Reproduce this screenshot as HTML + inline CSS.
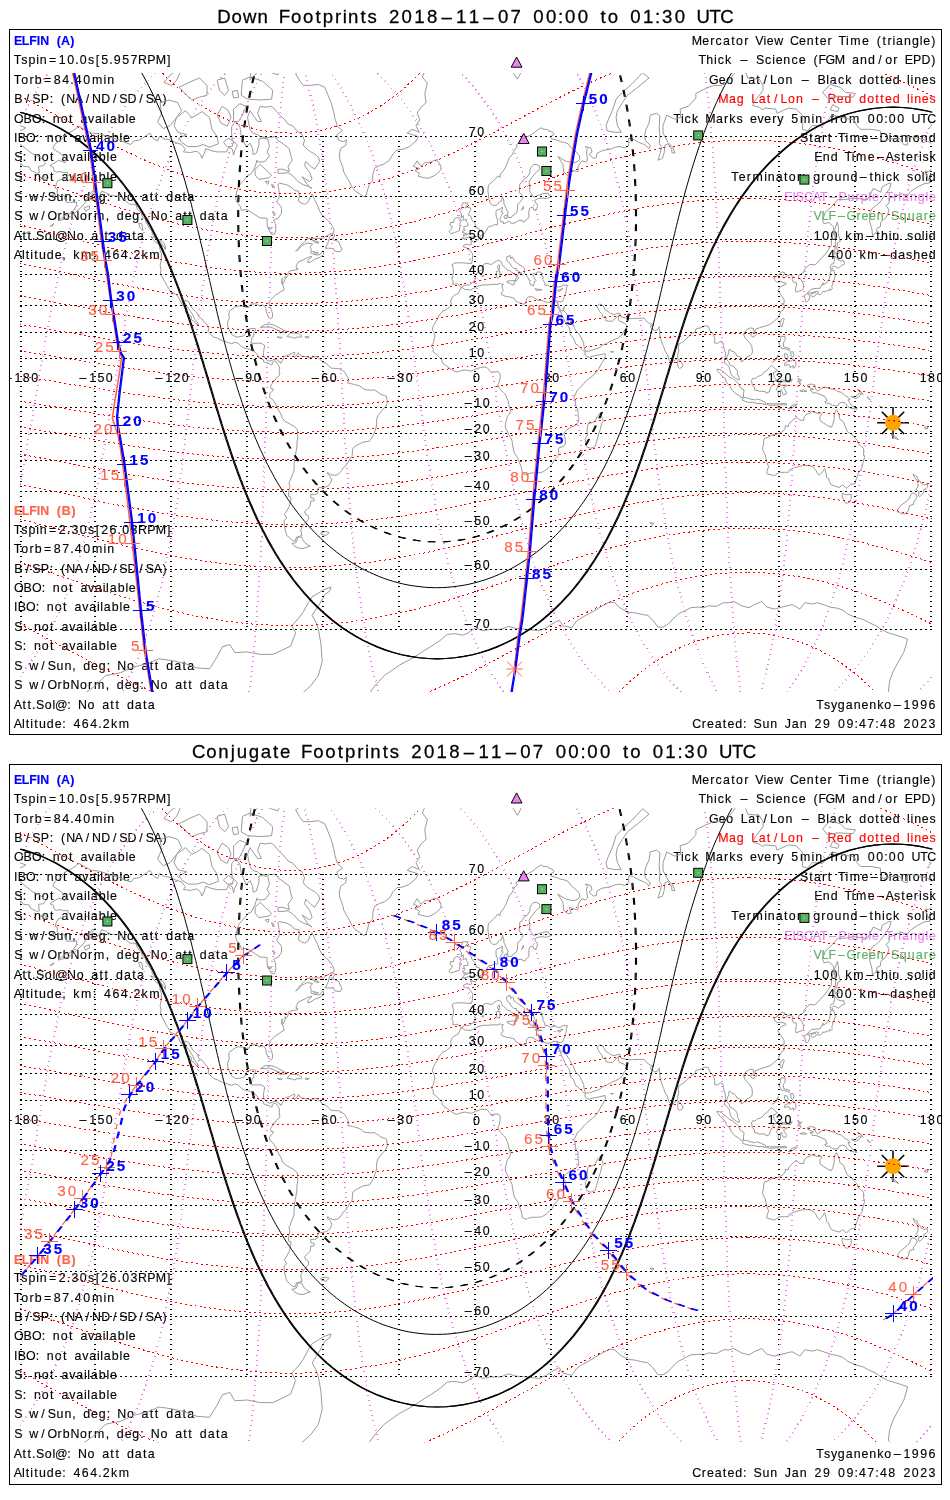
<!DOCTYPE html>
<html><head><meta charset="utf-8"><title>ELFIN Footprints</title>
<style>html,body{margin:0;padding:0;background:#fff}svg{display:block;will-change:transform}text{font-family:"Liberation Sans", sans-serif;text-anchor:middle;white-space:pre;stroke-width:.13px}</style></head>
<body>
<svg width="950" height="1500" viewBox="0 0 950 1500">
<rect width="950" height="1500" fill="#fff"/>
<defs>
<clipPath id="clip1"><rect x="20" y="73.1" width="913" height="619.0"/></clipPath>
<clipPath id="fclip1"><rect x="10" y="29.5" width="931" height="705.0"/></clipPath>
<clipPath id="clip2"><rect x="20" y="808.3" width="913" height="634.0"/></clipPath>
<clipPath id="fclip2"><rect x="10" y="764.5" width="931" height="720.0"/></clipPath>
</defs>
<text x="224.0 236.6 249.6 262.6 273.7 284.5 296.2 308.2 318.0 327.9 338.0 344.7 353.2 363.0 372.2 382.7 394.1 406.7 419.4 432.1 446.7 461.2 473.9 488.5 503.1 515.7 527.1 538.5 551.2 560.7 570.2 582.9 594.3 603.2 613.0 624.1 635.5 648.1 657.7 667.2 679.8 691.2 703.3 715.3 727.0" y="23.0" font-size="18.6" fill="#000" stroke="#000" style="stroke-width:.28px">Down Footprints 2018–11–07 00:00 to 01:30 UTC</text>
<text x="198.8 211.4 223.5 232.7 241.8 253.9 265.9 275.7 285.2 296.0 306.8 318.5 330.5 340.4 350.2 360.3 367.0 375.5 385.3 394.5 405.0 416.4 429.1 441.7 454.4 469.0 483.6 496.2 510.8 525.4 538.0 549.5 560.9 573.5 583.0 592.5 605.2 616.6 625.5 635.3 646.4 657.8 670.5 680.0 689.5 702.1 713.6 725.6 737.6 749.4" y="758.0" font-size="18.6" fill="#000" stroke="#000" style="stroke-width:.28px">Conjugate Footprints 2018–11–07 00:00 to 01:30 UTC</text>
<g id="panel1">
<text x="18.1 25.6 33.0 38.4 44.7 52.6 58.9 65.6 72.3" y="45.2" font-size="12.4" fill="#0000ff" stroke="#0000ff" font-weight="bold">ELFIN (A)</text>
<text x="17.5 24.4 31.9 37.6 43.2 52.6 62.3 70.7 76.9 83.2 91.0 97.5 104.6 110.9 117.2 125.6 133.9 142.5 151.3 160.8 168.7" y="64.0" font-size="12.4" fill="#000" stroke="#000">Tspin=10.0s[5.957RPM]</text>
<text x="17.5 24.8 31.5 38.2 47.6 57.3 65.6 71.9 78.2 86.6 97.1 105.0 110.7" y="83.5" font-size="12.4" fill="#000" stroke="#000">Torb=84.40min</text>
<text x="18.5 27.5 36.3 44.9 51.4 56.8 63.1 70.7 79.0 87.4 96.6 105.7 114.7 123.5 132.0 141.1 149.9 157.8 164.5" y="102.8" font-size="12.4" fill="#000" stroke="#000">B/SP: (NA/ND/SD/SA)</text>
<text x="18.7 27.7 36.7 43.4 48.9 56.2 64.2 70.7 76.5 83.9 91.2 98.5 104.2 107.5 113.2 121.2 126.8 132.3" y="122.7" font-size="12.4" fill="#000" stroke="#000">OBO: not available</text>
<text x="15.8 21.9 30.9 37.6 43.0 50.3 58.3 64.8 70.7 78.0 85.3 92.7 98.3 101.7 107.3 115.3 120.9 126.4" y="141.6" font-size="12.4" fill="#000" stroke="#000">IBO: not available</text>
<text x="18.3 24.6 30.0 37.4 45.3 51.8 57.7 65.0 72.3 79.7 85.3 88.7 94.3 102.3 108.0 113.4" y="161.0" font-size="12.4" fill="#000" stroke="#000">S: not available</text>
<text x="18.3 24.6 30.0 37.4 45.3 51.8 57.7 65.0 72.3 79.7 85.3 88.7 94.3 102.3 108.0 113.4" y="180.7" font-size="12.4" fill="#000" stroke="#000">S: not available</text>
<text x="18.3 25.8 33.8 43.0 51.8 60.0 67.9 74.0 79.5 86.8 94.5 102.3 108.4 113.8 121.8 130.4 137.7 145.0 151.5 156.6 162.4 169.8 177.7 184.2 190.7" y="200.6" font-size="12.4" fill="#000" stroke="#000">S w/Sun, deg: No att data</text>
<text x="18.3 25.8 33.8 43.0 52.2 59.6 66.3 74.9 83.4 90.1 99.2 107.5 113.0 120.3 128.1 135.8 141.9 147.3 155.3 163.9 171.2 178.6 185.1 190.1 195.9 203.3 211.2 217.7 224.2" y="220.4" font-size="12.4" fill="#000" stroke="#000">S w/OrbNorm, deg: No att data</text>
<text x="17.9 24.2 29.2 33.8 40.1 48.2 53.9 61.2 71.5 80.1 87.4 94.8 101.3 106.3 112.1 119.5 127.4 133.9 140.4" y="239.5" font-size="12.4" fill="#000" stroke="#000">Att.Sol@No att data</text>
<text x="17.9 23.3 27.5 31.7 35.9 42.4 50.3 58.1 64.0 69.4 76.3 86.2 94.5 100.0 107.5 115.9 124.3 130.6 136.9 144.6 154.5" y="258.8" font-size="12.4" fill="#000" stroke="#000">Altitude, km: 464.2km</text>
<text x="18.1 25.6 33.0 38.4 44.7 52.6 58.9 66.3 73.6" y="514.8" font-size="12.4" fill="#ff6347" stroke="#ff6347" font-weight="bold">ELFIN (B)</text>
<text x="17.5 24.4 31.9 37.6 43.2 52.6 62.3 68.6 74.9 83.2 91.0 97.5 104.6 113.0 119.3 125.6 133.9 142.5 151.3 160.8 168.7" y="533.6" font-size="12.4" fill="#000" stroke="#000">Tspin=2.30s[26.03RPM]</text>
<text x="17.5 24.8 31.5 38.2 47.6 57.3 65.6 71.9 78.2 86.6 97.1 105.0 110.7" y="552.8" font-size="12.4" fill="#000" stroke="#000">Torb=87.40min</text>
<text x="18.5 27.5 36.3 44.9 51.4 56.8 63.1 70.7 79.0 87.4 96.6 105.7 114.7 123.5 132.0 141.1 149.9 157.8 164.5" y="572.6" font-size="12.4" fill="#000" stroke="#000">B/SP: (NA/ND/SD/SA)</text>
<text x="18.7 27.7 36.7 43.4 48.9 56.2 64.2 70.7 76.5 83.9 91.2 98.5 104.2 107.5 113.2 121.2 126.8 132.3" y="591.7" font-size="12.4" fill="#000" stroke="#000">OBO: not available</text>
<text x="15.8 21.9 30.9 37.6 43.0 50.3 58.3 64.8 70.7 78.0 85.3 92.7 98.3 101.7 107.3 115.3 120.9 126.4" y="611.4" font-size="12.4" fill="#000" stroke="#000">IBO: not available</text>
<text x="18.3 24.6 30.0 37.4 45.3 51.8 57.7 65.0 72.3 79.7 85.3 88.7 94.3 102.3 108.0 113.4" y="630.6" font-size="12.4" fill="#000" stroke="#000">S: not available</text>
<text x="18.3 24.6 30.0 37.4 45.3 51.8 57.7 65.0 72.3 79.7 85.3 88.7 94.3 102.3 108.0 113.4" y="650.2" font-size="12.4" fill="#000" stroke="#000">S: not available</text>
<text x="18.3 25.8 33.8 43.0 51.8 60.0 67.9 74.0 79.5 86.8 94.5 102.3 108.4 113.8 121.8 130.4 137.7 145.0 151.5 156.6 162.4 169.8 177.7 184.2 190.7" y="670.0" font-size="12.4" fill="#000" stroke="#000">S w/Sun, deg: No att data</text>
<text x="18.3 25.8 33.8 43.0 52.2 59.6 66.3 74.9 83.4 90.1 99.2 107.5 113.0 120.3 128.1 135.8 141.9 147.3 155.3 163.9 171.2 178.6 185.1 190.1 195.9 203.3 211.2 217.7 224.2" y="689.4" font-size="12.4" fill="#000" stroke="#000">S w/OrbNorm, deg: No att data</text>
<text x="17.9 24.2 29.2 33.8 40.1 48.2 53.9 61.2 69.0 74.4 82.4 91.0 98.3 105.7 112.1 117.2 123.0 130.4 138.3 144.8 151.3" y="708.7" font-size="12.4" fill="#000" stroke="#000">Att.Sol@: No att data</text>
<text x="17.9 23.3 27.5 31.7 35.9 42.4 50.3 58.1 64.0 69.4 76.9 85.3 93.7 100.0 106.3 114.0 123.9" y="728.2" font-size="12.4" fill="#000" stroke="#000">Altitude: 464.2km</text>
<text x="697.0 705.8 712.2 718.7 726.5 733.0 739.5 746.2 752.3 759.4 764.8 770.3 778.7 786.6 794.4 802.5 810.3 816.8 823.1 829.6 835.6 842.3 847.4 855.3 865.4 872.5 878.8 884.2 889.5 893.9 899.5 907.5 915.5 921.1 926.6 933.3" y="45.2" font-size="12.4" fill="#000" stroke="#000">Mercator View Center Time (triangle)</text>
<text x="702.4 709.7 715.4 720.8 728.2 735.1 743.9 752.7 760.2 768.2 773.6 779.1 786.8 794.6 802.1 809.2 815.5 822.2 830.4 839.8 848.2 855.5 863.5 871.5 880.1 888.6 895.3 901.4 908.8 917.1 925.9 933.3" y="64.0" font-size="12.4" fill="#000" stroke="#000">Thick – Science (FGM and/or EPD)</text>
<text x="713.9 722.1 729.8 737.2 744.1 751.6 758.1 765.2 773.4 781.0 788.9 796.3 805.1 813.9 821.6 827.7 833.3 841.1 848.4 855.3 862.7 870.6 877.1 882.1 888.4 896.2 903.5 908.5 911.9 917.6 925.3 932.6" y="83.5" font-size="12.4" fill="#000" stroke="#000">Geo Lat/Lon – Black dotted lines</text>
<text x="723.3 732.4 740.3 747.7 754.6 762.1 768.6 775.7 783.9 791.4 799.4 806.7 815.5 824.3 832.1 840.2 848.0 855.3 862.7 870.6 877.1 882.1 888.4 896.2 903.5 908.5 911.9 917.6 925.3 932.6" y="102.8" font-size="12.4" fill="#f00" stroke="#f00">Mag Lat/Lon – Red dotted lines</text>
<text x="677.3 682.3 687.7 695.1 702.0 710.4 719.4 726.1 732.4 739.5 746.4 753.5 760.6 767.8 774.3 780.3 787.0 794.6 805.1 813.0 818.7 826.0 831.9 837.1 843.8 854.1 863.7 871.3 879.6 885.9 892.2 900.6 908.1 916.1 924.0 931.8" y="122.7" font-size="12.4" fill="#000" stroke="#000">Tick Marks every 5min from 00:00 UTC</text>
<text x="804.2 810.9 817.4 824.1 829.4 835.2 841.9 847.0 854.9 865.0 874.2 884.0 890.1 895.8 906.0 916.3 924.3 932.2" y="141.6" font-size="12.4" fill="#000" stroke="#000">Start Time–Diamond</text>
<text x="818.3 826.2 834.2 841.5 848.2 853.2 861.2 871.3 880.5 889.7 897.0 903.1 909.4 915.9 920.3 925.5 932.6" y="161.0" font-size="12.4" fill="#000" stroke="#000">End Time–Asterisk</text>
<text x="735.1 742.2 748.7 757.7 765.7 771.3 779.3 785.8 792.3 799.0 803.8 809.2 816.6 823.3 830.0 837.9 845.9 853.9 863.3 871.3 877.7 883.4 888.9 896.2 903.1 910.0 917.6 923.2 926.6 932.2" y="180.7" font-size="12.4" fill="#000" stroke="#000">Terminator: ground–thick solid</text>
<text x="788.5 794.2 800.0 808.6 816.8 823.9 832.7 842.6 850.9 857.6 864.3 870.0 875.4 882.6 889.3 895.3 899.7 905.4 913.4 921.3 927.0 932.4" y="200.6" font-size="12.4" fill="#ee82ee" stroke="#ee82ee">EISCAT–Purple Triangle</text>
<text x="817.6 825.0 832.3 841.5 851.4 858.5 865.0 872.5 880.3 887.6 895.1 903.3 911.3 919.2 925.9 932.4" y="220.4" font-size="12.4" fill="#57b260" stroke="#57b260">VLF–Green Square</text>
<text x="817.2 825.6 834.0 841.5 848.4 858.3 870.0 878.0 884.5 890.1 895.8 903.1 910.0 917.6 923.2 926.6 932.2" y="239.5" font-size="12.4" fill="#000" stroke="#000">100 km–thin solid</text>
<text x="831.5 839.8 848.2 855.8 862.7 872.5 884.2 893.7 901.6 909.2 916.7 924.5 932.2" y="258.8" font-size="12.4" fill="#000" stroke="#000">400 km–dashed</text>
<text x="820.1 827.1 834.0 841.3 849.3 857.2 865.0 872.7 880.3 887.8 897.2 906.9 915.3 923.6 932.0" y="708.7" font-size="12.4" fill="#000" stroke="#000">Tsyganenko–1996</text>
<text x="696.7 703.9 710.4 718.1 724.6 730.9 738.6 744.7 750.2 757.7 765.9 773.8 781.2 787.9 795.2 803.2 810.5 818.0 826.4 834.0 841.5 849.9 856.2 862.5 870.8 877.1 883.4 891.8 899.3 906.9 915.3 923.6 932.0" y="728.2" font-size="12.4" fill="#000" stroke="#000">Created: Sun Jan 29 09:47:48 2023</text>
<path d="M899.0,422.8L908.8,422.8 M897.2,427.1L904.2,434.0 M893.0,428.8L893.0,438.6 M888.7,427.1L881.8,434.0 M887.0,422.8L877.2,422.8 M888.7,418.6L881.8,411.7 M893.0,416.8L893.0,407.0 M897.2,418.6L904.2,411.7" stroke="#000" stroke-width="1.5" fill="none"/>
<circle cx="893.0" cy="422.8" r="8" fill="#ffa500"/>
<g clip-path="url(#clip1)" fill="none">
<path d="M49.9,165.7 58.8,160.2 65.1,162.7 65.6,157.7 60.0,153.2 52.9,148.6 54.5,144.5 61.3,139.6 65.4,134.6 72.7,130.8 79.0,126.2 85.4,130.1 91.7,133.1 99.3,133.8 108.2,136.7 118.3,139.6 124.6,142.4 131.0,144.5 133.5,141.0 138.6,140.3 143.6,137.5 150.0,133.1 151.2,135.3 153.8,138.9 157.6,141.0 159.6,136.0 163.9,138.9 169.0,139.6 175.3,142.4 181.6,144.5 185.4,149.2 183.4,151.9 190.5,152.5 196.8,151.2 200.6,154.5 201.9,158.3 204.4,153.2 205.7,148.6 210.8,150.6 217.1,151.9 222.2,151.9 226.5,151.9 228.5,147.2 232.3,149.2 233.6,155.1 234.8,150.6 237.4,145.2 232.3,140.3 231.5,131.6 231.8,126.2 235.8,121.5 239.9,127.0 241.2,135.3 243.2,140.3 246.2,147.2 250.0,143.1 252.6,148.6 253.1,154.5 256.4,153.2 258.9,145.2 258.9,138.9 262.7,138.2 267.8,138.9 269.5,146.6 267.0,151.9 269.5,155.8 265.2,161.4 261.4,162.0 257.6,162.0 256.9,160.2 255.1,166.9 251.3,173.9 247.5,175.6 245.7,178.3 241.7,182.7 238.6,186.4 236.6,192.1 235.6,198.6 236.9,202.0 240.4,206.7 241.4,210.4 246.2,209.4 251.3,212.2 255.1,214.8 260.2,217.9 267.0,218.3 267.3,226.8 269.5,230.9 271.6,234.5 274.6,234.1 275.9,229.7 275.4,223.5 273.6,220.1 278.4,217.9 281.4,213.5 281.7,208.1 279.2,204.3 276.6,202.0 279.2,197.1 279.2,192.1 277.9,184.3 279.7,183.2 286.8,184.8 291.8,187.5 294.4,190.6 298.7,191.1 299.4,196.1 298.2,201.0 302.0,203.4 304.5,204.3 308.3,202.0 310.1,197.1 312.1,194.1 314.6,199.6 317.7,205.7 319.7,211.3 322.7,215.7 327.3,220.1 330.3,222.6 332.4,226.4 334.1,229.7 333.6,232.5 331.1,234.1 326.8,235.7 323.5,238.4 318.4,238.4 313.4,238.4 307.0,238.8 304.5,241.9 300.7,245.3 297.7,249.0 295.6,251.2 298.2,249.7 302.0,245.6 307.0,243.0 312.6,243.8 310.1,247.1 311.3,249.7 310.8,253.0 313.9,254.4 318.4,255.1 321.0,253.7 323.0,250.8 323.8,254.4 320.2,257.2 314.6,259.3 310.8,262.1 307.8,262.8 308.3,259.7 312.1,256.5 308.3,257.2 305.8,258.6 302.0,260.4 298.2,262.1 296.4,265.5 296.1,268.2 298.2,268.8 296.9,269.8 294.4,270.2 290.6,270.8 288.0,272.5 288.0,275.4 286.0,278.0 285.0,276.4 285.0,279.5 283.5,283.3 282.2,284.2 282.0,278.6 281.7,283.6 283.0,284.9 283.7,287.9 284.2,289.8 281.2,291.3 278.4,293.4 275.4,295.2 272.8,297.8 270.3,300.1 269.3,303.6 269.8,306.5 271.3,309.6 272.6,313.8 272.3,317.7 270.6,318.7 268.3,316.6 266.2,312.1 266.0,308.5 263.7,305.3 261.9,305.1 259.2,305.9 256.4,303.9 252.6,303.9 250.0,304.5 249.0,307.3 246.2,307.3 242.9,306.2 238.6,305.9 235.3,306.8 232.3,309.0 229.3,311.3 228.8,314.9 229.3,317.7 227.7,321.7 227.7,325.8 229.0,329.3 231.0,333.2 232.3,335.1 234.3,336.1 236.1,337.1 239.9,336.6 242.9,336.1 245.0,334.5 246.2,331.1 246.7,329.5 251.3,328.5 255.1,328.5 255.6,330.3 253.8,333.0 253.6,336.4 252.1,337.1 251.6,340.3 250.8,343.1 253.8,343.4 257.6,343.1 261.4,343.4 264.7,345.4 264.0,349.3 263.5,352.3 263.5,355.6 265.2,358.1 267.3,360.4 269.8,361.1 272.8,360.1 274.1,359.1 276.6,359.6 279.2,361.4 279.7,361.9 280.9,363.1 279.4,361.9 M278.4,365.1 277.1,363.1 275.4,360.9 273.6,361.4 272.1,362.6 272.3,364.6 270.6,364.9 269.0,363.6 265.7,362.6 263.7,361.9 263.5,359.9 260.2,358.1 258.1,357.4 258.1,355.6 255.9,353.1 253.8,350.8 253.6,349.8 251.3,350.0 247.5,348.7 244.2,348.2 241.7,346.7 237.9,343.1 235.3,342.3 231.5,343.6 227.2,342.3 222.4,340.8 217.6,338.2 213.3,336.9 210.8,334.5 208.2,331.4 208.7,328.5 207.0,325.0 204.7,322.3 201.9,319.0 198.4,316.8 197.9,314.1 195.3,311.3 193.0,309.3 190.5,305.6 188.7,301.6 184.9,300.1 184.7,302.8 185.9,305.1 188.5,308.5 190.5,311.3 193.0,315.4 194.8,319.3 196.8,321.7 198.1,323.9 196.8,324.7 194.3,321.7 191.3,319.6 191.3,316.3 187.2,313.8 185.4,311.6 186.2,309.3 183.7,306.5 181.6,303.3 179.6,299.9 178.6,297.2 175.6,294.0 173.5,292.8 170.2,291.9 169.5,289.5 166.7,285.5 165.2,282.4 163.9,280.2 161.9,276.4 160.4,273.4 161.1,269.8 160.1,265.5 161.4,259.7 161.4,253.7 159.9,249.0 159.6,245.6 163.9,246.4 165.4,249.7 165.4,246.0 163.9,243.4 162.6,241.5 159.3,239.6 155.0,237.3 152.5,234.9 151.7,230.9 149.2,227.6 146.2,222.6 145.4,219.2 142.4,217.0 141.1,212.6 137.3,209.0 136.0,204.8 132.7,204.3 129.7,204.3 125.9,201.0 121.9,197.1 117.0,196.1 110.7,195.6 105.6,192.6 101.8,191.1 99.3,196.1 95.5,198.6 90.9,200.0 92.2,193.6 95.5,190.1 91.7,191.6 89.2,195.1 86.6,199.1 84.6,203.4 80.3,208.1 75.7,212.2 72.7,215.7 68.9,217.5 65.1,219.2 61.3,220.1 58.0,220.9 61.8,217.9 65.1,215.3 68.9,214.4 73.5,210.4 76.0,206.7 77.0,202.4 74.0,202.0 70.2,202.4 66.4,202.4 65.1,199.6 64.3,195.6 60.0,196.1 57.0,192.6 57.5,189.0 55.0,188.0 56.7,183.2 58.3,180.5 61.3,179.4 66.4,177.8 68.1,175.6 67.6,172.1 63.8,172.7 60.0,171.6 56.2,172.1 53.7,170.4 53.7,167.5 49.9,165.7 M364.0,197.1 360.2,194.1 355.2,191.1 351.9,187.0 349.3,181.6 346.3,176.7 343.8,172.1 342.5,166.3 340.0,160.2 339.2,155.1 340.7,148.6 345.8,145.2 346.3,139.6 343.8,141.7 338.7,140.3 336.9,134.6 342.5,130.8 337.4,126.2 334.9,118.3 333.6,111.6 331.1,102.7 328.1,95.3 324.8,87.4 318.4,84.4 310.8,85.4 303.2,85.4 299.4,80.2 295.6,73.7 303.2,69.2 293.1,60.9 290.6,57.2 303.2,44.3 310.8,30.0 323.5,5.5 361.5,-9.5 399.5,-24.0 419.8,-3.7 432.4,14.1 445.1,22.3 429.9,37.3 431.2,50.9 426.1,68.0 422.3,77.0 427.4,83.3 424.8,93.4 426.1,102.7 421.0,107.2 417.2,113.3 419.8,119.9 416.0,125.5 419.3,132.3 412.2,129.3 407.1,133.1 412.2,134.6 418.5,136.7 416.0,141.0 409.6,146.6 403.3,149.2 397.0,149.9 393.2,153.8 389.4,160.2 384.3,163.9 379.2,165.7 374.7,168.1 372.9,173.9 372.6,180.5 369.1,184.8 367.6,190.1 366.1,195.1 364.0,197.1 M279.4,361.9 280.9,363.1 282.5,360.6 284.0,357.4 285.8,355.6 289.3,354.8 292.6,353.1 294.4,352.0 294.9,353.6 293.6,355.6 294.4,357.6 295.6,356.1 298.2,354.3 298.2,352.6 299.4,354.3 302.0,356.3 305.8,356.6 309.6,357.6 313.4,357.1 317.2,356.3 318.4,358.1 321.0,360.1 322.2,361.9 326.0,363.1 328.6,365.9 331.1,368.1 334.9,368.4 338.7,368.6 342.5,370.6 345.0,372.3 346.3,375.1 348.3,378.5 348.8,381.0 347.6,383.0 350.1,383.5 352.6,384.0 354.4,384.5 359.0,385.7 362.0,387.5 364.0,389.4 367.8,389.9 371.6,390.2 374.2,389.9 378.0,392.2 381.0,394.4 384.3,395.4 386.3,396.1 387.1,400.4 387.1,403.4 385.6,406.6 383.0,409.4 380.5,412.4 378.0,415.5 376.7,419.3 376.7,423.2 376.2,427.3 374.9,430.9 373.7,434.4 371.6,438.1 369.4,441.3 366.1,441.6 362.3,442.4 360.2,443.7 357.7,444.8 354.2,447.0 352.6,449.2 352.4,452.5 352.1,456.1 349.8,459.0 348.1,462.4 345.8,465.9 343.3,467.6 341.7,470.5 340.0,472.6 337.4,474.7 334.9,475.3 332.4,475.0 329.6,473.8 327.6,472.3 327.3,473.8 329.8,475.6 330.6,477.5 331.9,479.9 330.3,483.6 327.8,486.1 323.5,487.7 318.9,487.7 317.7,489.6 317.9,493.2 314.6,494.8 310.8,494.2 310.8,497.8 314.1,498.5 314.1,500.8 310.8,501.2 310.1,506.3 307.5,508.8 304.5,511.6 305.8,514.5 308.8,516.3 308.3,519.6 304.5,523.7 302.0,527.2 300.7,530.3 302.0,535.5 299.4,536.3 296.1,537.5 295.6,541.3 292.3,540.4 289.3,537.5 286.8,535.5 285.5,531.1 284.5,526.4 284.0,520.7 286.8,518.1 284.2,514.5 286.8,510.9 289.3,506.3 290.6,501.2 291.1,497.2 288.5,496.2 288.8,491.3 289.8,486.5 289.0,482.4 290.1,480.8 291.3,477.2 293.4,472.6 294.1,469.7 294.1,463.8 294.6,459.0 295.4,455.3 296.1,451.1 296.9,447.0 296.9,442.9 297.7,437.5 297.7,433.0 297.2,429.4 294.6,426.8 291.1,424.7 287.5,422.6 284.7,421.1 282.2,417.8 280.9,414.2 278.9,410.9 277.4,407.9 276.1,404.9 274.1,401.6 272.8,399.6 270.0,397.9 269.5,394.7 270.8,392.4 272.8,390.9 273.3,388.9 271.1,388.9 270.6,386.0 272.1,383.7 272.8,381.3 275.4,380.0 276.1,378.0 278.4,376.6 279.9,373.8 279.2,370.6 279.4,366.9 278.4,365.1 M301.7,537.1 302.7,539.6 304.5,542.5 308.8,545.5 310.3,545.9 307.0,547.2 303.2,548.5 298.2,548.1 294.4,545.9 291.8,543.4 295.6,542.9 297.4,540.4 296.9,537.9 299.4,537.1 301.7,537.1 M321.0,532.3 326.0,531.5 329.1,532.7 326.0,535.5 321.0,534.3 321.0,532.3 M460.6,287.9 462.1,287.6 465.4,289.8 467.9,289.5 470.4,290.1 474.0,288.2 478.0,286.1 483.1,284.9 488.2,284.9 493.2,284.2 497.0,284.5 500.3,283.3 501.6,284.5 503.4,283.9 502.1,286.1 502.4,288.2 503.4,290.4 501.3,292.8 501.3,294.3 503.9,295.7 507.2,296.9 508.9,296.6 512.2,297.8 514.0,298.1 515.5,300.7 518.6,302.5 522.4,303.9 524.9,303.9 526.4,302.2 526.2,299.0 528.7,296.9 531.2,296.6 533.8,297.5 536.3,299.3 538.8,300.4 542.6,300.7 546.4,302.2 549.0,302.5 551.5,301.6 554.0,300.4 556.6,301.0 557.3,301.3 557.8,305.1 558.1,306.5 559.6,309.9 561.1,313.0 562.4,316.3 564.2,319.8 565.4,322.3 566.7,325.0 569.0,327.1 569.7,329.8 570.0,333.5 571.3,336.1 573.3,337.7 574.8,341.6 575.8,344.1 578.1,345.4 580.6,348.0 583.2,350.5 585.2,351.8 584.9,354.1 587.0,356.8 589.5,357.1 593.3,356.1 597.1,355.3 600.9,354.6 605.2,353.6 605.2,357.1 604.2,359.4 602.2,362.6 600.1,366.1 598.4,369.6 595.8,372.6 592.5,376.1 589.5,378.3 586.5,380.8 583.7,383.5 581.4,386.2 579.4,388.4 577.3,389.9 576.1,392.9 574.8,395.4 573.8,397.9 575.3,400.1 575.3,402.9 576.1,406.6 577.8,409.2 578.1,412.4 578.1,415.5 578.9,419.3 578.4,421.9 576.3,424.4 573.0,426.3 569.2,428.1 566.2,430.7 563.9,433.0 564.7,436.2 565.4,439.7 565.4,444.3 563.4,446.4 559.1,447.8 558.3,449.7 558.8,452.5 557.8,456.7 555.3,459.0 554.0,460.7 552.0,464.4 549.0,467.3 546.2,469.7 542.6,472.0 540.4,472.6 536.3,472.9 531.7,472.9 527.4,474.1 526.2,475.0 523.6,473.8 522.1,473.2 521.9,469.7 521.1,466.7 519.3,462.4 518.1,458.7 517.0,456.7 515.0,453.9 513.8,451.4 513.0,447.0 512.2,442.9 512.2,441.0 510.5,437.5 508.9,434.9 507.2,430.9 505.4,427.8 505.4,423.7 506.4,420.6 507.2,416.7 509.4,414.2 510.5,410.4 509.7,407.4 508.9,404.9 507.9,400.4 506.7,397.9 505.9,395.4 505.4,394.7 503.4,392.4 500.8,389.9 499.1,387.5 497.8,384.7 499.3,382.3 499.8,379.3 500.3,376.8 500.1,374.8 499.8,373.1 498.0,371.6 496.3,371.8 493.2,372.1 490.7,372.3 489.2,370.1 486.9,367.4 484.1,367.1 480.6,367.4 478.0,368.4 475.5,369.1 473.0,370.4 470.4,371.1 467.9,370.4 465.4,369.9 461.6,370.4 459.0,371.3 456.5,372.1 454.0,371.1 451.4,369.4 448.1,367.4 446.4,365.9 443.8,364.4 442.1,361.9 441.8,359.4 440.0,358.1 438.0,356.1 437.2,355.1 435.5,353.6 433.2,352.0 433.2,349.5 432.9,348.0 431.2,346.2 432.4,344.1 433.7,342.3 434.2,339.0 435.0,336.4 434.2,333.7 433.7,331.6 432.4,330.1 432.7,327.7 434.2,324.4 435.5,322.0 437.5,319.0 438.8,315.7 441.3,312.7 442.8,311.0 445.1,310.4 447.6,308.5 450.2,306.5 451.2,303.9 450.7,301.0 451.9,297.8 454.0,295.5 456.2,294.6 458.3,293.4 459.8,290.4 460.6,287.9 M461.3,287.3 459.5,285.8 457.8,283.6 455.2,284.2 452.7,284.2 453.2,281.1 451.7,278.9 452.7,276.4 453.2,274.1 453.5,270.8 453.0,267.5 451.9,264.8 454.5,263.1 457.8,262.8 461.6,262.8 465.9,263.1 470.9,263.5 471.7,263.1 472.5,259.0 472.7,255.5 472.5,253.7 470.4,250.8 469.2,249.0 466.6,247.9 463.6,247.1 463.3,245.6 466.6,244.2 470.4,244.9 471.4,244.5 470.9,240.7 472.2,240.7 472.7,241.9 475.5,242.3 475.8,241.5 478.0,239.6 479.6,238.4 480.1,236.1 481.8,235.3 483.6,234.1 484.4,233.7 485.6,231.7 486.9,229.7 487.7,227.6 489.4,226.4 492.7,226.0 493.7,224.7 495.8,224.7 497.0,225.2 497.8,223.5 497.3,221.8 497.5,219.2 496.3,217.0 496.0,214.8 496.0,211.3 497.0,209.9 499.6,209.4 502.4,207.1 502.1,210.4 501.3,212.2 503.1,213.1 501.3,215.7 500.3,217.5 499.8,219.2 500.3,220.1 500.8,221.8 503.4,221.8 503.1,223.5 505.9,223.1 507.2,221.8 509.7,221.4 511.5,223.9 516.0,222.2 518.6,220.5 522.1,220.1 522.9,221.8 524.9,221.8 526.2,219.6 528.7,217.9 529.0,216.2 528.7,211.3 530.0,208.1 532.8,207.1 534.3,210.4 536.3,210.4 537.3,206.7 537.3,204.3 535.0,202.0 535.0,200.0 538.1,198.6 541.4,198.1 546.4,198.6 552.0,196.6 549.0,195.1 548.2,193.1 543.9,193.6 538.8,195.1 533.8,197.1 531.7,194.1 529.5,191.1 530.0,185.9 529.0,182.2 530.0,180.0 532.5,176.7 536.3,172.1 539.8,169.2 539.6,166.3 536.8,164.5 533.8,164.5 531.7,166.3 530.0,169.2 530.0,172.7 527.4,176.7 523.6,179.4 522.4,182.2 519.8,183.8 519.6,187.5 519.1,192.6 521.6,194.6 523.1,197.1 521.9,199.6 519.8,202.4 517.8,203.9 517.6,208.1 517.0,212.2 515.0,214.0 511.7,216.6 511.5,217.5 508.4,217.5 508.2,216.6 507.4,214.0 508.2,212.2 505.9,208.5 505.6,207.1 503.9,203.9 503.9,201.0 502.4,196.6 501.6,201.0 499.6,201.5 497.0,204.8 495.8,205.3 493.2,205.7 489.9,202.9 489.7,201.0 488.7,198.6 488.4,194.1 487.9,191.1 488.2,187.0 488.7,184.8 490.7,183.2 493.2,181.1 495.8,178.3 497.5,176.1 500.3,177.2 500.1,175.0 502.1,172.1 504.1,169.8 505.9,166.3 507.2,163.3 508.4,160.2 509.7,157.0 512.0,155.1 513.5,151.9 514.8,149.2 517.3,147.2 516.0,145.2 519.8,142.4 521.1,140.3 523.6,138.9 527.4,136.7 530.0,135.3 533.8,133.1 536.3,130.8 540.9,127.8 543.9,129.3 546.9,129.3 549.0,130.8 552.8,132.3 554.0,134.6 550.2,136.7 551.5,138.9 555.3,139.6 559.1,141.0 560.4,141.7 564.2,142.4 568.0,143.8 571.8,148.6 576.8,152.5 579.4,155.8 579.9,159.6 576.8,162.0 573.0,162.7 566.7,161.4 562.9,159.6 557.8,156.4 560.4,160.2 562.9,164.5 563.7,172.1 568.0,175.6 571.3,175.0 569.2,169.2 573.0,170.4 576.8,171.6 578.1,171.6 578.1,166.3 581.9,160.8 585.7,162.0 587.5,160.2 587.0,155.8 586.5,151.9 587.5,148.6 585.2,146.6 590.8,147.9 592.0,151.9 589.0,154.5 593.3,158.3 596.3,157.7 597.1,153.2 602.2,150.6 609.8,149.2 612.3,148.6 614.8,147.2 619.9,146.6 625.0,147.9 628.8,145.2 628.8,138.2 632.6,138.9 638.9,142.4 642.7,143.8 645.7,145.2 649.0,148.6 650.3,145.2 645.2,140.3 644.7,134.6 646.0,129.3 649.0,123.1 650.3,115.0 656.6,113.3 659.9,115.8 659.2,127.0 659.9,136.7 659.2,143.8 661.7,147.2 660.4,152.5 657.9,160.2 662.5,158.3 664.2,152.5 665.0,145.2 668.0,143.8 671.8,149.2 671.8,152.5 675.1,153.2 672.6,147.2 668.0,142.4 663.0,133.1 663.0,125.5 666.8,115.0 674.4,119.1 680.7,117.5 680.2,109.0 688.3,106.3 695.9,98.1 695.9,93.4 706.0,88.4 713.6,85.4 721.2,85.4 727.6,82.3 731.4,77.0 739.7,66.9 745.3,71.4 747.8,78.0 759.2,79.1 763.0,85.4 763.0,90.4 754.2,101.8 752.9,105.5 759.2,107.2 763.0,109.9 764.3,108.1 775.7,109.0 777.0,113.3 788.4,108.1 796.0,109.0 802.3,115.0 802.8,123.1 802.3,129.3 807.4,130.8 812.4,125.5 822.6,126.2 828.9,119.1 832.2,115.0 845.4,118.3 854.2,119.9 856.8,125.5 860.6,129.3 870.7,129.3 880.3,130.8 880.8,138.9 883.4,141.0 891.0,138.9 899.8,138.9 903.6,144.5 907.4,145.2 907.4,136.7 913.8,137.5 921.4,138.9 927.7,141.0 931.5,143.8 M19.5,143.8 25.8,148.6 32.2,153.8 39.8,157.0 45.6,162.7 43.6,165.7 38.5,166.3 39.3,172.7 36.7,173.3 30.9,170.4 29.1,166.9 23.3,166.3 20.8,163.3 19.5,169.2 M931.5,169.2 928.5,171.6 925.2,171.0 925.2,173.3 927.7,177.8 930.2,182.7 923.9,183.8 917.6,187.0 911.2,191.1 906.9,196.1 901.9,193.6 896.0,196.1 893.0,197.1 889.2,198.1 889.2,202.9 885.9,205.7 887.2,206.7 888.9,210.4 887.9,214.0 885.4,218.3 880.8,222.2 880.3,226.8 877.0,228.1 876.5,231.7 872.5,235.7 872.0,229.7 869.7,221.4 869.7,212.6 872.5,208.1 875.8,205.7 880.1,202.0 885.4,194.6 889.7,188.5 891.0,183.2 888.9,183.2 882.1,187.0 880.8,192.1 873.2,188.5 868.2,198.6 866.9,199.6 858.0,198.6 853.0,198.1 845.4,199.6 837.8,199.6 831.4,206.7 825.1,212.6 822.6,220.1 823.8,223.5 828.9,222.6 833.7,226.8 833.7,232.5 831.4,239.6 831.4,245.3 827.6,250.8 825.1,254.4 820.0,259.7 815.0,264.8 809.9,264.5 806.9,266.8 804.1,270.2 804.1,272.1 798.7,275.4 798.2,277.3 800.8,279.2 803.3,284.2 803.6,288.2 802.3,290.1 798.5,291.3 796.0,292.2 795.5,288.8 796.5,285.2 796.2,282.7 793.4,282.1 792.2,279.5 792.9,276.4 790.6,274.7 787.9,275.4 783.5,278.3 782.5,276.4 785.1,273.1 782.0,271.8 778.2,275.4 773.9,278.0 775.2,280.5 777.0,282.4 780.8,281.7 785.8,283.0 786.1,284.2 782.0,285.8 780.3,287.3 777.7,290.4 779.0,291.9 780.8,294.9 784.1,299.3 784.1,302.2 784.3,303.0 781.5,303.9 784.6,305.3 783.8,309.3 781.3,311.3 779.0,315.4 778.5,317.7 774.9,320.4 771.9,323.1 769.4,324.7 764.8,326.3 763.0,326.6 759.2,327.9 755.4,329.3 754.7,331.6 753.7,331.1 753.4,328.5 750.4,327.9 747.8,329.0 745.8,330.6 743.5,333.7 744.8,337.7 747.3,340.5 749.9,342.8 751.9,346.7 752.4,351.0 752.1,353.6 749.1,356.1 746.6,357.1 745.3,359.1 742.3,361.4 741.0,361.6 741.5,358.1 739.5,356.8 736.9,356.1 735.9,353.6 733.9,351.8 731.4,351.3 730.1,349.3 728.8,349.8 728.8,353.1 727.1,356.1 726.8,359.9 728.8,361.9 730.1,365.1 732.6,366.1 735.2,368.1 737.4,371.1 737.4,374.3 739.0,377.3 739.5,379.5 737.7,379.8 735.2,377.8 732.4,376.1 730.6,373.1 729.6,369.4 729.3,366.9 727.8,365.6 725.5,363.1 724.5,363.1 724.5,360.6 725.3,356.8 725.5,353.1 724.3,349.3 723.3,345.4 722.8,342.1 720.7,341.3 717.4,343.4 714.4,342.8 714.9,339.0 713.6,335.1 712.4,332.4 710.6,331.9 708.1,326.3 704.8,325.8 701.0,327.7 698.9,328.2 695.9,329.0 695.4,331.1 694.6,332.4 692.9,333.0 690.8,334.3 688.3,336.9 686.5,338.4 684.0,341.3 681.2,342.8 678.9,344.1 678.2,348.0 678.9,350.3 677.7,354.3 677.7,357.4 675.6,359.9 673.6,360.9 671.8,362.9 669.3,360.6 668.5,358.1 667.3,354.3 665.0,350.8 663.7,346.7 662.5,344.1 661.2,340.3 659.9,335.1 659.7,331.1 659.2,328.5 659.4,326.6 657.9,329.3 654.9,330.6 650.8,327.7 650.3,326.1 653.6,324.4 650.3,323.9 648.3,322.6 646.2,320.9 645.2,319.6 644.2,318.2 638.9,318.2 632.6,318.5 631.3,318.7 625.0,317.9 620.7,316.8 619.9,313.5 618.1,313.2 614.3,314.6 610.5,313.5 608.5,311.8 605.5,310.2 604.2,307.9 602.7,305.1 599.6,303.9 598.4,305.1 597.1,306.5 598.4,309.3 599.6,311.6 602.2,314.3 602.7,316.8 604.2,317.7 605.2,316.0 606.2,318.5 605.5,320.4 608.5,321.2 612.3,321.2 615.6,318.2 617.6,316.0 618.4,315.4 618.4,319.0 619.4,321.2 624.0,322.8 627.0,325.8 626.2,328.5 623.7,331.4 621.9,335.1 618.6,337.7 615.6,339.0 612.3,340.3 607.7,342.8 602.2,345.4 598.9,348.0 593.8,349.5 589.5,351.0 585.7,351.3 584.9,349.8 583.9,345.9 583.7,342.8 581.9,339.0 579.9,335.1 576.1,331.1 574.6,328.5 573.0,324.4 570.5,320.9 569.7,318.5 568.0,316.3 565.4,312.1 563.7,310.7 564.2,306.5 562.9,310.2 562.4,311.3 560.6,310.2 558.3,305.6 557.3,301.3 561.1,301.9 562.4,301.3 563.7,298.7 564.2,296.9 565.4,293.7 566.4,290.4 566.2,288.8 567.0,286.7 567.2,284.9 565.4,285.5 563.2,284.9 560.9,286.7 557.8,287.0 553.3,284.5 552.8,286.4 550.2,286.7 547.7,285.2 544.9,285.2 544.7,282.7 542.6,279.5 543.4,277.0 541.9,276.4 541.9,274.7 542.9,273.1 541.9,274.1 541.4,272.5 538.8,271.8 536.3,272.5 536.8,274.1 535.0,274.1 533.5,273.1 532.8,274.7 534.3,277.3 533.8,278.3 536.3,280.5 535.5,281.4 534.3,281.4 534.3,283.3 533.3,284.9 533.8,285.8 532.5,285.8 531.7,284.5 530.5,284.9 529.5,282.1 530.5,280.5 528.7,279.9 528.2,278.0 526.7,275.7 524.6,273.4 524.6,270.5 524.6,268.5 522.4,266.5 521.1,265.8 517.0,263.1 514.0,260.7 513.2,257.9 512.0,256.9 510.7,258.6 510.0,256.2 510.2,255.5 506.7,256.9 506.7,259.7 507.4,261.4 509.7,262.8 511.0,265.8 513.5,268.2 516.5,268.5 516.0,270.2 518.6,271.2 521.1,272.8 522.4,274.4 521.9,275.4 520.8,273.8 519.1,273.1 517.6,274.7 517.3,276.0 518.8,278.0 517.3,279.5 516.3,281.1 515.3,281.1 515.8,278.9 516.3,276.4 515.3,274.7 513.5,274.1 513.0,272.8 511.5,272.1 510.2,270.8 507.4,270.2 506.4,268.8 504.9,267.2 503.4,266.5 502.1,264.8 501.6,263.1 500.8,261.4 500.3,261.1 498.0,260.0 496.3,261.4 494.5,262.1 494.0,262.4 492.0,264.1 490.7,264.5 488.9,263.8 486.9,263.5 484.4,263.8 483.1,265.2 483.6,267.2 483.1,268.8 481.1,270.2 478.0,271.5 477.5,272.5 476.0,274.1 474.7,276.4 476.0,278.6 474.2,280.2 473.7,282.4 473.0,282.4 470.9,283.6 469.4,284.9 466.6,285.2 464.4,285.2 462.1,286.7 461.3,287.3 M461.1,239.2 464.1,238.4 466.6,237.6 470.4,237.3 473.0,236.9 476.3,236.5 479.0,235.3 479.0,234.1 477.3,233.7 478.5,232.5 479.8,229.7 478.8,228.1 476.3,228.1 476.0,225.6 475.5,225.2 475.0,223.5 472.5,220.9 471.7,219.2 470.4,215.7 467.9,214.8 468.9,213.5 470.4,210.4 470.9,208.1 466.6,207.1 464.9,208.1 467.4,204.3 467.9,202.9 462.8,202.9 461.6,206.7 460.8,210.4 459.8,211.7 461.6,214.0 461.1,217.9 463.3,215.7 463.3,219.2 462.6,220.1 466.6,219.6 466.4,221.4 467.9,223.5 467.9,226.0 464.6,226.4 463.8,226.4 464.1,228.5 465.1,229.7 463.6,231.7 462.1,232.1 464.9,233.3 467.4,234.1 468.7,233.7 466.6,234.9 464.6,234.9 463.8,236.5 462.6,238.4 461.1,239.2 M459.3,230.9 460.0,226.4 459.8,223.5 461.3,220.9 459.8,218.3 456.8,217.5 454.5,218.8 453.7,220.9 454.0,222.2 450.2,222.6 450.4,225.6 452.7,226.8 451.4,228.5 450.7,229.7 449.2,231.3 449.9,232.9 450.7,233.7 454.5,232.5 457.8,231.3 459.3,230.9 M418.0,176.1 419.8,173.3 414.7,170.4 419.8,168.6 413.4,166.3 417.2,160.8 421.0,166.3 424.8,162.7 429.9,162.7 434.5,160.2 438.3,161.4 441.0,166.3 440.8,169.8 437.5,173.3 433.7,176.1 428.1,178.3 424.1,177.8 418.0,176.1 M503.4,44.3 509.7,63.3 511.0,69.2 517.3,79.1 519.8,74.8 522.4,69.2 528.7,60.9 523.6,50.9 521.1,40.1 511.0,40.1 503.4,44.3 M606.0,125.5 607.2,130.8 614.8,132.3 621.2,132.3 617.4,125.5 616.1,117.5 617.4,110.7 622.4,102.7 627.5,95.3 637.6,87.4 649.0,78.0 642.7,72.6 632.6,83.3 622.4,92.4 616.1,99.1 612.3,110.7 608.5,119.1 606.0,125.5 M822.6,92.4 830.2,84.4 840.3,87.4 845.4,92.4 855.5,93.4 853.0,97.2 837.8,96.2 827.6,98.1 822.6,92.4 M830.2,109.9 837.8,111.6 839.0,108.1 832.7,104.6 830.2,109.9 M928.2,129.3 931.5,125.5 M19.5,125.5 25.8,127.8 22.0,130.1 19.5,130.1 M807.1,293.4 811.2,289.2 815.0,288.5 820.0,288.2 822.1,284.5 823.3,282.7 822.6,284.9 826.4,283.0 827.6,281.1 829.7,278.0 830.2,274.7 830.2,272.5 830.9,270.8 833.7,270.2 834.7,274.1 835.2,276.4 834.0,280.2 832.7,281.1 832.7,284.2 831.7,286.4 832.4,288.2 830.9,290.1 829.7,290.4 829.7,288.8 829.1,289.8 827.6,291.3 826.4,290.4 825.6,291.6 822.6,291.6 822.3,292.5 820.0,294.9 818.0,294.0 818.3,291.6 816.2,291.3 813.7,292.2 810.7,292.8 807.4,293.7 807.1,293.4 M807.1,293.7 809.1,294.6 809.9,296.9 808.4,300.7 806.6,301.9 805.3,301.3 805.3,298.4 804.3,297.2 804.1,295.5 805.8,294.6 807.1,293.7 M811.2,294.0 815.0,292.5 816.7,294.0 815.5,295.5 812.4,296.9 810.9,295.5 811.2,294.0 M830.9,269.8 830.2,266.5 831.4,264.1 833.5,263.8 834.5,259.7 835.0,256.2 837.8,259.7 841.1,261.1 843.6,260.4 844.1,263.1 844.9,263.8 841.6,265.2 838.5,268.2 834.7,266.2 832.7,266.5 831.9,267.5 832.9,268.8 830.9,269.8 M835.2,254.4 834.7,250.8 835.2,247.1 835.7,241.5 834.7,235.7 834.7,229.7 836.5,224.3 837.3,222.2 838.5,227.6 838.3,233.7 840.3,241.5 837.8,242.6 836.7,247.1 837.3,250.1 839.0,251.5 839.0,253.7 837.0,252.2 835.2,254.4 M783.3,318.2 784.3,319.0 783.3,321.7 781.8,327.1 780.0,324.7 780.0,322.3 782.0,319.0 783.3,318.2 M755.4,332.4 756.7,333.5 755.2,335.8 752.9,337.1 750.9,335.6 750.9,333.7 752.9,332.4 755.4,332.4 M781.0,336.4 785.1,336.4 785.1,340.3 783.3,342.8 783.5,346.7 785.8,347.5 789.6,348.5 789.1,350.8 787.1,349.3 784.1,348.7 781.3,348.5 781.0,346.7 779.5,345.4 779.0,342.1 780.5,341.3 780.5,339.0 781.0,336.4 M793.4,358.6 795.7,361.9 796.0,365.6 794.7,367.4 793.2,368.1 793.4,365.6 790.1,367.6 789.6,365.1 788.1,364.4 784.8,365.6 784.6,363.1 787.9,361.6 790.4,361.6 791.7,360.6 793.4,358.6 M790.4,351.8 792.9,351.8 793.9,355.1 792.2,357.6 790.9,356.1 791.1,354.3 790.4,351.8 M784.6,353.6 787.3,354.3 788.1,356.8 787.1,360.1 785.8,358.6 784.6,356.8 784.6,353.6 M772.4,362.1 775.7,359.9 778.2,354.8 777.5,357.6 774.4,360.9 772.4,362.1 M753.1,378.0 754.9,378.8 757.5,376.6 761.8,375.1 764.3,371.8 766.8,370.6 769.4,367.4 771.4,365.6 773.7,367.1 775.7,369.4 777.5,370.4 774.9,372.1 773.4,372.6 773.9,375.6 774.4,377.6 777.0,380.5 774.2,381.0 773.2,383.0 773.2,385.0 770.9,386.7 770.1,389.2 769.4,391.9 766.1,393.2 765.6,391.7 763.0,391.2 759.2,391.4 758.0,390.4 754.7,390.2 754.2,386.7 752.1,385.0 751.9,382.3 751.4,380.5 753.1,378.0 M716.9,369.1 721.2,370.1 723.8,372.3 726.3,374.3 729.8,377.3 732.6,378.5 736.4,381.5 738.5,383.5 740.2,387.5 744.0,389.9 744.0,391.2 743.5,393.7 743.5,397.4 740.5,397.4 739.7,395.9 734.7,392.9 731.4,389.4 729.6,385.5 726.3,382.3 725.5,378.8 723.0,377.1 720.0,373.8 717.2,370.6 716.9,369.1 M742.0,399.9 744.0,397.6 746.6,397.6 750.4,399.1 755.4,399.9 756.7,398.9 760.7,400.1 765.3,402.4 765.6,404.6 761.8,403.6 758.0,403.6 752.9,402.4 749.1,402.4 745.3,401.4 742.0,399.9 M766.8,403.4 769.4,403.6 771.9,403.9 777.0,403.9 779.5,403.6 786.6,403.6 786.6,404.9 779.5,404.9 777.0,404.9 771.9,405.4 769.4,405.1 766.8,404.6 766.8,403.4 M777.0,406.6 781.5,407.9 779.5,408.6 777.0,406.6 M788.4,408.6 792.2,405.4 797.2,403.9 796.0,405.4 790.9,408.4 788.4,408.6 M778.2,396.6 778.2,391.7 776.5,389.9 777.7,386.0 779.0,383.0 779.5,381.0 781.5,379.8 785.8,380.5 789.6,380.8 792.2,379.0 790.9,382.0 787.1,381.8 782.0,381.8 780.0,383.0 780.0,385.2 783.3,385.2 787.6,385.2 785.1,387.0 783.3,387.7 785.3,390.4 786.6,392.9 785.8,394.4 783.3,394.4 782.0,391.7 781.8,389.7 780.3,390.4 780.5,394.2 780.5,396.6 778.2,396.6 M798.5,378.0 799.8,380.5 801.5,379.3 799.8,382.0 800.8,385.0 799.0,383.0 798.5,378.0 M799.8,390.9 803.6,389.9 806.9,391.2 803.6,391.7 799.8,390.9 M807.4,385.0 811.2,384.0 815.0,385.0 815.5,388.9 817.5,391.2 821.3,388.4 825.1,387.0 830.2,388.7 834.0,389.4 837.8,391.4 841.6,392.4 844.9,395.4 848.4,397.6 849.9,399.6 847.9,399.9 849.2,402.1 851.7,405.4 855.5,408.1 857.3,409.2 854.2,408.9 850.4,408.1 847.9,406.6 845.4,403.1 842.3,402.1 839.0,403.4 837.8,405.9 835.2,405.9 832.7,405.6 828.9,403.1 826.4,403.6 824.6,401.6 827.1,400.9 826.4,399.1 825.1,396.6 820.0,394.4 816.2,392.9 812.4,392.9 811.9,391.2 809.9,390.2 813.7,389.2 811.2,388.4 807.4,386.5 807.4,385.0 M851.2,396.6 855.5,396.6 859.3,393.4 861.3,393.7 859.3,396.6 855.5,398.6 851.2,396.6 M857.5,389.4 861.8,392.4 863.1,394.7 860.6,391.7 857.5,389.4 M867.4,396.6 870.2,399.9 868.2,398.6 867.4,396.6 M879.6,406.1 882.9,407.4 880.8,407.4 879.6,406.1 M836.5,409.7 839.0,414.2 839.8,419.3 843.6,421.9 844.9,425.7 847.4,431.7 851.7,434.1 853.5,436.7 857.3,440.2 857.5,442.9 861.8,447.0 863.6,448.3 863.6,453.9 864.6,457.3 863.1,462.4 861.8,468.2 858.8,472.3 857.3,476.2 855.5,481.1 855.5,483.3 850.4,484.6 846.4,488.4 842.8,484.9 841.6,485.8 839.0,487.4 834.0,485.8 831.4,484.9 829.4,481.8 828.9,478.7 826.4,477.2 826.4,475.0 825.1,469.7 824.6,468.5 822.6,471.7 820.0,474.7 819.5,475.3 818.0,474.1 815.5,469.7 813.7,467.3 808.6,465.3 802.3,465.6 794.7,467.6 789.6,469.7 788.4,472.3 784.6,472.3 779.5,472.3 774.4,475.6 767.1,473.8 766.8,471.4 768.6,466.7 766.8,462.4 765.8,457.5 764.8,453.9 762.3,449.7 763.3,445.6 763.8,440.2 764.3,438.3 767.1,437.8 771.4,435.2 775.9,434.4 779.5,433.3 783.3,430.9 785.1,428.3 785.3,425.7 788.4,426.5 788.6,424.4 790.9,421.9 793.4,419.3 796.7,417.5 799.8,420.1 803.6,420.3 804.3,416.7 806.9,414.0 809.9,413.4 811.4,411.4 817.5,413.4 821.3,412.9 822.1,413.7 819.8,416.7 820.0,420.6 823.8,423.2 827.6,425.7 831.4,427.3 832.7,424.4 834.2,419.3 834.2,415.0 835.2,411.7 836.5,409.7 M842.1,493.5 846.6,494.8 851.2,494.2 851.2,498.5 849.9,501.9 847.4,503.2 845.4,502.9 843.3,499.5 842.1,496.2 842.1,493.5 M913.0,473.8 915.0,475.6 917.1,476.5 918.3,480.2 920.1,481.1 921.1,483.3 923.9,484.9 927.2,483.9 927.7,486.5 926.2,488.7 923.9,489.6 923.6,492.9 920.1,496.5 918.1,495.5 919.3,491.9 916.3,489.6 915.8,489.0 917.8,487.4 918.1,483.3 916.8,480.2 913.8,476.2 913.0,473.8 M913.0,492.9 915.8,494.2 917.1,496.8 915.5,499.5 913.3,502.9 913.8,504.3 909.5,505.6 908.2,511.2 904.9,513.8 901.9,513.8 897.3,511.6 898.1,508.8 901.1,505.3 904.9,502.5 909.2,498.8 911.2,493.9 913.0,492.9 M891.0,433.8 894.8,436.2 898.6,439.7 896.0,438.9 892.2,436.2 891.0,433.8 M924.7,426.8 927.9,427.3 927.4,428.9 924.7,428.6 924.7,426.8 M600.4,412.9 603.4,421.4 601.7,423.2 600.6,428.3 598.4,434.9 596.6,441.6 595.1,446.7 590.8,448.3 587.0,447.0 585.7,442.9 585.2,438.9 587.7,434.9 587.0,430.9 587.7,425.7 588.2,423.7 592.8,422.4 595.8,420.1 597.1,416.7 599.1,414.2 600.4,412.9 M678.2,358.6 681.2,361.9 683.0,364.9 682.0,367.4 679.4,368.4 677.9,366.9 677.7,363.1 678.2,358.6 M260.4,327.4 265.2,324.4 270.3,324.2 274.1,325.2 279.2,327.7 283.7,330.1 287.5,331.9 285.5,332.7 278.7,332.7 279.9,330.8 276.6,329.8 272.8,327.9 268.3,326.6 265.2,327.1 260.4,327.4 M287.0,336.6 290.6,332.7 293.9,333.0 298.2,333.2 302.0,336.1 301.5,337.1 296.9,337.1 294.4,338.4 291.1,337.1 287.0,336.6 M277.1,336.9 282.2,337.4 280.4,338.2 277.1,336.9 M305.3,336.6 309.1,336.9 308.3,337.9 305.3,337.7 305.3,336.6 M325.3,248.2 327.8,243.4 329.8,236.9 333.6,233.7 334.9,234.9 332.4,239.6 334.9,240.4 338.7,241.5 340.0,245.3 342.0,249.0 340.0,251.9 334.9,251.2 333.6,248.6 328.6,248.2 325.3,248.2 M312.1,240.0 318.4,241.9 318.9,243.0 314.6,242.3 312.1,240.0 M312.6,251.5 318.4,253.0 316.4,254.4 312.6,251.5 M150.5,236.5 157.6,238.8 162.6,245.3 159.3,244.9 155.0,241.5 150.5,236.5 M138.6,223.1 141.6,223.5 143.1,230.9 139.8,227.6 138.6,223.1 M84.1,208.1 89.2,205.7 89.7,209.0 85.4,211.3 84.1,208.1 M40.5,177.8 44.8,177.2 47.9,179.4 43.6,180.0 40.5,177.8 M51.9,195.1 55.7,194.6 55.0,197.1 51.9,195.1 M49.9,226.4 53.7,223.5 52.9,225.6 49.9,226.4 M25.8,232.9 29.1,231.7 28.4,232.9 25.8,232.9 M80.3,331.9 82.8,333.5 81.1,335.3 80.3,333.5 80.3,331.9 M507.2,281.1 514.8,280.5 513.8,285.2 507.2,282.4 507.2,281.1 M496.3,271.5 499.6,270.8 500.1,276.4 498.3,278.0 496.8,277.3 496.3,271.5 M497.3,266.5 499.3,264.8 499.6,268.2 498.8,270.2 497.3,266.5 M535.0,288.8 542.1,289.8 536.3,290.4 535.0,288.8 M557.3,290.4 562.9,288.5 561.4,290.4 559.1,291.6 557.3,290.4 M481.6,276.0 483.6,275.1 483.6,276.7 481.6,276.0 M503.9,216.2 507.2,214.8 506.9,218.3 504.6,218.3 503.9,216.2 M521.6,210.4 523.6,206.2 523.1,209.0 521.6,210.4 M649.8,522.6 654.1,523.4 652.3,524.9 649.8,522.6 M610.5,351.5 613.6,351.8 611.0,352.3 610.5,351.5 M312.1,188.5 308.3,185.9 302.0,176.7 309.6,181.6 312.1,178.9 309.6,172.1 304.5,165.7 305.8,161.4 310.8,166.3 314.6,169.2 319.7,161.4 318.4,157.0 314.6,153.8 310.8,151.9 307.0,149.2 303.2,145.2 304.5,140.3 302.0,134.6 296.9,130.8 293.1,126.2 288.0,123.9 284.2,119.1 280.4,115.8 276.6,111.6 272.8,107.2 270.3,106.3 265.2,107.2 260.2,106.3 257.6,113.3 261.4,121.5 257.6,121.5 250.0,110.7 247.5,117.5 250.0,129.3 252.6,133.1 257.6,134.6 260.2,136.7 267.8,137.5 275.4,136.7 277.9,140.3 283.0,143.8 289.3,148.6 290.6,155.1 292.3,160.2 288.0,166.3 289.3,171.6 283.0,169.2 277.9,169.2 277.9,173.3 283.0,173.3 288.0,172.7 293.1,176.1 298.2,181.6 303.2,184.8 308.3,186.4 312.1,188.5 M209.5,147.2 218.4,143.8 217.1,136.7 212.0,129.3 209.5,117.5 201.9,111.6 196.8,115.0 191.8,117.5 185.4,110.7 176.6,117.5 174.0,125.5 177.8,132.3 186.7,134.6 179.1,138.2 181.6,142.4 188.0,146.6 196.8,146.6 203.2,144.5 209.5,147.2 M157.6,122.3 163.4,128.6 170.2,125.5 176.6,117.5 181.6,110.7 177.8,102.7 169.0,100.0 160.1,102.7 161.4,113.3 157.6,122.3 M255.1,169.2 260.2,164.5 265.2,169.2 271.6,175.0 269.0,177.8 258.9,179.4 255.1,175.0 255.1,169.2 M223.4,142.4 228.5,138.2 233.6,141.7 232.3,146.6 227.2,146.6 223.4,142.4 M217.1,115.0 222.2,106.3 228.5,110.7 231.0,117.5 227.2,126.2 220.9,123.1 217.1,115.0 M233.6,121.5 233.6,109.0 239.9,103.7 246.2,106.3 242.4,115.0 238.6,121.5 233.6,121.5 M242.4,80.2 250.0,77.0 262.7,81.2 272.8,90.4 271.6,99.1 260.2,100.0 247.5,99.1 241.2,95.3 242.4,80.2 M217.1,80.2 224.7,78.0 228.5,90.4 224.7,95.3 219.6,90.4 217.1,80.2 M232.3,91.4 237.4,90.4 238.6,97.2 233.6,98.1 232.3,91.4 M179.1,87.4 189.2,82.3 199.4,78.0 207.0,85.4 207.0,95.3 199.4,97.2 191.8,100.0 186.7,95.3 179.1,87.4 M163.9,82.3 171.5,73.7 181.6,69.2 176.6,80.2 171.5,85.4 163.9,82.3 M250.0,80.2 260.2,69.2 277.9,74.8 283.0,63.3 285.5,44.3 298.2,30.0 318.4,-3.7 285.5,-13.5 247.5,14.1 242.4,37.3 252.6,57.2 250.0,80.2 M267.8,227.2 271.6,228.5 269.0,229.3 267.8,227.2 M271.6,184.3 274.1,185.9 272.8,188.0 271.6,184.3 M265.2,181.6 269.0,181.1 267.8,184.3 265.2,181.6 M272.8,211.3 275.4,214.0 274.1,215.7 272.8,211.3 M19.5,702.7 44.8,708.8 70.2,702.7 82.8,694.6 95.5,685.8 105.6,675.6 120.8,672.6 133.5,666.9 146.2,664.2 158.8,658.8 171.5,660.5 184.2,663.3 196.8,667.9 209.5,668.8 217.1,657.0 222.2,646.9 229.8,644.5 234.8,652.7 247.5,651.9 260.2,654.4 272.8,654.4 280.4,651.0 290.6,646.1 295.6,632.9 291.8,625.7 298.2,618.8 303.2,612.2 308.3,602.7 312.1,596.8 317.2,593.9 323.5,589.9 331.1,587.1 329.8,591.0 324.8,594.4 322.2,599.7 318.4,605.8 312.1,615.4 315.9,622.2 318.4,629.3 321.0,644.5 322.2,661.4 318.4,675.6 310.8,685.8 298.2,696.8 323.5,708.8 361.5,705.1 369.1,693.4 376.7,683.7 384.3,675.6 399.5,665.1 409.6,659.7 415.7,656.1 424.8,650.2 431.7,646.1 440.0,640.5 447.4,634.4 455.2,633.7 462.8,635.2 467.9,632.9 475.5,627.8 483.1,630.7 490.7,629.3 500.8,629.3 508.4,626.4 516.0,628.5 526.2,629.3 538.8,630.7 546.4,627.8 551.5,624.3 559.1,620.1 562.9,625.7 571.8,627.8 576.8,620.8 583.2,616.8 589.5,613.5 597.1,609.0 602.2,605.8 609.8,602.1 614.8,602.7 619.9,607.7 627.5,612.2 635.1,612.8 640.2,614.1 647.8,615.4 652.8,620.1 657.9,627.1 663.0,627.1 668.0,624.3 673.1,618.8 678.2,614.1 685.8,610.2 690.8,607.7 698.4,607.1 703.5,607.7 708.6,605.8 716.2,606.4 723.8,602.7 728.8,602.7 733.9,601.5 741.5,605.8 749.1,607.7 754.2,604.6 761.8,601.5 766.8,607.1 774.4,609.0 779.5,607.7 787.1,605.8 792.2,604.6 799.8,609.0 804.8,602.7 812.4,604.0 817.5,602.7 825.1,605.2 830.2,607.1 837.8,608.3 842.8,610.2 847.9,614.1 855.5,617.4 863.1,619.4 868.2,622.2 875.8,625.7 880.8,629.3 888.4,632.9 893.5,634.4 901.1,636.7 907.4,639.0 906.2,644.5 903.6,652.7 898.6,661.4 893.5,670.7 889.7,680.6 888.4,691.2 893.5,698.0 898.6,700.3 906.2,699.1 918.8,702.7 931.5,702.7" stroke="#9a9a9a" stroke-width="1" fill="none" stroke-linejoin="round"/>
<path d="M20,629.5H932 M20,569.5H932 M20,526.5H932 M20,491.5H932 M20,460.5H932 M20,433.5H932 M20,407.5H932 M20,358.5H932 M20,332.5H932 M20,305.5H932 M20,274.5H932 M20,239.5H932 M20,196.5H932 M20,136.5H932" stroke="#000" stroke-width="1" stroke-dasharray="2 3" shape-rendering="crispEdges"/>
<path d="M21,136V630 M95,136V630 M171,136V630 M247,136V630 M323,136V630 M399,136V630 M475,136V630 M551,136V630 M627,136V630 M703,136V630 M779,136V630 M855,136V630 M931,136V630" stroke="#000" stroke-width="2" stroke-dasharray="1 4" shape-rendering="crispEdges"/>
<path d="M747.7,632.9 L751.7,633.0 L755.6,633.2 L759.6,633.4 L763.5,633.8 L767.5,634.3 L771.4,634.8 L775.4,635.5 L779.4,636.3 L783.3,637.2 L787.3,638.1 L791.2,639.2 L795.2,640.4 L799.1,641.8 L803.1,643.2 L807.0,644.7 L811.0,646.4 L814.9,648.1 L818.9,650.0 L822.8,652.1 L826.8,654.2 L830.8,656.5 L834.7,658.9 L838.7,661.4 L842.7,664.1 L846.6,667.0 L850.6,670.0 L854.6,673.2 L858.5,676.5 L862.5,680.0 L866.5,683.7 L870.5,687.6 L874.5,691.7 L878.6,696.0 L882.6,700.6 L886.6,705.4 L890.7,710.5 L894.8,715.8 L898.9,721.5 L903.0,727.4 L907.1,733.8 L911.3,740.5 L915.6,747.7 L919.8,755.3 L924.2,763.5 L928.6,772.2 L931.5,778.3 M19.5,778.3 L21.1,781.6 L25.7,791.8 L30.4,802.9 L35.3,815.0 L40.4,828.3 L45.8,843.1 L51.6,859.6 L58.0,878.5 L65.3,900.2 L74.0,925.8 L85.1,956.9 L100.9,996.2 L127.7,998.3 L186.0,998.3 L316.0,998.3 L421.8,998.3 L465.4,998.3 L487.3,982.0 L501.1,945.8 L511.3,916.8 L519.4,892.6 L526.3,871.9 L532.5,853.9 L538.2,838.0 L543.5,823.7 L548.5,810.8 L553.4,799.1 L558.0,788.3 L562.6,778.4 L567.0,769.2 L571.4,760.7 L575.7,752.7 L580.0,745.2 L584.2,738.2 L588.4,731.6 L592.5,725.4 L596.6,719.5 L600.7,714.0 L604.8,708.7 L608.9,703.8 L612.9,699.0 L616.9,694.6 L620.9,690.3 L624.9,686.3 L628.9,682.5 L632.9,678.8 L636.9,675.4 L640.9,672.1 L644.9,669.0 L648.8,666.0 L652.8,663.2 L656.8,660.6 L660.7,658.1 L664.7,655.7 L668.7,653.5 L672.6,651.4 L676.6,649.4 L680.5,647.5 L684.5,645.8 L688.4,644.2 L692.4,642.7 L696.3,641.3 L700.3,640.0 L704.2,638.9 L708.2,637.8 L712.1,636.9 L716.1,636.0 L720.1,635.3 L724.0,634.6 L728.0,634.1 L731.9,633.7 L735.9,633.3 L739.8,633.1 L743.8,633.0 L747.7,632.9 M747.9,572.4 L753.2,572.4 L758.5,572.6 L763.8,572.8 L769.1,573.2 L774.4,573.6 L779.7,574.1 L785.0,574.7 L790.3,575.4 L795.6,576.2 L801.0,577.1 L806.3,578.1 L811.7,579.1 L817.1,580.3 L822.5,581.6 L827.9,582.9 L833.4,584.4 L838.9,585.9 L844.4,587.6 L850.0,589.3 L855.6,591.2 L861.2,593.1 L866.9,595.2 L872.6,597.3 L878.3,599.6 L884.2,602.0 L890.0,604.5 L896.0,607.1 L902.0,609.8 L908.1,612.6 L914.3,615.5 L920.6,618.6 L927.0,621.8 L931.5,624.0 M19.5,624.0 L21.5,625.0 L28.1,628.4 L34.8,632.0 L41.7,635.6 L48.8,639.4 L56.0,643.2 L63.4,647.2 L71.0,651.3 L78.8,655.5 L86.9,659.8 L95.3,664.2 L103.9,668.7 L112.8,673.2 L122.1,677.7 L131.7,682.3 L141.7,686.8 L152.1,691.3 L163.0,695.8 L174.3,700.0 L186.0,704.1 L198.2,707.9 L210.8,711.4 L223.9,714.4 L237.3,717.1 L251.0,719.1 L265.0,720.6 L279.2,721.5 L293.5,721.7 L307.7,721.3 L321.8,720.2 L335.7,718.5 L349.4,716.2 L362.7,713.5 L375.6,710.2 L388.1,706.7 L400.1,702.8 L411.7,698.6 L422.8,694.3 L433.5,689.9 L443.8,685.3 L453.7,680.8 L463.2,676.2 L472.4,671.7 L481.2,667.2 L489.7,662.7 L498.0,658.4 L505.9,654.1 L513.7,649.9 L521.2,645.9 L528.6,641.9 L535.7,638.1 L542.7,634.4 L549.6,630.8 L556.3,627.3 L562.9,623.9 L569.3,620.7 L575.7,617.6 L581.9,614.5 L588.1,611.7 L594.1,608.9 L600.1,606.2 L606.1,603.6 L611.9,601.2 L617.7,598.8 L623.5,596.6 L629.2,594.5 L634.8,592.5 L640.5,590.5 L646.0,588.7 L651.6,587.0 L657.1,585.4 L662.6,583.9 L668.0,582.4 L673.4,581.1 L678.8,579.9 L684.2,578.8 L689.6,577.7 L694.9,576.8 L700.3,575.9 L705.6,575.2 L710.9,574.5 L716.2,573.9 L721.5,573.4 L726.8,573.0 L732.1,572.7 L737.4,572.5 L742.7,572.4 L747.9,572.4 M748.1,528.4 L754.0,528.4 L760.0,528.5 L766.0,528.8 L772.0,529.0 L778.0,529.4 L784.0,529.9 L790.0,530.4 L796.0,531.0 L802.0,531.7 L808.1,532.4 L814.1,533.3 L820.2,534.2 L826.3,535.2 L832.4,536.3 L838.6,537.4 L844.8,538.7 L851.0,540.0 L857.2,541.4 L863.5,542.8 L869.8,544.4 L876.1,546.0 L882.5,547.7 L889.0,549.5 L895.5,551.3 L902.0,553.2 L908.7,555.2 L915.3,557.2 L922.1,559.3 L928.9,561.5 L931.5,562.4 M19.5,562.4 L23.8,563.8 L30.8,566.1 L37.9,568.4 L45.1,570.9 L52.3,573.3 L59.7,575.9 L67.2,578.4 L74.8,581.0 L82.6,583.7 L90.5,586.3 L98.5,589.0 L106.7,591.7 L115.1,594.4 L123.6,597.0 L132.2,599.7 L141.1,602.3 L150.1,604.8 L159.3,607.3 L168.7,609.7 L178.2,612.0 L188.0,614.2 L197.9,616.3 L208.0,618.1 L218.2,619.9 L228.6,621.4 L239.1,622.7 L249.7,623.8 L260.4,624.6 L271.2,625.2 L282.0,625.6 L292.9,625.7 L303.7,625.5 L314.5,625.1 L325.3,624.4 L336.0,623.4 L346.6,622.3 L357.0,620.9 L367.4,619.3 L377.6,617.5 L387.6,615.6 L397.4,613.5 L407.1,611.3 L416.6,608.9 L425.9,606.5 L435.1,604.0 L444.0,601.4 L452.8,598.8 L461.5,596.1 L469.9,593.5 L478.2,590.8 L486.3,588.1 L494.3,585.4 L502.1,582.8 L509.9,580.2 L517.4,577.6 L524.9,575.0 L532.3,572.5 L539.5,570.1 L546.6,567.7 L553.7,565.3 L560.6,563.0 L567.5,560.8 L574.3,558.6 L581.0,556.5 L587.7,554.5 L594.3,552.6 L600.8,550.7 L607.3,548.9 L613.7,547.1 L620.1,545.5 L626.5,543.9 L632.8,542.3 L639.0,540.9 L645.2,539.5 L651.4,538.3 L657.6,537.1 L663.7,535.9 L669.9,534.9 L676.0,533.9 L682.0,533.0 L688.1,532.2 L694.1,531.4 L700.2,530.8 L706.2,530.2 L712.2,529.7 L718.2,529.3 L724.2,528.9 L730.1,528.7 L736.1,528.5 L742.1,528.4 L748.1,528.4 M748.1,492.9 L754.6,492.9 L761.0,493.0 L767.4,493.2 L773.9,493.5 L780.3,493.8 L786.7,494.2 L793.2,494.7 L799.7,495.2 L806.1,495.9 L812.6,496.5 L819.1,497.3 L825.6,498.1 L832.2,499.0 L838.7,499.9 L845.3,501.0 L851.9,502.0 L858.5,503.2 L865.2,504.4 L871.8,505.7 L878.6,507.0 L885.3,508.4 L892.1,509.8 L898.9,511.3 L905.8,512.9 L912.7,514.5 L919.7,516.1 L926.7,517.8 L931.5,519.0 M19.5,519.0 L21.8,519.6 L28.9,521.4 L36.1,523.2 L43.4,525.0 L50.7,526.9 L58.1,528.9 L65.6,530.8 L73.1,532.8 L80.8,534.7 L88.5,536.7 L96.3,538.7 L104.3,540.7 L112.3,542.7 L120.4,544.6 L128.6,546.6 L137.0,548.5 L145.4,550.3 L153.9,552.1 L162.6,553.9 L171.3,555.6 L180.2,557.2 L189.2,558.7 L198.2,560.2 L207.4,561.5 L216.6,562.7 L225.9,563.8 L235.3,564.8 L244.8,565.6 L254.3,566.3 L263.9,566.8 L273.4,567.1 L283.1,567.4 L292.7,567.4 L302.3,567.3 L311.9,567.0 L321.5,566.6 L331.0,566.0 L340.5,565.3 L350.0,564.5 L359.3,563.4 L368.6,562.3 L377.8,561.1 L387.0,559.7 L396.0,558.2 L404.9,556.7 L413.7,555.0 L422.5,553.3 L431.1,551.6 L439.6,549.7 L448.0,547.8 L456.3,545.9 L464.5,544.0 L472.5,542.0 L480.5,540.0 L488.4,538.0 L496.2,536.1 L503.9,534.1 L511.5,532.1 L519.1,530.1 L526.5,528.2 L533.9,526.3 L541.2,524.4 L548.5,522.6 L555.6,520.8 L562.8,519.0 L569.8,517.3 L576.8,515.6 L583.8,513.9 L590.6,512.3 L597.5,510.8 L604.3,509.3 L611.1,507.9 L617.8,506.5 L624.5,505.2 L631.2,504.0 L637.8,502.8 L644.5,501.7 L651.0,500.6 L657.6,499.6 L664.2,498.7 L670.7,497.8 L677.2,497.0 L683.7,496.3 L690.2,495.6 L696.6,495.1 L703.1,494.5 L709.6,494.1 L716.0,493.7 L722.4,493.4 L728.9,493.2 L735.3,493.0 L741.7,492.9 L748.1,492.9 M748.2,462.4 L755.0,462.4 L761.7,462.5 L768.5,462.7 L775.2,463.0 L782.0,463.3 L788.8,463.6 L795.6,464.1 L802.3,464.6 L809.1,465.1 L815.9,465.8 L822.7,466.5 L829.6,467.2 L836.4,468.0 L843.3,468.9 L850.1,469.8 L857.0,470.8 L863.9,471.8 L870.8,472.9 L877.8,474.1 L884.8,475.2 L891.8,476.5 L898.8,477.8 L905.9,479.1 L912.9,480.5 L920.1,481.9 L927.2,483.3 L931.5,484.2 M19.5,484.2 L22.5,484.8 L29.7,486.3 L37.0,487.8 L44.3,489.4 L51.7,491.0 L59.2,492.6 L66.7,494.2 L74.2,495.8 L81.8,497.5 L89.5,499.1 L97.2,500.7 L105.0,502.4 L112.9,504.0 L120.8,505.6 L128.8,507.1 L136.9,508.7 L145.0,510.2 L153.3,511.6 L161.6,513.0 L169.9,514.4 L178.3,515.7 L186.8,516.9 L195.4,518.1 L204.0,519.1 L212.7,520.1 L221.4,521.0 L230.2,521.8 L239.0,522.6 L247.9,523.2 L256.8,523.6 L265.7,524.0 L274.6,524.3 L283.6,524.5 L292.6,524.5 L301.5,524.4 L310.5,524.2 L319.4,523.9 L328.3,523.5 L337.2,523.0 L346.1,522.3 L354.9,521.6 L363.7,520.7 L372.4,519.8 L381.0,518.8 L389.6,517.7 L398.2,516.5 L406.6,515.3 L415.0,513.9 L423.4,512.6 L431.6,511.1 L439.8,509.7 L447.9,508.1 L456.0,506.6 L464.0,505.0 L471.9,503.4 L479.7,501.8 L487.5,500.2 L495.2,498.6 L502.9,496.9 L510.5,495.3 L518.0,493.7 L525.5,492.1 L532.9,490.5 L540.3,488.9 L547.6,487.3 L554.9,485.8 L562.1,484.3 L569.3,482.8 L576.4,481.4 L583.6,480.0 L590.6,478.6 L597.7,477.3 L604.7,476.1 L611.7,474.8 L618.7,473.7 L625.6,472.5 L632.5,471.5 L639.4,470.5 L646.3,469.5 L653.2,468.6 L660.0,467.7 L666.8,466.9 L673.7,466.2 L680.5,465.5 L687.3,464.9 L694.1,464.4 L700.8,463.9 L707.6,463.5 L714.4,463.2 L721.2,462.9 L727.9,462.6 L734.7,462.5 L741.4,462.4 L748.2,462.4 M748.2,434.9 L755.3,434.9 L762.3,435.0 L769.3,435.2 L776.4,435.4 L783.4,435.7 L790.4,436.1 L797.5,436.5 L804.5,437.0 L811.5,437.5 L818.6,438.1 L825.7,438.8 L832.7,439.5 L839.8,440.2 L846.9,441.1 L854.0,441.9 L861.1,442.9 L868.2,443.8 L875.3,444.8 L882.5,445.9 L889.6,447.0 L896.8,448.1 L904.0,449.3 L911.2,450.6 L918.5,451.8 L925.7,453.1 L931.5,454.1 M19.5,454.1 L21.1,454.4 L28.4,455.7 L35.7,457.1 L43.1,458.5 L50.5,459.9 L58.0,461.3 L65.5,462.7 L73.0,464.1 L80.6,465.6 L88.2,467.0 L95.8,468.4 L103.5,469.8 L111.3,471.2 L119.1,472.6 L126.9,474.0 L134.8,475.3 L142.7,476.6 L150.7,477.9 L158.7,479.1 L166.8,480.3 L174.9,481.4 L183.1,482.5 L191.3,483.5 L199.6,484.4 L207.9,485.3 L216.2,486.1 L224.6,486.9 L233.0,487.5 L241.5,488.1 L249.9,488.6 L258.4,489.0 L266.9,489.3 L275.4,489.5 L284.0,489.6 L292.5,489.6 L301.0,489.6 L309.5,489.4 L318.1,489.2 L326.6,488.8 L335.0,488.4 L343.5,487.9 L351.9,487.3 L360.3,486.6 L368.7,485.9 L377.0,485.0 L385.3,484.1 L393.6,483.2 L401.8,482.1 L409.9,481.0 L418.0,479.9 L426.1,478.7 L434.1,477.5 L442.1,476.2 L450.0,474.9 L457.9,473.5 L465.7,472.2 L473.5,470.8 L481.2,469.4 L488.9,468.0 L496.5,466.5 L504.1,465.1 L511.7,463.7 L519.2,462.2 L526.7,460.8 L534.1,459.4 L541.5,458.0 L548.9,456.7 L556.2,455.3 L563.5,454.0 L570.8,452.7 L578.1,451.4 L585.3,450.1 L592.5,448.9 L599.7,447.8 L606.9,446.6 L614.0,445.5 L621.2,444.5 L628.3,443.5 L635.4,442.5 L642.5,441.6 L649.6,440.8 L656.7,440.0 L663.8,439.2 L670.8,438.5 L677.9,437.9 L684.9,437.3 L692.0,436.8 L699.0,436.4 L706.1,436.0 L713.1,435.6 L720.1,435.4 L727.2,435.1 L734.2,435.0 L741.2,434.9 L748.2,434.9 M748.3,409.2 L755.5,409.2 L762.8,409.3 L770.1,409.5 L777.3,409.7 L784.6,410.0 L791.9,410.3 L799.1,410.7 L806.4,411.2 L813.7,411.7 L820.9,412.3 L828.2,413.0 L835.5,413.6 L842.7,414.4 L850.0,415.2 L857.3,416.0 L864.6,416.9 L871.9,417.9 L879.2,418.8 L886.5,419.8 L893.8,420.9 L901.1,422.0 L908.4,423.1 L915.8,424.3 L923.1,425.5 L930.5,426.7 L931.5,426.9 M19.5,426.9 L25.9,427.9 L33.3,429.2 L40.7,430.5 L48.2,431.7 L55.6,433.0 L63.1,434.3 L70.6,435.6 L78.1,437.0 L85.7,438.3 L93.3,439.6 L100.9,440.9 L108.5,442.1 L116.2,443.4 L123.9,444.6 L131.7,445.8 L139.4,447.0 L147.3,448.2 L155.1,449.3 L163.0,450.4 L170.9,451.4 L178.8,452.4 L186.8,453.3 L194.8,454.2 L202.8,455.0 L210.9,455.8 L218.9,456.5 L227.0,457.1 L235.2,457.7 L243.3,458.2 L251.5,458.6 L259.7,458.9 L267.8,459.2 L276.0,459.4 L284.2,459.5 L292.4,459.5 L300.6,459.5 L308.8,459.3 L317.0,459.1 L325.2,458.8 L333.4,458.5 L341.6,458.0 L349.7,457.5 L357.8,456.9 L365.9,456.3 L374.0,455.6 L382.0,454.8 L390.0,453.9 L398.0,453.0 L406.0,452.1 L413.9,451.1 L421.8,450.0 L429.7,448.9 L437.5,447.8 L445.3,446.6 L453.1,445.4 L460.8,444.2 L468.5,443.0 L476.2,441.7 L483.8,440.4 L491.4,439.1 L499.0,437.8 L506.5,436.5 L514.1,435.2 L521.5,433.9 L529.0,432.6 L536.5,431.3 L543.9,430.0 L551.3,428.8 L558.7,427.5 L566.1,426.3 L573.5,425.1 L580.8,423.9 L588.2,422.7 L595.5,421.6 L602.8,420.5 L610.1,419.5 L617.4,418.5 L624.7,417.5 L632.0,416.6 L639.3,415.7 L646.6,414.9 L653.8,414.1 L661.1,413.4 L668.4,412.7 L675.6,412.1 L682.9,411.6 L690.2,411.0 L697.4,410.6 L704.7,410.2 L712.0,409.9 L719.2,409.6 L726.5,409.4 L733.8,409.3 L741.0,409.2 L748.3,409.2 M748.3,384.2 L755.8,384.3 L763.3,384.4 L770.8,384.6 L778.2,384.8 L785.7,385.1 L793.2,385.4 L800.7,385.8 L808.1,386.3 L815.6,386.8 L823.1,387.4 L830.5,388.1 L838.0,388.8 L845.4,389.5 L852.9,390.3 L860.3,391.1 L867.8,392.0 L875.2,393.0 L882.7,393.9 L890.1,394.9 L897.5,396.0 L905.0,397.1 L912.4,398.2 L919.9,399.3 L927.3,400.5 L931.5,401.1 M19.5,401.1 L22.8,401.6 L30.2,402.8 L37.7,404.0 L45.1,405.3 L52.6,406.5 L60.1,407.8 L67.6,409.0 L75.1,410.2 L82.6,411.5 L90.2,412.7 L97.7,413.9 L105.3,415.2 L112.9,416.4 L120.5,417.5 L128.1,418.7 L135.8,419.8 L143.4,420.9 L151.1,422.0 L158.8,423.0 L166.5,424.0 L174.3,424.9 L182.0,425.8 L189.8,426.7 L197.6,427.5 L205.5,428.2 L213.3,428.9 L221.2,429.5 L229.0,430.1 L236.9,430.6 L244.8,431.1 L252.7,431.4 L260.7,431.7 L268.6,432.0 L276.5,432.1 L284.5,432.2 L292.4,432.3 L300.3,432.2 L308.3,432.1 L316.2,431.9 L324.1,431.6 L332.1,431.3 L340.0,430.9 L347.9,430.5 L355.7,429.9 L363.6,429.3 L371.5,428.7 L379.3,428.0 L387.1,427.2 L394.9,426.4 L402.7,425.5 L410.5,424.6 L418.2,423.7 L425.9,422.7 L433.6,421.6 L441.3,420.5 L448.9,419.4 L456.6,418.3 L464.2,417.1 L471.8,416.0 L479.4,414.8 L486.9,413.5 L494.5,412.3 L502.0,411.1 L509.5,409.8 L517.1,408.6 L524.5,407.3 L532.0,406.1 L539.5,404.9 L547.0,403.6 L554.4,402.4 L561.9,401.2 L569.3,400.1 L576.8,398.9 L584.2,397.8 L591.6,396.7 L599.1,395.6 L606.5,394.6 L614.0,393.6 L621.4,392.6 L628.8,391.7 L636.3,390.9 L643.7,390.0 L651.2,389.3 L658.6,388.5 L666.1,387.9 L673.5,387.2 L681.0,386.7 L688.5,386.2 L696.0,385.7 L703.4,385.3 L710.9,385.0 L718.4,384.7 L725.9,384.5 L733.3,384.3 L740.8,384.3 L748.3,384.2 M748.4,359.4 L756.1,359.4 L763.8,359.5 L771.5,359.7 L779.2,359.9 L786.9,360.2 L794.5,360.6 L802.2,361.0 L809.9,361.5 L817.6,362.1 L825.2,362.7 L832.9,363.3 L840.5,364.1 L848.1,364.8 L855.7,365.6 L863.3,366.5 L870.9,367.4 L878.5,368.4 L886.1,369.4 L893.6,370.4 L901.2,371.4 L908.7,372.5 L916.3,373.6 L923.8,374.8 L931.3,376.0 L931.5,376.0 M19.5,376.0 L26.8,377.1 L34.3,378.3 L41.8,379.5 L49.3,380.8 L56.8,382.0 L64.3,383.2 L71.8,384.4 L79.3,385.7 L86.8,386.9 L94.3,388.1 L101.8,389.3 L109.3,390.4 L116.9,391.6 L124.4,392.7 L131.9,393.8 L139.5,394.9 L147.0,396.0 L154.6,397.0 L162.2,398.0 L169.7,398.9 L177.3,399.8 L184.9,400.6 L192.6,401.4 L200.2,402.2 L207.8,402.9 L215.5,403.5 L223.1,404.1 L230.8,404.6 L238.5,405.1 L246.2,405.5 L253.9,405.9 L261.5,406.2 L269.2,406.4 L277.0,406.5 L284.7,406.6 L292.4,406.6 L300.1,406.6 L307.8,406.5 L315.5,406.3 L323.2,406.1 L330.9,405.8 L338.5,405.4 L346.2,405.0 L353.9,404.5 L361.6,403.9 L369.2,403.3 L376.9,402.7 L384.5,401.9 L392.1,401.2 L399.7,400.4 L407.3,399.5 L414.9,398.6 L422.5,397.6 L430.1,396.6 L437.6,395.6 L445.2,394.6 L452.7,393.5 L460.3,392.4 L467.8,391.2 L475.3,390.0 L482.8,388.9 L490.3,387.7 L497.8,386.5 L505.3,385.2 L512.8,384.0 L520.3,382.8 L527.8,381.6 L535.3,380.3 L542.8,379.1 L550.3,377.9 L557.8,376.7 L565.3,375.6 L572.9,374.4 L580.4,373.3 L587.9,372.2 L595.5,371.1 L603.0,370.0 L610.6,369.0 L618.2,368.0 L625.7,367.1 L633.3,366.2 L640.9,365.4 L648.6,364.6 L656.2,363.8 L663.8,363.1 L671.5,362.5 L679.1,361.9 L686.8,361.4 L694.5,360.9 L702.2,360.5 L709.8,360.1 L717.5,359.8 L725.2,359.6 L732.9,359.5 L740.6,359.4 L748.4,359.4 M748.4,333.7 L756.3,333.8 L764.3,333.9 L772.2,334.1 L780.1,334.4 L788.0,334.7 L796.0,335.1 L803.9,335.5 L811.7,336.1 L819.6,336.7 L827.5,337.3 L835.3,338.0 L843.1,338.8 L850.9,339.6 L858.7,340.5 L866.5,341.4 L874.2,342.3 L881.9,343.3 L889.6,344.4 L897.3,345.5 L904.9,346.6 L912.6,347.7 L920.2,348.9 L927.8,350.0 L931.5,350.6 M19.5,350.6 L23.4,351.2 L31.0,352.5 L38.5,353.7 L46.0,354.9 L53.6,356.2 L61.1,357.4 L68.5,358.7 L76.0,359.9 L83.5,361.1 L91.0,362.4 L98.4,363.6 L105.9,364.8 L113.3,365.9 L120.8,367.1 L128.2,368.2 L135.6,369.3 L143.1,370.4 L150.5,371.4 L158.0,372.4 L165.4,373.4 L172.8,374.3 L180.3,375.1 L187.7,376.0 L195.2,376.7 L202.6,377.5 L210.1,378.1 L217.6,378.8 L225.0,379.3 L232.5,379.8 L240.0,380.3 L247.4,380.7 L254.9,381.0 L262.4,381.3 L269.9,381.5 L277.4,381.7 L284.8,381.7 L292.3,381.8 L299.8,381.7 L307.3,381.6 L314.8,381.4 L322.3,381.2 L329.7,380.9 L337.2,380.6 L344.7,380.2 L352.2,379.7 L359.6,379.2 L367.1,378.6 L374.5,377.9 L382.0,377.2 L389.5,376.5 L396.9,375.7 L404.4,374.9 L411.8,374.0 L419.2,373.0 L426.7,372.1 L434.1,371.1 L441.5,370.0 L449.0,368.9 L456.4,367.8 L463.9,366.7 L471.3,365.5 L478.8,364.4 L486.2,363.2 L493.7,362.0 L501.1,360.7 L508.6,359.5 L516.1,358.2 L523.6,357.0 L531.1,355.8 L538.6,354.5 L546.2,353.3 L553.7,352.1 L561.3,350.8 L568.9,349.6 L576.5,348.5 L584.1,347.3 L591.7,346.2 L599.4,345.1 L607.1,344.0 L614.8,343.0 L622.5,342.0 L630.3,341.1 L638.0,340.2 L645.8,339.3 L653.6,338.5 L661.5,337.8 L669.3,337.1 L677.2,336.5 L685.0,335.9 L692.9,335.4 L700.8,334.9 L708.7,334.6 L716.7,334.3 L724.6,334.0 L732.5,333.9 L740.5,333.8 L748.4,333.7 M748.4,306.5 L756.6,306.5 L764.8,306.7 L773.0,306.9 L781.2,307.2 L789.4,307.5 L797.6,308.0 L805.7,308.5 L813.8,309.1 L821.9,309.7 L830.0,310.4 L838.0,311.2 L846.0,312.1 L854.0,313.0 L862.0,313.9 L869.9,314.9 L877.8,316.0 L885.7,317.1 L893.5,318.2 L901.3,319.4 L909.1,320.6 L916.8,321.8 L924.5,323.0 L931.5,324.2 M19.5,324.2 L20.2,324.3 L27.8,325.6 L35.4,326.9 L43.0,328.2 L50.5,329.5 L58.1,330.8 L65.6,332.1 L73.0,333.4 L80.5,334.7 L87.9,336.0 L95.3,337.2 L102.7,338.5 L110.1,339.7 L117.5,340.9 L124.8,342.1 L132.2,343.3 L139.5,344.4 L146.8,345.5 L154.1,346.5 L161.4,347.5 L168.7,348.5 L176.0,349.4 L183.3,350.3 L190.6,351.1 L197.8,351.9 L205.1,352.6 L212.4,353.3 L219.6,353.9 L226.9,354.4 L234.2,355.0 L241.4,355.4 L248.7,355.8 L256.0,356.1 L263.2,356.4 L270.5,356.6 L277.8,356.7 L285.0,356.8 L292.3,356.8 L299.5,356.8 L306.8,356.7 L314.1,356.5 L321.3,356.3 L328.6,356.0 L335.9,355.7 L343.1,355.3 L350.4,354.8 L357.7,354.3 L364.9,353.7 L372.2,353.0 L379.5,352.4 L386.7,351.6 L394.0,350.8 L401.3,350.0 L408.6,349.1 L415.9,348.1 L423.2,347.2 L430.5,346.2 L437.8,345.1 L445.1,344.0 L452.4,342.9 L459.8,341.7 L467.1,340.5 L474.5,339.3 L481.9,338.1 L489.3,336.8 L496.7,335.5 L504.1,334.3 L511.6,333.0 L519.1,331.7 L526.6,330.4 L534.1,329.0 L541.7,327.7 L549.3,326.4 L556.9,325.1 L564.5,323.9 L572.2,322.6 L579.9,321.4 L587.7,320.2 L595.4,319.0 L603.2,317.8 L611.1,316.7 L619.0,315.6 L626.9,314.6 L634.8,313.6 L642.8,312.7 L650.8,311.8 L658.8,311.0 L666.8,310.2 L674.9,309.5 L683.0,308.9 L691.2,308.3 L699.3,307.8 L707.5,307.4 L715.6,307.1 L723.8,306.8 L732.0,306.6 L740.2,306.5 L748.4,306.5 M748.5,276.4 L757.0,276.4 L765.5,276.6 L774.1,276.8 L782.6,277.2 L791.0,277.6 L799.5,278.1 L807.9,278.7 L816.3,279.4 L824.7,280.1 L833.0,281.0 L841.3,281.9 L849.6,282.8 L857.8,283.9 L865.9,285.0 L874.0,286.1 L882.1,287.3 L890.1,288.5 L898.1,289.8 L906.0,291.1 L913.9,292.5 L921.7,293.8 L929.5,295.2 L931.5,295.6 M19.5,295.6 L25.2,296.6 L32.9,298.0 L40.5,299.5 L48.1,300.9 L55.7,302.3 L63.2,303.8 L70.7,305.2 L78.1,306.6 L85.5,308.0 L92.9,309.3 L100.2,310.7 L107.5,312.0 L114.8,313.3 L122.1,314.6 L129.3,315.9 L136.5,317.1 L143.7,318.2 L150.9,319.4 L158.1,320.5 L165.2,321.5 L172.3,322.5 L179.4,323.5 L186.5,324.4 L193.6,325.2 L200.7,326.0 L207.8,326.8 L214.8,327.5 L221.9,328.1 L228.9,328.7 L236.0,329.2 L243.0,329.6 L250.1,330.0 L257.1,330.4 L264.1,330.6 L271.2,330.9 L278.2,331.0 L285.2,331.1 L292.2,331.1 L299.3,331.1 L306.3,331.0 L313.3,330.8 L320.4,330.6 L327.4,330.3 L334.4,329.9 L341.5,329.5 L348.5,329.0 L355.6,328.5 L362.6,327.9 L369.7,327.2 L376.7,326.5 L383.8,325.8 L390.9,324.9 L398.0,324.1 L405.1,323.1 L412.2,322.2 L419.3,321.2 L426.5,320.1 L433.6,319.0 L440.8,317.9 L448.0,316.7 L455.2,315.4 L462.5,314.2 L469.8,312.9 L477.0,311.6 L484.4,310.3 L491.7,308.9 L499.1,307.5 L506.5,306.1 L514.0,304.7 L521.5,303.3 L529.0,301.9 L536.6,300.4 L544.2,299.0 L551.8,297.6 L559.5,296.2 L567.3,294.8 L575.1,293.4 L582.9,292.0 L590.8,290.7 L598.7,289.4 L606.7,288.1 L614.7,286.9 L622.8,285.7 L630.9,284.6 L639.1,283.5 L647.3,282.5 L655.6,281.6 L663.9,280.7 L672.2,279.9 L680.6,279.1 L689.0,278.5 L697.5,277.9 L705.9,277.4 L714.4,277.0 L722.9,276.7 L731.4,276.5 L740.0,276.4 L748.5,276.4 M748.6,241.5 L757.5,241.6 L766.5,241.8 L775.4,242.1 L784.3,242.5 L793.2,243.0 L802.1,243.7 L810.9,244.4 L819.7,245.3 L828.4,246.2 L837.0,247.2 L845.6,248.3 L854.2,249.5 L862.6,250.7 L871.0,252.1 L879.4,253.4 L887.6,254.9 L895.8,256.3 L903.9,257.9 L912.0,259.4 L920.0,261.0 L927.9,262.6 L931.5,263.3 M19.5,263.3 L23.7,264.2 L31.5,265.8 L39.2,267.4 L46.9,269.1 L54.5,270.7 L62.0,272.3 L69.5,273.9 L76.9,275.5 L84.3,277.1 L91.6,278.7 L98.9,280.2 L106.1,281.7 L113.3,283.2 L120.5,284.6 L127.6,286.0 L134.6,287.4 L141.7,288.7 L148.7,289.9 L155.7,291.2 L162.7,292.3 L169.6,293.5 L176.5,294.5 L183.4,295.5 L190.3,296.5 L197.2,297.4 L204.0,298.3 L210.9,299.1 L217.7,299.8 L224.5,300.5 L231.3,301.1 L238.1,301.6 L244.9,302.1 L251.6,302.5 L258.4,302.8 L265.2,303.1 L271.9,303.4 L278.7,303.5 L285.4,303.6 L292.2,303.6 L299.0,303.6 L305.7,303.5 L312.5,303.3 L319.2,303.0 L326.0,302.7 L332.8,302.4 L339.6,301.9 L346.3,301.4 L353.1,300.9 L359.9,300.2 L366.8,299.5 L373.6,298.8 L380.4,298.0 L387.3,297.1 L394.1,296.2 L401.0,295.2 L407.9,294.2 L414.8,293.1 L421.8,291.9 L428.8,290.8 L435.8,289.5 L442.8,288.2 L449.9,286.9 L457.0,285.5 L464.1,284.1 L471.2,282.7 L478.4,281.2 L485.7,279.7 L493.0,278.2 L500.3,276.6 L507.7,275.0 L515.2,273.4 L522.6,271.8 L530.2,270.2 L537.8,268.5 L545.5,266.9 L553.2,265.3 L561.0,263.6 L568.9,262.0 L576.8,260.4 L584.8,258.9 L592.9,257.3 L601.0,255.8 L609.3,254.4 L617.5,253.0 L625.9,251.6 L634.3,250.3 L642.8,249.1 L651.4,247.9 L660.0,246.9 L668.7,245.9 L677.4,245.0 L686.2,244.2 L695.0,243.4 L703.9,242.8 L712.8,242.4 L721.7,242.0 L730.6,241.7 L739.6,241.5 L748.6,241.5 M748.7,198.6 L758.3,198.7 L767.9,199.0 L777.5,199.4 L787.0,200.0 L796.5,200.7 L806.0,201.5 L815.3,202.6 L824.6,203.7 L833.8,204.9 L843.0,206.3 L852.0,207.8 L860.9,209.3 L869.7,211.0 L878.4,212.7 L887.1,214.4 L895.6,216.3 L904.0,218.2 L912.3,220.1 L920.4,222.0 L928.5,224.0 L931.5,224.7 M19.5,224.7 L24.5,226.0 L32.4,228.0 L40.2,229.9 L47.9,231.9 L55.6,233.9 L63.1,235.9 L70.5,237.8 L77.9,239.7 L85.2,241.6 L92.5,243.4 L99.6,245.2 L106.8,247.0 L113.8,248.7 L120.8,250.4 L127.8,252.1 L134.7,253.7 L141.5,255.2 L148.3,256.7 L155.1,258.1 L161.8,259.5 L168.5,260.8 L175.2,262.0 L181.8,263.2 L188.5,264.3 L195.0,265.4 L201.6,266.4 L208.2,267.3 L214.7,268.2 L221.2,269.0 L227.7,269.7 L234.2,270.4 L240.6,270.9 L247.1,271.5 L253.6,271.9 L260.0,272.3 L266.4,272.6 L272.9,272.8 L279.3,273.0 L285.7,273.1 L292.1,273.1 L298.6,273.1 L305.0,273.0 L311.4,272.8 L317.9,272.5 L324.3,272.2 L330.7,271.8 L337.2,271.3 L343.7,270.8 L350.1,270.1 L356.6,269.5 L363.1,268.7 L369.6,267.9 L376.2,267.0 L382.7,266.1 L389.3,265.0 L395.9,264.0 L402.5,262.8 L409.2,261.6 L415.8,260.3 L422.6,259.0 L429.3,257.6 L436.1,256.2 L442.9,254.7 L449.8,253.1 L456.7,251.5 L463.7,249.9 L470.7,248.2 L477.8,246.4 L484.9,244.6 L492.1,242.8 L499.3,241.0 L506.7,239.1 L514.1,237.1 L521.6,235.2 L529.1,233.2 L536.8,231.3 L544.5,229.3 L552.3,227.3 L560.3,225.3 L568.3,223.3 L576.4,221.4 L584.6,219.4 L593.0,217.5 L601.4,215.7 L609.9,213.9 L618.6,212.1 L627.3,210.4 L636.2,208.8 L645.2,207.3 L654.2,205.8 L663.4,204.5 L672.6,203.3 L681.9,202.2 L691.3,201.2 L700.8,200.4 L710.3,199.7 L719.8,199.2 L729.4,198.9 L739.0,198.6 L748.7,198.6 M748.9,140.3 L759.7,140.5 L770.5,140.9 L781.3,141.6 L792.0,142.6 L802.6,143.7 L813.0,145.1 L823.4,146.7 L833.6,148.5 L843.6,150.4 L853.4,152.5 L863.1,154.7 L872.6,157.1 L881.9,159.5 L891.1,162.0 L900.0,164.6 L908.8,167.2 L917.4,169.9 L925.9,172.5 L931.5,174.3 M19.5,174.3 L22.2,175.2 L30.3,177.9 L38.3,180.6 L46.2,183.2 L53.9,185.8 L61.4,188.4 L68.9,191.0 L76.3,193.5 L83.5,195.9 L90.6,198.3 L97.7,200.7 L104.6,203.0 L111.5,205.2 L118.3,207.4 L125.0,209.5 L131.7,211.5 L138.3,213.4 L144.8,215.3 L151.3,217.1 L157.7,218.9 L164.1,220.5 L170.5,222.1 L176.8,223.7 L183.0,225.1 L189.2,226.5 L195.4,227.7 L201.6,228.9 L207.7,230.1 L213.9,231.1 L220.0,232.1 L226.0,233.0 L232.1,233.8 L238.1,234.6 L244.2,235.2 L250.2,235.8 L256.2,236.3 L262.2,236.7 L268.2,237.1 L274.1,237.3 L280.1,237.5 L286.1,237.6 L292.1,237.6 L298.0,237.6 L304.0,237.5 L310.0,237.2 L316.0,237.0 L322.0,236.6 L328.0,236.1 L334.0,235.6 L340.0,235.0 L346.0,234.3 L352.1,233.6 L358.1,232.7 L364.2,231.8 L370.3,230.8 L376.4,229.7 L382.6,228.6 L388.8,227.3 L395.0,226.0 L401.2,224.6 L407.5,223.2 L413.8,221.6 L420.2,220.0 L426.5,218.3 L433.0,216.5 L439.5,214.7 L446.0,212.8 L452.7,210.8 L459.3,208.8 L466.1,206.7 L472.9,204.5 L479.8,202.2 L486.8,199.9 L493.9,197.6 L501.1,195.1 L508.3,192.7 L515.7,190.1 L523.2,187.6 L530.8,185.0 L538.6,182.3 L546.5,179.7 L554.5,177.0 L562.7,174.3 L571.0,171.6 L579.5,169.0 L588.2,166.3 L597.1,163.7 L606.1,161.2 L615.3,158.7 L624.7,156.3 L634.2,154.0 L644.0,151.8 L653.9,149.7 L664.0,147.9 L674.2,146.1 L684.6,144.6 L695.1,143.3 L705.7,142.2 L716.4,141.4 L727.2,140.8 L738.0,140.4 L748.9,140.3 M749.4,44.3 L763.7,44.7 L777.8,45.8 L791.7,47.5 L805.4,49.8 L818.7,52.5 L831.6,55.8 L844.1,59.3 L856.1,63.2 L867.7,67.4 L878.8,71.7 L889.5,76.1 L899.8,80.7 L909.7,85.2 L919.2,89.8 L928.4,94.3 L931.5,96.0 M19.5,96.0 L25.2,98.8 L33.7,103.3 L42.0,107.6 L50.0,111.9 L57.7,116.1 L65.2,120.1 L72.6,124.1 L79.8,127.9 L86.7,131.6 L93.6,135.2 L100.3,138.7 L106.9,142.1 L113.3,145.3 L119.7,148.4 L125.9,151.5 L132.1,154.3 L138.1,157.1 L144.1,159.8 L150.1,162.4 L155.9,164.8 L161.7,167.2 L167.5,169.4 L173.2,171.5 L178.8,173.5 L184.5,175.5 L190.0,177.3 L195.6,179.0 L201.1,180.6 L206.6,182.1 L212.0,183.6 L217.4,184.9 L222.8,186.1 L228.2,187.2 L233.6,188.3 L239.0,189.2 L244.3,190.1 L249.6,190.8 L254.9,191.5 L260.2,192.1 L265.5,192.6 L270.8,193.0 L276.1,193.3 L281.4,193.5 L286.7,193.6 L292.0,193.6 L297.2,193.6 L302.5,193.4 L307.8,193.2 L313.1,192.8 L318.4,192.4 L323.7,191.9 L329.0,191.3 L334.3,190.6 L339.6,189.8 L345.0,188.9 L350.3,187.9 L355.7,186.9 L361.1,185.7 L366.5,184.4 L372.0,183.1 L377.4,181.6 L382.9,180.1 L388.4,178.4 L394.0,176.7 L399.6,174.8 L405.2,172.9 L410.9,170.8 L416.6,168.7 L422.3,166.4 L428.2,164.0 L434.1,161.5 L440.0,158.9 L446.0,156.2 L452.1,153.4 L458.3,150.5 L464.6,147.4 L471.0,144.2 L477.5,141.0 L484.1,137.6 L490.8,134.0 L497.7,130.4 L504.8,126.6 L512.0,122.8 L519.4,118.8 L527.0,114.7 L534.8,110.5 L542.9,106.2 L551.2,101.8 L559.9,97.3 L568.8,92.8 L578.1,88.3 L587.7,83.7 L597.7,79.2 L608.1,74.7 L619.0,70.2 L630.3,66.0 L642.0,61.9 L654.2,58.1 L666.8,54.6 L679.8,51.6 L693.3,48.9 L707.0,46.9 L721.0,45.4 L735.2,44.5 L749.4,44.3 M772.0,-232.3 L877.7,-232.3 L921.4,-232.3 L931.5,-232.3 M19.5,-232.3 L31.3,-216.0 L45.1,-179.8 L55.3,-150.8 L63.4,-126.6 L70.3,-105.9 L76.5,-87.9 L82.2,-72.0 L87.5,-57.7 L92.5,-44.8 L97.4,-33.1 L102.0,-22.3 L106.6,-12.4 L111.1,-3.2 L115.4,5.3 L119.7,13.3 L124.0,20.8 L128.2,27.8 L132.4,34.4 L136.5,40.6 L140.6,46.5 L144.7,52.0 L148.8,57.3 L152.9,62.2 L156.9,67.0 L160.9,71.4 L164.9,75.7 L169.0,79.7 L172.9,83.5 L176.9,87.2 L180.9,90.6 L184.9,93.9 L188.9,97.0 L192.8,100.0 L196.8,102.8 L200.8,105.4 L204.7,107.9 L208.7,110.3 L212.7,112.5 L216.6,114.6 L220.6,116.6 L224.5,118.5 L228.5,120.2 L232.4,121.8 L236.4,123.3 L240.3,124.7 L244.3,126.0 L248.2,127.1 L252.2,128.2 L256.2,129.1 L260.1,130.0 L264.1,130.7 L268.0,131.4 L272.0,131.9 L275.9,132.3 L279.9,132.7 L283.8,132.9 L287.8,133.0 L291.7,133.1 L295.7,133.0 L299.6,132.8 L303.6,132.6 L307.5,132.2 L311.5,131.7 L315.5,131.2 L319.4,130.5 L323.4,129.7 L327.3,128.8 L331.3,127.9 L335.2,126.8 L339.2,125.6 L343.1,124.2 L347.1,122.8 L351.0,121.3 L355.0,119.6 L358.9,117.9 L362.9,116.0 L366.9,113.9 L370.8,111.8 L374.8,109.5 L378.7,107.1 L382.7,104.6 L386.7,101.9 L390.6,99.0 L394.6,96.0 L398.6,92.8 L402.6,89.5 L406.5,86.0 L410.5,82.3 L414.5,78.4 L418.5,74.3 L422.6,70.0 L426.6,65.4 L430.6,60.6 L434.7,55.5 L438.8,50.2 L442.9,44.5 L447.0,38.6 L451.2,32.2 L455.3,25.5 L459.6,18.3 L463.8,10.7 L468.2,2.5 L472.6,-6.2 L477.1,-15.6 L481.6,-25.8 L486.4,-36.9 L491.3,-49.0 L496.4,-62.3 L501.8,-77.1 L507.6,-93.6 L514.0,-112.5 L521.3,-134.2 L530.0,-159.8 L541.1,-190.9 L556.9,-230.2 L583.7,-232.3 L642.0,-232.3 L772.0,-232.3" stroke="#f00" stroke-width="1" stroke-dasharray="2 3" shape-rendering="crispEdges"/>
<path d="M750.0,751.6 L758.3,788.7 L773.5,837.7 L808.8,907.0 L918.0,986.0 L931.5,981.0 M19.5,981.0 L154.7,938.7 L206.9,860.2 L226.9,804.9 L237.1,764.2 L243.3,732.1 L247.3,705.8 L250.3,683.5 L252.5,664.1 L254.2,646.9 L255.5,631.5 L256.7,617.5 L257.6,604.7 L258.4,592.8 L259.1,581.8 L259.7,571.5 L260.3,561.8 L260.8,552.6 L261.2,543.9 L261.6,535.7 L262.0,527.7 L262.3,520.1 L262.6,512.8 L262.9,505.8 L263.2,499.0 L263.4,492.4 L263.6,486.0 L263.9,479.8 L264.1,473.7 L264.3,467.8 L264.5,462.0 L264.7,456.3 L264.8,450.7 L265.0,445.2 L265.2,439.8 L265.3,434.5 L265.5,429.3 L265.6,424.1 L265.8,418.9 L265.9,413.9 L266.1,408.8 L266.2,403.8 L266.4,398.8 L266.5,393.8 L266.7,388.9 L266.8,383.9 L266.9,379.0 L267.1,374.0 L267.2,369.0 L267.4,364.0 L267.5,359.0 L267.7,354.0 L267.8,348.9 L268.0,343.8 L268.1,338.6 L268.3,333.4 L268.4,328.1 L268.6,322.8 L268.8,317.3 L268.9,311.8 L269.1,306.1 L269.3,300.4 L269.5,294.5 L269.7,288.5 L269.9,282.3 L270.2,276.0 L270.4,269.5 L270.7,262.7 L271.0,255.8 L271.3,248.6 L271.6,241.1 L271.9,233.3 L272.3,225.1 L272.7,216.6 L273.2,207.6 L273.7,198.1 L274.3,188.0 L275.0,177.3 L275.7,165.8 L276.6,153.3 L277.7,139.8 L279.0,124.9 L280.5,108.5 L282.5,90.0 L285.1,68.8 L288.7,44.1 M741.2,750.7 L724.6,784.3 L696.8,824.2 L646.7,866.2 L566.3,887.1 L487.8,863.1 L440.0,820.8 L413.4,781.4 L397.5,748.3 L387.1,720.4 L379.8,696.7 L374.4,676.1 L370.3,657.9 L367.1,641.6 L364.4,626.8 L362.2,613.4 L360.3,601.0 L358.8,589.5 L357.4,578.8 L356.2,568.7 L355.1,559.2 L354.1,550.2 L353.2,541.6 L352.4,533.5 L351.7,525.7 L351.0,518.2 L350.4,511.0 L349.8,504.0 L349.3,497.3 L348.8,490.7 L348.3,484.4 L347.9,478.2 L347.4,472.2 L347.0,466.3 L346.6,460.6 L346.3,454.9 L345.9,449.4 L345.5,443.9 L345.2,438.6 L344.9,433.3 L344.5,428.0 L344.2,422.9 L343.9,417.8 L343.6,412.7 L343.3,407.6 L343.0,402.6 L342.7,397.7 L342.4,392.7 L342.1,387.7 L341.8,382.8 L341.6,377.9 L341.3,372.9 L341.0,367.9 L340.7,363.0 L340.4,357.9 L340.1,352.9 L339.8,347.8 L339.5,342.7 L339.1,337.5 L338.8,332.3 L338.5,327.0 L338.1,321.6 L337.8,316.2 L337.4,310.6 L337.0,305.0 L336.6,299.2 L336.2,293.3 L335.8,287.3 L335.3,281.1 L334.9,274.7 L334.4,268.2 L333.8,261.4 L333.2,254.5 L332.6,247.2 L331.9,239.7 L331.2,231.9 L330.4,223.7 L329.5,215.1 L328.5,206.1 L327.5,196.5 L326.2,186.4 L324.8,175.6 L323.2,164.1 L321.3,151.6 L319.1,138.0 L316.4,123.2 L313.1,106.8 L308.9,88.4 L303.4,67.5 L295.9,43.5 M734.4,745.4 L704.0,761.9 L667.3,772.0 L627.7,772.6 L590.4,763.2 L559.3,747.2 L535.0,728.3 L516.4,708.9 L502.1,690.2 L491.0,672.8 L482.2,656.6 L475.0,641.6 L469.1,627.7 L464.1,614.9 L459.9,602.9 L456.3,591.7 L453.1,581.2 L450.3,571.2 L447.9,561.8 L445.6,552.9 L443.7,544.4 L441.8,536.3 L440.2,528.5 L438.6,521.0 L437.2,513.8 L435.9,506.8 L434.7,500.1 L433.5,493.5 L432.4,487.2 L431.4,481.0 L430.4,475.0 L429.5,469.1 L428.6,463.3 L427.8,457.7 L426.9,452.1 L426.1,446.7 L425.4,441.3 L424.6,436.0 L423.9,430.8 L423.2,425.6 L422.5,420.5 L421.8,415.5 L421.1,410.4 L420.5,405.4 L419.8,400.5 L419.2,395.5 L418.5,390.6 L417.9,385.7 L417.2,380.8 L416.6,375.9 L415.9,371.0 L415.3,366.0 L414.6,361.1 L414.0,356.1 L413.3,351.1 L412.6,346.0 L411.9,340.9 L411.2,335.7 L410.5,330.5 L409.7,325.2 L409.0,319.9 L408.2,314.4 L407.4,308.9 L406.5,303.3 L405.6,297.5 L404.7,291.6 L403.7,285.6 L402.7,279.5 L401.6,273.1 L400.5,266.6 L399.2,259.9 L397.9,252.9 L396.5,245.8 L395.0,238.3 L393.4,230.5 L391.6,222.4 L389.6,214.0 L387.4,205.1 L385.0,195.7 L382.2,185.9 L379.1,175.4 L375.5,164.3 L371.4,152.4 L366.5,139.6 L360.7,125.9 L353.7,111.0 L345.0,94.9 L334.1,77.6 L320.2,59.0 L302.1,39.7 M731.7,737.8 L700.7,736.6 L671.5,729.4 L645.9,717.9 L624.5,703.8 L607.0,688.7 L592.8,673.6 L581.2,658.9 L571.7,644.9 L563.7,631.6 L557.0,619.1 L551.3,607.3 L546.4,596.2 L542.1,585.7 L538.3,575.8 L535.0,566.4 L532.0,557.4 L529.3,548.8 L526.8,540.7 L524.6,532.8 L522.6,525.2 L520.7,518.0 L518.9,510.9 L517.3,504.1 L515.7,497.5 L514.3,491.1 L512.9,484.9 L511.6,478.8 L510.4,472.9 L509.2,467.1 L508.1,461.4 L507.0,455.8 L506.0,450.4 L505.0,445.0 L504.0,439.7 L503.0,434.4 L502.1,429.3 L501.2,424.2 L500.3,419.1 L499.4,414.1 L498.6,409.1 L497.7,404.1 L496.9,399.2 L496.1,394.3 L495.2,389.4 L494.4,384.5 L493.6,379.6 L492.8,374.7 L491.9,369.8 L491.1,364.9 L490.3,360.0 L489.4,355.0 L488.5,350.0 L487.7,345.0 L486.8,339.9 L485.9,334.8 L484.9,329.6 L484.0,324.3 L483.0,319.0 L482.0,313.5 L480.9,308.0 L479.8,302.4 L478.7,296.7 L477.5,290.8 L476.2,284.8 L474.9,278.7 L473.5,272.4 L472.0,265.9 L470.4,259.3 L468.8,252.4 L467.0,245.3 L465.0,237.9 L462.9,230.2 L460.6,222.2 L458.0,213.9 L455.2,205.2 L452.1,196.0 L448.6,186.4 L444.6,176.3 L440.1,165.6 L434.9,154.2 L428.9,142.2 L421.7,129.4 L413.2,115.8 L402.9,101.5 L390.4,86.6 L375.0,71.4 L356.1,56.6 L333.0,43.3 L305.9,33.2 M733.2,730.3 L709.0,716.3 L689.3,700.7 L673.4,684.7 L660.6,669.2 L650.3,654.3 L641.7,640.3 L634.6,627.1 L628.6,614.7 L623.5,603.1 L619.0,592.1 L615.2,581.8 L611.8,572.0 L608.7,562.7 L606.0,553.8 L603.5,545.4 L601.3,537.3 L599.2,529.6 L597.3,522.1 L595.6,514.9 L594.0,508.0 L592.5,501.3 L591.0,494.7 L589.7,488.4 L588.4,482.2 L587.2,476.2 L586.1,470.3 L585.0,464.6 L583.9,458.9 L582.9,453.4 L581.9,447.9 L581.0,442.6 L580.1,437.3 L579.2,432.1 L578.3,426.9 L577.5,421.8 L576.6,416.8 L575.8,411.8 L575.0,406.8 L574.2,401.8 L573.4,396.9 L572.6,392.0 L571.8,387.1 L571.0,382.2 L570.2,377.3 L569.5,372.4 L568.7,367.5 L567.9,362.6 L567.1,357.6 L566.2,352.6 L565.4,347.6 L564.6,342.5 L563.7,337.4 L562.8,332.3 L561.9,327.0 L561.0,321.7 L560.1,316.3 L559.1,310.9 L558.0,305.3 L557.0,299.6 L555.9,293.8 L554.7,287.9 L553.5,281.8 L552.2,275.6 L550.8,269.2 L549.4,262.6 L547.8,255.8 L546.2,248.8 L544.4,241.5 L542.4,234.0 L540.3,226.1 L538.0,217.9 L535.5,209.3 L532.7,200.4 L529.5,190.9 L525.9,181.0 L521.9,170.4 L517.3,159.3 L511.9,147.4 L505.5,134.8 L498.0,121.3 L488.9,107.0 L477.8,91.9 L464.2,76.1 L447.2,60.2 L426.0,44.9 L400.3,31.9 L370.3,23.2 L337.9,20.9 L306.0,25.4 M738.0,724.6 L723.6,703.1 L712.7,683.5 L704.3,665.7 L697.6,649.4 L692.2,634.6 L687.7,620.9 L683.9,608.3 L680.7,596.6 L677.9,585.6 L675.5,575.3 L673.4,565.6 L671.4,556.4 L669.7,547.6 L668.1,539.3 L666.7,531.3 L665.4,523.7 L664.2,516.3 L663.1,509.3 L662.0,502.4 L661.1,495.8 L660.1,489.3 L659.3,483.1 L658.4,477.0 L657.7,471.0 L656.9,465.2 L656.2,459.5 L655.5,453.9 L654.8,448.4 L654.2,443.0 L653.6,437.6 L652.9,432.4 L652.4,427.2 L651.8,422.1 L651.2,417.0 L650.6,411.9 L650.1,406.9 L649.5,401.9 L649.0,397.0 L648.5,392.0 L647.9,387.1 L647.4,382.2 L646.9,377.2 L646.3,372.3 L645.8,367.4 L645.2,362.4 L644.7,357.4 L644.1,352.4 L643.6,347.3 L643.0,342.2 L642.4,337.1 L641.8,331.9 L641.2,326.6 L640.6,321.2 L639.9,315.8 L639.2,310.3 L638.5,304.6 L637.8,298.9 L637.0,293.0 L636.2,287.0 L635.4,280.9 L634.5,274.5 L633.6,268.0 L632.6,261.3 L631.5,254.4 L630.4,247.2 L629.1,239.8 L627.8,232.0 L626.3,223.9 L624.7,215.5 L622.9,206.6 L620.9,197.2 L618.7,187.3 L616.1,176.8 L613.2,165.6 L609.8,153.5 L605.8,140.6 L601.1,126.6 L595.3,111.3 L588.1,94.5 L578.9,76.1 L567.0,55.8 L551.0,33.7 L529.0,10.4 L498.7,-12.1 L458.5,-29.0 L411.4,-34.0 L365.9,-24.4 L329.0,-4.8 L301.7,18.3 M744.7,721.9 L741.1,697.2 L738.5,676.0 L736.5,657.5 L735.0,641.1 L733.7,626.2 L732.6,612.7 L731.7,600.2 L731.0,588.7 L730.3,578.0 L729.7,567.9 L729.2,558.4 L728.7,549.4 L728.3,540.9 L727.9,532.7 L727.6,524.9 L727.3,517.4 L727.0,510.2 L726.7,503.3 L726.4,496.5 L726.2,490.0 L725.9,483.7 L725.7,477.5 L725.5,471.5 L725.3,465.6 L725.1,459.9 L724.9,454.2 L724.8,448.7 L724.6,443.2 L724.4,437.9 L724.3,432.6 L724.1,427.4 L724.0,422.2 L723.8,417.1 L723.7,412.0 L723.5,407.0 L723.4,402.0 L723.2,397.0 L723.1,392.0 L722.9,387.0 L722.8,382.1 L722.7,377.1 L722.5,372.2 L722.4,367.2 L722.2,362.2 L722.1,357.2 L721.9,352.1 L721.8,347.1 L721.6,341.9 L721.5,336.7 L721.3,331.5 L721.2,326.2 L721.0,320.8 L720.8,315.3 L720.6,309.7 L720.5,304.0 L720.3,298.2 L720.1,292.3 L719.9,286.2 L719.6,280.0 L719.4,273.6 L719.1,267.0 L718.9,260.2 L718.6,253.2 L718.3,245.9 L718.0,238.3 L717.6,230.3 L717.2,222.1 L716.8,213.4 L716.3,204.2 L715.7,194.5 L715.1,184.2 L714.4,173.2 L713.6,161.3 L712.7,148.5 L711.5,134.5 L710.2,119.1 L708.5,101.9 L706.3,82.5 L703.3,60.2 L699.3,33.9 L693.1,1.8 L682.9,-38.9 L662.9,-94.2 L610.7,-172.7 L462.0,-220.0 L352.8,-141.0 L317.5,-71.7 L302.3,-22.7 L294.0,14.4 M751.9,722.5 L759.4,698.5 L764.9,677.6 L769.1,659.2 L772.4,642.8 L775.1,628.0 L777.3,614.4 L779.2,601.9 L780.8,590.4 L782.2,579.6 L783.5,569.5 L784.5,559.9 L785.5,550.9 L786.4,542.3 L787.2,534.1 L787.9,526.3 L788.6,518.8 L789.2,511.5 L789.8,504.6 L790.3,497.8 L790.9,491.3 L791.3,484.9 L791.8,478.7 L792.2,472.7 L792.6,466.8 L793.0,461.0 L793.4,455.4 L793.8,449.8 L794.1,444.4 L794.5,439.0 L794.8,433.7 L795.1,428.5 L795.5,423.3 L795.8,418.2 L796.1,413.1 L796.4,408.1 L796.7,403.0 L797.0,398.1 L797.3,393.1 L797.5,388.1 L797.8,383.2 L798.1,378.3 L798.4,373.3 L798.7,368.3 L799.0,363.4 L799.3,358.4 L799.6,353.3 L799.9,348.2 L800.2,343.1 L800.5,338.0 L800.9,332.7 L801.2,327.4 L801.5,322.1 L801.9,316.6 L802.2,311.1 L802.6,305.4 L803.0,299.7 L803.4,293.8 L803.9,287.8 L804.3,281.6 L804.8,275.3 L805.3,268.7 L805.8,262.0 L806.4,255.0 L807.0,247.8 L807.7,240.3 L808.4,232.5 L809.2,224.4 L810.1,215.8 L811.1,206.8 L812.1,197.3 L813.4,187.2 L814.8,176.5 L816.3,165.0 L818.2,152.6 L820.4,139.2 L823.0,124.4 L826.3,108.1 L830.4,89.9 L835.8,69.3 L843.1,45.6 L853.5,17.7 L869.4,-15.4 L896.0,-54.8 L931.5,-85.0 M19.5,-85.0 L31.8,-97.1 L110.3,-121.1 L190.7,-100.2 L240.8,-58.2 L268.6,-18.3 L285.2,15.3 M758.1,726.3 L776.2,707.0 L790.1,688.4 L801.0,671.1 L809.7,655.0 L816.7,640.1 L822.5,626.4 L827.4,613.6 L831.5,601.7 L835.1,590.6 L838.2,580.1 L841.0,570.3 L843.4,560.9 L845.6,552.0 L847.6,543.6 L849.4,535.5 L851.0,527.7 L852.5,520.2 L853.9,513.1 L855.2,506.1 L856.5,499.4 L857.6,492.9 L858.7,486.5 L859.7,480.4 L860.7,474.4 L861.6,468.5 L862.5,462.7 L863.4,457.1 L864.2,451.6 L865.0,446.1 L865.7,440.8 L866.5,435.5 L867.2,430.3 L867.9,425.1 L868.6,420.0 L869.3,414.9 L870.0,409.9 L870.6,404.9 L871.3,400.0 L871.9,395.0 L872.6,390.1 L873.2,385.2 L873.9,380.3 L874.5,375.4 L875.2,370.5 L875.8,365.5 L876.5,360.6 L877.1,355.6 L877.8,350.5 L878.5,345.5 L879.2,340.4 L879.9,335.2 L880.6,330.0 L881.4,324.7 L882.1,319.3 L882.9,313.9 L883.8,308.3 L884.6,302.7 L885.5,296.9 L886.4,291.0 L887.4,285.0 L888.4,278.8 L889.5,272.5 L890.7,265.9 L891.9,259.2 L893.2,252.2 L894.6,245.0 L896.2,237.5 L897.8,229.7 L899.6,221.6 L901.6,213.1 L903.9,204.2 L906.3,194.8 L909.1,184.8 L912.3,174.3 L915.9,163.1 L920.1,151.1 L925.1,138.3 L931.0,124.4 L931.5,123.4 M19.5,123.4 L26.2,109.4 L35.0,93.2 L46.1,75.8 L60.4,57.1 L79.0,37.7 L103.3,18.8 L134.4,2.8 L171.7,-6.6 L211.3,-6.0 L248.1,4.1 L278.5,20.6 M761.9,732.8 L789.0,722.7 L812.1,709.4 L831.0,694.6 L846.4,679.4 L858.9,664.5 L869.2,650.2 L877.7,636.6 L884.8,623.8 L890.9,611.8 L896.1,600.4 L900.6,589.7 L904.6,579.6 L908.1,570.0 L911.2,560.8 L914.0,552.1 L916.6,543.8 L918.9,535.8 L921.0,528.1 L922.9,520.7 L924.8,513.6 L926.4,506.7 L928.0,500.1 L929.5,493.6 L930.9,487.3 L931.5,484.4 M19.5,484.4 L20.2,481.2 L21.5,475.2 L22.7,469.3 L23.8,463.6 L24.9,458.0 L26.0,452.5 L27.0,447.0 L28.0,441.7 L28.9,436.4 L29.9,431.2 L30.8,426.1 L31.7,421.0 L32.6,416.0 L33.4,411.0 L34.3,406.0 L35.1,401.1 L35.9,396.2 L36.8,391.3 L37.6,386.4 L38.4,381.5 L39.2,376.6 L40.1,371.7 L40.9,366.8 L41.7,361.9 L42.6,356.9 L43.5,351.9 L44.3,346.9 L45.2,341.8 L46.1,336.7 L47.0,331.6 L48.0,326.3 L49.0,321.0 L50.0,315.6 L51.0,310.2 L52.1,304.6 L53.2,298.9 L54.4,293.1 L55.6,287.2 L56.9,281.1 L58.3,274.9 L59.7,268.5 L61.3,261.9 L62.9,255.1 L64.7,248.0 L66.6,240.8 L68.6,233.2 L70.9,225.3 L73.3,217.2 L76.0,208.6 L79.0,199.6 L82.3,190.2 L86.1,180.3 L90.4,169.8 L95.3,158.7 L101.0,146.9 L107.7,134.4 L115.7,121.1 L125.2,107.1 L136.8,92.4 L151.0,77.3 L168.5,62.2 L189.9,48.1 L215.6,36.6 L244.8,29.4 L275.7,28.2 M762.0,740.6 L793.9,745.1 L826.3,742.8 L856.3,734.1 L882.0,721.1 L903.1,705.8 L920.2,689.9 L931.5,676.7 M19.5,676.7 L21.9,674.1 L32.9,659.0 L42.0,644.7 L49.5,631.2 L55.9,618.6 L61.3,606.7 L65.9,595.6 L69.9,585.0 L73.5,575.1 L76.7,565.6 L79.5,556.7 L82.0,548.1 L84.3,539.9 L86.4,532.0 L88.4,524.5 L90.2,517.2 L91.8,510.2 L93.4,503.4 L94.8,496.8 L96.2,490.4 L97.5,484.2 L98.7,478.1 L99.9,472.2 L101.0,466.4 L102.1,460.7 L103.1,455.1 L104.1,449.7 L105.0,444.3 L105.9,439.0 L106.8,433.7 L107.7,428.6 L108.6,423.5 L109.4,418.4 L110.3,413.4 L111.1,408.4 L111.9,403.4 L112.7,398.5 L113.5,393.6 L114.2,388.7 L115.0,383.8 L115.8,378.9 L116.6,374.0 L117.4,369.1 L118.2,364.2 L119.0,359.2 L119.8,354.2 L120.6,349.2 L121.5,344.2 L122.3,339.1 L123.2,333.9 L124.1,328.7 L125.0,323.4 L125.9,318.1 L126.9,312.6 L127.9,307.1 L129.0,301.4 L130.1,295.7 L131.2,289.8 L132.4,283.8 L133.7,277.6 L135.0,271.3 L136.5,264.7 L138.0,258.0 L139.6,251.1 L141.3,243.9 L143.2,236.4 L145.3,228.7 L147.5,220.6 L150.0,212.2 L152.7,203.3 L155.8,194.0 L159.2,184.2 L163.1,173.9 L167.5,162.9 L172.6,151.3 L178.6,138.9 L185.7,125.7 L194.3,111.7 L204.6,96.8 L217.4,81.3 L233.3,65.3 L253.0,49.7 L277.2,35.7 M757.7,747.7 L785.0,770.8 L821.9,790.4 L867.4,800.0 L914.5,795.0 L931.5,787.6 M19.5,787.6 L42.7,778.1 L73.0,755.6 L95.0,732.3 L111.0,710.2 L122.9,689.9 L132.1,671.5 L139.3,654.7 L145.1,639.4 L149.8,625.4 L153.8,612.5 L157.2,600.4 L160.1,589.2 L162.7,578.7 L164.9,568.8 L166.9,559.4 L168.7,550.5 L170.3,542.1 L171.8,534.0 L173.1,526.2 L174.4,518.8 L175.5,511.6 L176.6,504.7 L177.6,498.0 L178.5,491.5 L179.4,485.1 L180.3,479.0 L181.1,473.0 L181.8,467.1 L182.5,461.4 L183.2,455.7 L183.9,450.2 L184.6,444.8 L185.2,439.4 L185.8,434.1 L186.4,428.9 L187.0,423.8 L187.6,418.7 L188.1,413.6 L188.7,408.6 L189.2,403.6 L189.8,398.6 L190.3,393.7 L190.9,388.8 L191.4,383.8 L191.9,378.9 L192.5,374.0 L193.0,369.0 L193.5,364.1 L194.1,359.1 L194.6,354.1 L195.2,349.0 L195.8,343.9 L196.4,338.8 L197.0,333.6 L197.6,328.4 L198.2,323.0 L198.8,317.6 L199.5,312.1 L200.2,306.5 L200.9,300.8 L201.7,295.0 L202.4,289.0 L203.3,282.9 L204.1,276.7 L205.1,270.2 L206.0,263.6 L207.1,256.7 L208.2,249.7 L209.4,242.3 L210.7,234.7 L212.2,226.7 L213.7,218.4 L215.4,209.6 L217.4,200.4 L219.5,190.7 L221.9,180.4 L224.7,169.4 L227.9,157.7 L231.7,145.1 L236.2,131.4 L241.6,116.6 L248.3,100.3 L256.7,82.5 L267.6,62.9 L282.0,41.4" stroke="#ee82ee" stroke-width="2" stroke-dasharray="1 4" shape-rendering="crispEdges"/>
</g>
<g clip-path="url(#fclip1)">
<text x="8.2 17.9 26.2 34.6" y="381.5" font-size="12.4" fill="#000" stroke="#000">–180</text>
<text x="82.9 92.6 101.0 109.3" y="381.5" font-size="12.4" fill="#000" stroke="#000">–150</text>
<text x="158.9 168.6 177.0 185.3" y="381.5" font-size="12.4" fill="#000" stroke="#000">–120</text>
<text x="239.1 248.8 257.1" y="381.5" font-size="12.4" fill="#000" stroke="#000">–90</text>
<text x="315.1 324.8 333.1" y="381.5" font-size="12.4" fill="#000" stroke="#000">–60</text>
<text x="391.1 400.8 409.1" y="381.5" font-size="12.4" fill="#000" stroke="#000">–30</text>
<text x="547.3 555.7" y="381.5" font-size="12.4" fill="#000" stroke="#000">30</text>
<text x="623.3 631.7" y="381.5" font-size="12.4" fill="#000" stroke="#000">60</text>
<text x="699.3 707.7" y="381.5" font-size="12.4" fill="#000" stroke="#000">90</text>
<text x="771.1 779.5 787.9" y="381.5" font-size="12.4" fill="#000" stroke="#000">120</text>
<text x="847.1 855.5 863.9" y="381.5" font-size="12.4" fill="#000" stroke="#000">150</text>
<text x="923.1 931.5 939.9" y="381.5" font-size="12.4" fill="#000" stroke="#000">180</text>
<text x="468.1 477.8 486.1" y="628.3" font-size="12.4" fill="#000" stroke="#000">–70</text>
<text x="468.1 477.8 486.1" y="568.9" font-size="12.4" fill="#000" stroke="#000">–60</text>
<text x="468.1 477.8 486.1" y="525.4" font-size="12.4" fill="#000" stroke="#000">–50</text>
<text x="468.1 477.8 486.1" y="490.3" font-size="12.4" fill="#000" stroke="#000">–40</text>
<text x="468.1 477.8 486.1" y="459.9" font-size="12.4" fill="#000" stroke="#000">–30</text>
<text x="468.1 477.8 486.1" y="432.6" font-size="12.4" fill="#000" stroke="#000">–20</text>
<text x="468.1 477.8 486.1" y="406.9" font-size="12.4" fill="#000" stroke="#000">–10</text>
<text x="476.5" y="382.0" font-size="12.4" fill="#000" stroke="#000">0</text>
<text x="472.3 480.7" y="357.1" font-size="12.4" fill="#000" stroke="#000">10</text>
<text x="472.3 480.7" y="331.4" font-size="12.4" fill="#000" stroke="#000">20</text>
<text x="472.3 480.7" y="304.1" font-size="12.4" fill="#000" stroke="#000">30</text>
<text x="472.3 480.7" y="273.7" font-size="12.4" fill="#000" stroke="#000">40</text>
<text x="472.3 480.7" y="238.6" font-size="12.4" fill="#000" stroke="#000">50</text>
<text x="472.3 480.7" y="195.1" font-size="12.4" fill="#000" stroke="#000">60</text>
<text x="472.3 480.7" y="135.7" font-size="12.4" fill="#000" stroke="#000">70</text>
</g>
<g clip-path="url(#clip1)" fill="none">
<g stroke="#000" stroke-width="1.15"><path d="M664.6,383.0 L663.9,385.4 L663.2,387.8 L662.5,390.1 L661.8,392.5 L661.0,394.9 L660.3,397.3 L659.6,399.7 L658.9,402.1 L658.2,404.5 L657.4,406.9 L656.7,409.3 L656.0,411.7 L655.2,414.1 L654.5,416.6 L653.7,419.0 L653.0,421.5 L652.2,423.9 L651.4,426.4 L650.6,428.9 L649.8,431.4 L649.0,433.9 L648.2,436.4 L647.4,438.9 L646.6,441.5 L645.7,444.1 L644.9,446.7 L644.0,449.3 L643.1,451.9 L642.2,454.5 L641.3,457.2 L640.4,459.9 L639.4,462.6 L638.4,465.3 L637.5,468.1 L636.4,470.9 L635.4,473.7 L634.4,476.5 L633.3,479.4 L632.2,482.3 L631.0,485.2 L629.9,488.1 L628.7,491.1 L627.5,494.1 L626.2,497.2 L624.9,500.3 L623.6,503.4 L622.2,506.6 L620.8,509.8 L619.3,513.1 L617.8,516.4 L616.2,519.7 L614.6,523.1 L612.9,526.6 L611.1,530.1 L609.3,533.6 L607.4,537.2 L605.4,540.9 L603.3,544.6 L601.2,548.3 L598.9,552.2 L596.6,556.0 L594.1,560.0 L591.5,563.9 L588.8,568.0 L586.0,572.1 L583.0,576.2 L579.8,580.5 L576.5,584.7 L573.0,589.0 L569.3,593.4 L565.3,597.7 L561.2,602.1 L556.8,606.5 L552.2,610.9 L547.2,615.3 L542.0,619.7 L536.5,624.0 L530.7,628.2 L524.5,632.3 L518.0,636.3 L511.2,640.1 L504.0,643.6 L496.5,646.9 L488.6,649.9 L480.5,652.5 L472.1,654.7 L463.4,656.4 L454.6,657.7 L445.6,658.5 L436.6,658.8 L427.6,658.5 L418.6,657.7 L409.8,656.4 L401.2,654.7 L392.8,652.5 L384.6,649.9 L376.8,646.9 L369.2,643.6 L362.0,640.1 L355.2,636.3 L348.7,632.3 L342.5,628.2 L336.7,624.0 L331.2,619.7 L326.0,615.3 L321.1,610.9 L316.4,606.5 L312.0,602.1 L307.9,597.7 L304.0,593.4 L300.3,589.0 L296.7,584.7 L293.4,580.5 L290.3,576.2 L287.3,572.1 L284.4,568.0 L281.7,563.9 L279.1,560.0 L276.6,556.0 L274.3,552.2 L272.0,548.3 L269.9,544.6 L267.8,540.9 L265.9,537.2 L264.0,533.6 L262.1,530.1 L260.4,526.6 L258.7,523.1 L257.0,519.7 L255.5,516.4 L253.9,513.1 L252.5,509.8 L251.1,506.6 L249.7,503.4 L248.3,500.3 L247.0,497.2 L245.8,494.1 L244.5,491.1 L243.4,488.1 L242.2,485.2 L241.1,482.3 L239.9,479.4 L238.9,476.5 L237.8,473.7 L236.8,470.9 L235.8,468.1 L234.8,465.3 L233.8,462.6 L232.9,459.9 L231.9,457.2 L231.0,454.5 L230.1,451.9 L229.2,449.3 L228.4,446.7 L227.5,444.1 L226.7,441.5 L225.8,438.9 L225.0,436.4 L224.2,433.9 L223.4,431.4 L222.6,428.9 L221.8,426.4 L221.0,423.9 L220.3,421.5 L219.5,419.0 L218.8,416.6 L218.0,414.1 L217.3,411.7 L216.5,409.3 L215.8,406.9 L215.1,404.5 L214.3,402.1 L213.6,399.7 L212.9,397.3 L212.2,394.9 L211.5,392.5 L210.8,390.1 L210.0,387.8 L209.3,385.4 L208.6,383.0 L207.9,380.6 L207.2,378.2 L206.5,375.9 L205.8,373.5 L205.1,371.1 L204.3,368.7 L203.6,366.3 L202.9,363.9 L202.2,361.5 L201.4,359.1 L200.7,356.7 L200.0,354.3 L199.2,351.9 L198.5,349.4 L197.7,347.0 L197.0,344.5 L196.2,342.1 L195.4,339.6 L194.6,337.1 L193.8,334.6 L193.0,332.1 L192.2,329.6 L191.4,327.1 L190.6,324.5 L189.7,321.9 L188.9,319.3 L188.0,316.7 L187.1,314.1 L186.2,311.5 L185.3,308.8 L184.4,306.1 L183.4,303.4 L182.4,300.7 L181.5,297.9 L180.5,295.1 L179.4,292.3 L178.4,289.5 L177.3,286.6 L176.2,283.7 L175.0,280.8 L173.9,277.9 L172.7,274.9 L171.5,271.9 L170.2,268.8 L168.9,265.7 L167.6,262.6 L166.2,259.4 L164.8,256.2 L163.3,252.9 L161.8,249.6 L160.2,246.3 L158.6,242.9 L156.9,239.4 L155.1,235.9 L153.3,232.4 L151.4,228.8 L149.4,225.1 L147.3,221.4 L145.2,217.7 L142.9,213.8 L140.6,210.0 L138.1,206.0 L135.5,202.1 L132.8,198.0 L130.0,193.9 L127.0,189.8 L123.8,185.5 L120.5,181.3 L117.0,177.0 L113.3,172.6 L109.4,168.3 L105.2,163.9 L100.8,159.5 L96.2,155.1 L91.3,150.7 L86.0,146.3 L80.5,142.0 L74.7,137.8 L68.5,133.7 L62.0,129.7 L55.2,125.9 L48.0,122.4 L40.5,119.1 L32.6,116.1 L24.5,113.5 L19.5,112.2 M931.5,112.2 L928.0,111.3 L919.4,109.6 L910.6,108.3 L901.6,107.5 L892.6,107.2 L883.6,107.5 L874.6,108.3 L865.8,109.6 L857.2,111.3 L848.7,113.5 L840.6,116.1 L832.8,119.1 L825.2,122.4 L818.0,125.9 L811.2,129.7 L804.7,133.7 L798.5,137.8 L792.7,142.0 L787.2,146.3 L782.0,150.7 L777.1,155.1 L772.4,159.5 L768.0,163.9 L763.9,168.3 L760.0,172.6 L756.2,177.0 L752.7,181.3 L749.4,185.5 L746.3,189.8 L743.3,193.9 L740.4,198.0 L737.7,202.1 L735.1,206.0 L732.6,210.0 L730.3,213.8 L728.0,217.7 L725.9,221.4 L723.8,225.1 L721.8,228.8 L719.9,232.4 L718.1,235.9 L716.4,239.4 L714.7,242.9 L713.0,246.3 L711.5,249.6 L709.9,252.9 L708.5,256.2 L707.0,259.4 L705.7,262.6 L704.3,265.7 L703.0,268.8 L701.8,271.9 L700.5,274.9 L699.3,277.9 L698.2,280.8 L697.0,283.7 L695.9,286.6 L694.9,289.5 L693.8,292.3 L692.8,295.1 L691.8,297.9 L690.8,300.7 L689.8,303.4 L688.9,306.1 L687.9,308.8 L687.0,311.5 L686.1,314.1 L685.2,316.7 L684.4,319.3 L683.5,321.9 L682.7,324.5 L681.8,327.1 L681.0,329.6 L680.2,332.1 L679.4,334.6 L678.6,337.1 L677.8,339.6 L677.0,342.1 L676.3,344.5 L675.5,347.0 L674.8,349.4 L674.0,351.9 L673.3,354.3 L672.5,356.7 L671.8,359.1 L671.1,361.5 L670.3,363.9 L669.6,366.3 L668.9,368.7 L668.2,371.1 L667.5,373.5 L666.7,375.9 L666.0,378.2 L665.3,380.6 L664.6,383.0"/><path transform="translate(1,0)" d="M664.6,383.0 L663.9,385.4 L663.2,387.8 L662.5,390.1 L661.8,392.5 L661.0,394.9 L660.3,397.3 L659.6,399.7 L658.9,402.1 L658.2,404.5 L657.4,406.9 L656.7,409.3 L656.0,411.7 L655.2,414.1 L654.5,416.6 L653.7,419.0 L653.0,421.5 L652.2,423.9 L651.4,426.4 L650.6,428.9 L649.8,431.4 L649.0,433.9 L648.2,436.4 L647.4,438.9 L646.6,441.5 L645.7,444.1 L644.9,446.7 L644.0,449.3 L643.1,451.9 L642.2,454.5 L641.3,457.2 L640.4,459.9 L639.4,462.6 L638.4,465.3 L637.5,468.1 L636.4,470.9 L635.4,473.7 L634.4,476.5 L633.3,479.4 L632.2,482.3 L631.0,485.2 L629.9,488.1 L628.7,491.1 L627.5,494.1 L626.2,497.2 L624.9,500.3 L623.6,503.4 L622.2,506.6 L620.8,509.8 L619.3,513.1 L617.8,516.4 L616.2,519.7 L614.6,523.1 L612.9,526.6 L611.1,530.1 L609.3,533.6 L607.4,537.2 L605.4,540.9 L603.3,544.6 L601.2,548.3 L598.9,552.2 L596.6,556.0 L594.1,560.0 L591.5,563.9 L588.8,568.0 L586.0,572.1 L583.0,576.2 L579.8,580.5 L576.5,584.7 L573.0,589.0 L569.3,593.4 L565.3,597.7 L561.2,602.1 L556.8,606.5 L552.2,610.9 L547.2,615.3 L542.0,619.7 L536.5,624.0 L530.7,628.2 L524.5,632.3 L518.0,636.3 L511.2,640.1 L504.0,643.6 L496.5,646.9 L488.6,649.9 L480.5,652.5 L472.1,654.7 L463.4,656.4 L454.6,657.7 L445.6,658.5 L436.6,658.8 L427.6,658.5 L418.6,657.7 L409.8,656.4 L401.2,654.7 L392.8,652.5 L384.6,649.9 L376.8,646.9 L369.2,643.6 L362.0,640.1 L355.2,636.3 L348.7,632.3 L342.5,628.2 L336.7,624.0 L331.2,619.7 L326.0,615.3 L321.1,610.9 L316.4,606.5 L312.0,602.1 L307.9,597.7 L304.0,593.4 L300.3,589.0 L296.7,584.7 L293.4,580.5 L290.3,576.2 L287.3,572.1 L284.4,568.0 L281.7,563.9 L279.1,560.0 L276.6,556.0 L274.3,552.2 L272.0,548.3 L269.9,544.6 L267.8,540.9 L265.9,537.2 L264.0,533.6 L262.1,530.1 L260.4,526.6 L258.7,523.1 L257.0,519.7 L255.5,516.4 L253.9,513.1 L252.5,509.8 L251.1,506.6 L249.7,503.4 L248.3,500.3 L247.0,497.2 L245.8,494.1 L244.5,491.1 L243.4,488.1 L242.2,485.2 L241.1,482.3 L239.9,479.4 L238.9,476.5 L237.8,473.7 L236.8,470.9 L235.8,468.1 L234.8,465.3 L233.8,462.6 L232.9,459.9 L231.9,457.2 L231.0,454.5 L230.1,451.9 L229.2,449.3 L228.4,446.7 L227.5,444.1 L226.7,441.5 L225.8,438.9 L225.0,436.4 L224.2,433.9 L223.4,431.4 L222.6,428.9 L221.8,426.4 L221.0,423.9 L220.3,421.5 L219.5,419.0 L218.8,416.6 L218.0,414.1 L217.3,411.7 L216.5,409.3 L215.8,406.9 L215.1,404.5 L214.3,402.1 L213.6,399.7 L212.9,397.3 L212.2,394.9 L211.5,392.5 L210.8,390.1 L210.0,387.8 L209.3,385.4 L208.6,383.0 L207.9,380.6 L207.2,378.2 L206.5,375.9 L205.8,373.5 L205.1,371.1 L204.3,368.7 L203.6,366.3 L202.9,363.9 L202.2,361.5 L201.4,359.1 L200.7,356.7 L200.0,354.3 L199.2,351.9 L198.5,349.4 L197.7,347.0 L197.0,344.5 L196.2,342.1 L195.4,339.6 L194.6,337.1 L193.8,334.6 L193.0,332.1 L192.2,329.6 L191.4,327.1 L190.6,324.5 L189.7,321.9 L188.9,319.3 L188.0,316.7 L187.1,314.1 L186.2,311.5 L185.3,308.8 L184.4,306.1 L183.4,303.4 L182.4,300.7 L181.5,297.9 L180.5,295.1 L179.4,292.3 L178.4,289.5 L177.3,286.6 L176.2,283.7 L175.0,280.8 L173.9,277.9 L172.7,274.9 L171.5,271.9 L170.2,268.8 L168.9,265.7 L167.6,262.6 L166.2,259.4 L164.8,256.2 L163.3,252.9 L161.8,249.6 L160.2,246.3 L158.6,242.9 L156.9,239.4 L155.1,235.9 L153.3,232.4 L151.4,228.8 L149.4,225.1 L147.3,221.4 L145.2,217.7 L142.9,213.8 L140.6,210.0 L138.1,206.0 L135.5,202.1 L132.8,198.0 L130.0,193.9 L127.0,189.8 L123.8,185.5 L120.5,181.3 L117.0,177.0 L113.3,172.6 L109.4,168.3 L105.2,163.9 L100.8,159.5 L96.2,155.1 L91.3,150.7 L86.0,146.3 L80.5,142.0 L74.7,137.8 L68.5,133.7 L62.0,129.7 L55.2,125.9 L48.0,122.4 L40.5,119.1 L32.6,116.1 L24.5,113.5 L19.5,112.2 M931.5,112.2 L928.0,111.3 L919.4,109.6 L910.6,108.3 L901.6,107.5 L892.6,107.2 L883.6,107.5 L874.6,108.3 L865.8,109.6 L857.2,111.3 L848.7,113.5 L840.6,116.1 L832.8,119.1 L825.2,122.4 L818.0,125.9 L811.2,129.7 L804.7,133.7 L798.5,137.8 L792.7,142.0 L787.2,146.3 L782.0,150.7 L777.1,155.1 L772.4,159.5 L768.0,163.9 L763.9,168.3 L760.0,172.6 L756.2,177.0 L752.7,181.3 L749.4,185.5 L746.3,189.8 L743.3,193.9 L740.4,198.0 L737.7,202.1 L735.1,206.0 L732.6,210.0 L730.3,213.8 L728.0,217.7 L725.9,221.4 L723.8,225.1 L721.8,228.8 L719.9,232.4 L718.1,235.9 L716.4,239.4 L714.7,242.9 L713.0,246.3 L711.5,249.6 L709.9,252.9 L708.5,256.2 L707.0,259.4 L705.7,262.6 L704.3,265.7 L703.0,268.8 L701.8,271.9 L700.5,274.9 L699.3,277.9 L698.2,280.8 L697.0,283.7 L695.9,286.6 L694.9,289.5 L693.8,292.3 L692.8,295.1 L691.8,297.9 L690.8,300.7 L689.8,303.4 L688.9,306.1 L687.9,308.8 L687.0,311.5 L686.1,314.1 L685.2,316.7 L684.4,319.3 L683.5,321.9 L682.7,324.5 L681.8,327.1 L681.0,329.6 L680.2,332.1 L679.4,334.6 L678.6,337.1 L677.8,339.6 L677.0,342.1 L676.3,344.5 L675.5,347.0 L674.8,349.4 L674.0,351.9 L673.3,354.3 L672.5,356.7 L671.8,359.1 L671.1,361.5 L670.3,363.9 L669.6,366.3 L668.9,368.7 L668.2,371.1 L667.5,373.5 L666.7,375.9 L666.0,378.2 L665.3,380.6 L664.6,383.0"/></g>
<path d="M639.5,375.9 L638.9,378.2 L638.2,380.6 L637.4,382.9 L636.7,385.2 L636.0,387.6 L635.3,389.9 L634.5,392.2 L633.8,394.6 L633.0,396.9 L632.3,399.2 L631.5,401.6 L630.7,403.9 L629.9,406.2 L629.1,408.6 L628.3,410.9 L627.4,413.3 L626.6,415.6 L625.7,418.0 L624.8,420.3 L623.9,422.7 L623.0,425.1 L622.1,427.5 L621.2,429.9 L620.2,432.3 L619.2,434.7 L618.2,437.1 L617.2,439.5 L616.2,442.0 L615.1,444.4 L614.0,446.9 L612.9,449.3 L611.8,451.8 L610.6,454.3 L609.4,456.8 L608.2,459.3 L607.0,461.9 L605.7,464.4 L604.4,467.0 L603.0,469.6 L601.6,472.1 L600.2,474.7 L598.8,477.4 L597.3,480.0 L595.8,482.7 L594.2,485.3 L592.5,488.0 L590.9,490.7 L589.2,493.4 L587.4,496.1 L585.5,498.9 L583.7,501.6 L581.7,504.4 L579.7,507.2 L577.6,510.0 L575.5,512.8 L573.3,515.6 L571.0,518.4 L568.6,521.3 L566.2,524.1 L563.6,527.0 L561.0,529.8 L558.3,532.7 L555.5,535.5 L552.6,538.3 L549.6,541.2 L546.4,544.0 L543.2,546.8 L539.9,549.5 L536.4,552.3 L532.8,554.9 L529.1,557.6 L525.3,560.2 L521.3,562.7 L517.2,565.2 L513.0,567.6 L508.7,569.9 L504.2,572.1 L499.6,574.2 L494.8,576.2 L490.0,578.1 L485.0,579.8 L479.9,581.4 L474.8,582.8 L469.5,584.1 L464.1,585.2 L458.7,586.0 L453.2,586.7 L447.7,587.3 L442.2,587.6 L436.6,587.7 L431.0,587.6 L425.5,587.3 L420.0,586.7 L414.5,586.0 L409.1,585.2 L403.7,584.1 L398.5,582.8 L393.3,581.4 L388.2,579.8 L383.2,578.1 L378.4,576.2 L373.7,574.2 L369.1,572.1 L364.6,569.9 L360.2,567.6 L356.0,565.2 L351.9,562.7 L348.0,560.2 L344.1,557.6 L340.4,554.9 L336.8,552.3 L333.4,549.5 L330.0,546.8 L326.8,544.0 L323.7,541.2 L320.7,538.3 L317.7,535.5 L314.9,532.7 L312.2,529.8 L309.6,527.0 L307.1,524.1 L304.6,521.3 L302.2,518.4 L300.0,515.6 L297.7,512.8 L295.6,510.0 L293.5,507.2 L291.5,504.4 L289.6,501.6 L287.7,498.9 L285.8,496.1 L284.1,493.4 L282.4,490.7 L280.7,488.0 L279.1,485.3 L277.5,482.7 L275.9,480.0 L274.4,477.4 L273.0,474.7 L271.6,472.1 L270.2,469.6 L268.9,467.0 L267.5,464.4 L266.3,461.9 L265.0,459.3 L263.8,456.8 L262.6,454.3 L261.5,451.8 L260.3,449.3 L259.2,446.9 L258.1,444.4 L257.1,442.0 L256.0,439.5 L255.0,437.1 L254.0,434.7 L253.0,432.3 L252.1,429.9 L251.1,427.5 L250.2,425.1 L249.3,422.7 L248.4,420.3 L247.5,418.0 L246.7,415.6 L245.8,413.3 L245.0,410.9 L244.1,408.6 L243.3,406.2 L242.5,403.9 L241.7,401.6 L241.0,399.2 L240.2,396.9 L239.4,394.6 L238.7,392.2 L237.9,389.9 L237.2,387.6 L236.5,385.2 L235.8,382.9 L235.1,380.6 L234.4,378.2 L233.7,375.9 L233.0,373.5 L232.3,371.2 L231.6,368.8 L231.0,366.5 L230.3,364.1 L229.6,361.7 L229.0,359.3 L228.3,356.9 L227.7,354.5 L227.0,352.1 L226.4,349.7 L225.8,347.3 L225.1,344.8 L224.5,342.4 L223.9,339.9 L223.2,337.4 L222.6,334.9 L222.0,332.4 L221.3,329.9 L220.7,327.4 L220.1,324.8 L219.4,322.2 L218.8,319.6 L218.2,317.0 L217.5,314.3 L216.9,311.7 L216.3,309.0 L215.6,306.3 L215.0,303.5 L214.3,300.8 L213.7,298.0 L213.0,295.1 L212.3,292.3 L211.7,289.4 L211.0,286.4 L210.3,283.5 L209.6,280.5 L208.9,277.4 L208.2,274.3 L207.5,271.2 L206.7,268.0 L206.0,264.8 L205.2,261.5 L204.5,258.2 L203.7,254.8 L202.9,251.4 L202.1,247.9 L201.2,244.3 L200.4,240.7 L199.5,237.0 L198.6,233.2 L197.6,229.3 L196.7,225.4 L195.7,221.3 L194.6,217.2 L193.5,213.0 L192.4,208.7 L191.3,204.2 L190.1,199.7 L188.8,195.0 L187.5,190.2 L186.1,185.2 L184.7,180.1 L183.1,174.9 L181.5,169.4 L179.7,163.8 L177.9,158.0 L175.9,152.0 L173.8,145.8 L171.5,139.3 L169.1,132.5 L166.4,125.5 L163.5,118.2 L160.3,110.5 L156.7,102.5 L152.8,94.1 L148.4,85.3 L143.5,76.1 L137.9,66.5 L131.5,56.3 L124.2,45.8 L115.8,34.8 L106.0,23.5 L94.5,11.9 L81.1,0.5 L65.4,-10.5 L47.3,-20.3 L26.8,-28.3 L19.5,-30.0 M931.5,-30.0 L916.2,-33.6 L892.6,-35.4 L869.0,-33.6 L846.5,-28.3 L826.0,-20.3 L807.8,-10.5 L792.2,0.5 L778.7,11.9 L767.3,23.5 L757.4,34.8 L749.0,45.8 L741.7,56.3 L735.3,66.5 L729.7,76.1 L724.8,85.3 L720.4,94.1 L716.5,102.5 L713.0,110.5 L709.8,118.2 L706.8,125.5 L704.2,132.5 L701.7,139.3 L699.4,145.8 L697.3,152.0 L695.3,158.0 L693.5,163.8 L691.7,169.4 L690.1,174.9 L688.6,180.1 L687.1,185.2 L685.7,190.2 L684.4,195.0 L683.2,199.7 L681.9,204.2 L680.8,208.7 L679.7,213.0 L678.6,217.2 L677.6,221.3 L676.6,225.4 L675.6,229.3 L674.7,233.2 L673.8,237.0 L672.9,240.7 L672.0,244.3 L671.2,247.9 L670.3,251.4 L669.5,254.8 L668.8,258.2 L668.0,261.5 L667.2,264.8 L666.5,268.0 L665.7,271.2 L665.0,274.3 L664.3,277.4 L663.6,280.5 L662.9,283.5 L662.2,286.4 L661.6,289.4 L660.9,292.3 L660.2,295.1 L659.6,298.0 L658.9,300.8 L658.2,303.5 L657.6,306.3 L657.0,309.0 L656.3,311.7 L655.7,314.3 L655.0,317.0 L654.4,319.6 L653.8,322.2 L653.2,324.8 L652.5,327.4 L651.9,329.9 L651.3,332.4 L650.6,334.9 L650.0,337.4 L649.4,339.9 L648.7,342.4 L648.1,344.8 L647.5,347.3 L646.8,349.7 L646.2,352.1 L645.5,354.5 L644.9,356.9 L644.2,359.3 L643.6,361.7 L642.9,364.1 L642.3,366.5 L641.6,368.8 L640.9,371.2 L640.2,373.5 L639.5,375.9" stroke="#000" stroke-width="1"/>
<g stroke="#000" stroke-width="1.15" stroke-dasharray="7 8"><path d="M616.2,369.4 L615.6,371.7 L614.9,373.9 L614.2,376.2 L613.6,378.4 L612.9,380.6 L612.2,382.9 L611.4,385.1 L610.7,387.3 L610.0,389.5 L609.2,391.7 L608.4,393.9 L607.7,396.1 L606.8,398.4 L606.0,400.6 L605.2,402.8 L604.3,405.0 L603.5,407.2 L602.6,409.4 L601.7,411.6 L600.7,413.8 L599.8,416.0 L598.8,418.2 L597.8,420.4 L596.8,422.6 L595.8,424.8 L594.7,427.0 L593.7,429.2 L592.6,431.4 L591.4,433.6 L590.3,435.8 L589.1,438.1 L587.9,440.3 L586.7,442.5 L585.4,444.7 L584.1,447.0 L582.8,449.2 L581.4,451.4 L580.0,453.7 L578.6,455.9 L577.2,458.1 L575.7,460.4 L574.1,462.6 L572.6,464.9 L571.0,467.1 L569.3,469.3 L567.6,471.6 L565.9,473.8 L564.1,476.1 L562.3,478.3 L560.4,480.5 L558.5,482.8 L556.5,485.0 L554.5,487.2 L552.4,489.4 L550.3,491.6 L548.1,493.8 L545.8,496.0 L543.5,498.1 L541.1,500.3 L538.7,502.4 L536.2,504.5 L533.7,506.6 L531.0,508.6 L528.3,510.7 L525.6,512.7 L522.8,514.6 L519.9,516.5 L516.9,518.4 L513.9,520.3 L510.8,522.1 L507.6,523.8 L504.3,525.5 L501.0,527.1 L497.7,528.7 L494.2,530.2 L490.7,531.6 L487.1,532.9 L483.5,534.2 L479.8,535.4 L476.1,536.5 L472.3,537.5 L468.4,538.4 L464.6,539.2 L460.6,539.9 L456.7,540.5 L452.7,541.0 L448.7,541.4 L444.7,541.7 L440.7,541.8 L436.6,541.9 L432.6,541.8 L428.5,541.7 L424.5,541.4 L420.5,541.0 L416.5,540.5 L412.6,539.9 L408.7,539.2 L404.8,538.4 L400.9,537.5 L397.2,536.5 L393.4,535.4 L389.7,534.2 L386.1,532.9 L382.5,531.6 L379.0,530.2 L375.6,528.7 L372.2,527.1 L368.9,525.5 L365.6,523.8 L362.5,522.1 L359.4,520.3 L356.3,518.4 L353.4,516.5 L350.5,514.6 L347.6,512.7 L344.9,510.7 L342.2,508.6 L339.6,506.6 L337.0,504.5 L334.5,502.4 L332.1,500.3 L329.7,498.1 L327.4,496.0 L325.2,493.8 L323.0,491.6 L320.8,489.4 L318.8,487.2 L316.7,485.0 L314.8,482.8 L312.8,480.5 L311.0,478.3 L309.1,476.1 L307.4,473.8 L305.6,471.6 L303.9,469.3 L302.3,467.1 L300.7,464.9 L299.1,462.6 L297.6,460.4 L296.1,458.1 L294.6,455.9 L293.2,453.7 L291.8,451.4 L290.4,449.2 L289.1,447.0 L287.8,444.7 L286.6,442.5 L285.3,440.3 L284.1,438.1 L282.9,435.8 L281.8,433.6 L280.7,431.4 L279.6,429.2 L278.5,427.0 L277.4,424.8 L276.4,422.6 L275.4,420.4 L274.4,418.2 L273.4,416.0 L272.5,413.8 L271.6,411.6 L270.7,409.4 L269.8,407.2 L268.9,405.0 L268.0,402.8 L267.2,400.6 L266.4,398.4 L265.6,396.1 L264.8,393.9 L264.0,391.7 L263.3,389.5 L262.5,387.3 L261.8,385.1 L261.1,382.9 L260.4,380.6 L259.7,378.4 L259.0,376.2 L258.3,373.9 L257.7,371.7 L257.0,369.4 L256.4,367.2 L255.8,364.9 L255.2,362.6 L254.6,360.4 L254.0,358.1 L253.4,355.8 L252.9,353.4 L252.3,351.1 L251.8,348.8 L251.2,346.4 L250.7,344.1 L250.2,341.7 L249.7,339.3 L249.2,336.9 L248.7,334.5 L248.2,332.1 L247.8,329.6 L247.3,327.2 L246.9,324.7 L246.4,322.2 L246.0,319.7 L245.6,317.1 L245.2,314.6 L244.8,312.0 L244.4,309.4 L244.0,306.7 L243.6,304.1 L243.2,301.4 L242.9,298.7 L242.5,295.9 L242.2,293.1 L241.9,290.3 L241.6,287.5 L241.2,284.6 L240.9,281.7 L240.7,278.7 L240.4,275.7 L240.1,272.7 L239.9,269.6 L239.6,266.5 L239.4,263.3 L239.2,260.1 L238.9,256.8 L238.8,253.5 L238.6,250.1 L238.4,246.6 L238.3,243.1 L238.1,239.5 L238.0,235.9 L237.9,232.1 L237.8,228.3 L237.8,224.4 L237.7,220.4 L237.7,216.4 L237.7,212.2 L237.8,207.9 L237.8,203.5 L237.9,199.0 L238.1,194.3 L238.2,189.6 L238.4,184.6 L238.7,179.6 L239.0,174.3 L239.4,168.9 L239.8,163.3 L240.3,157.5 L240.8,151.5 L241.5,145.2 L242.2,138.6 L243.1,131.8 L244.1,124.7 L245.2,117.2 L246.5,109.3 L248.0,101.0 L249.8,92.3 L251.8,83.0 L254.2,73.2 L257.0,62.6 L260.3,51.4 L264.3,39.3 L269.1,26.3 L275.1,12.3 L282.4,-2.9 L291.7,-19.4 L303.6,-37.0 L319.2,-55.7 L339.5,-74.6 L366.0,-92.1 L399.0,-105.1 L436.6,-110.0 L474.2,-105.1 L507.2,-92.1 L533.7,-74.6 L554.1,-55.7 L569.6,-37.0 L581.5,-19.4 L590.8,-2.9 L598.2,12.3 L604.1,26.3 L608.9,39.3 L612.9,51.4 L616.2,62.6 L619.1,73.2 L621.4,83.0 L623.5,92.3 L625.2,101.0 L626.7,109.3 L628.0,117.2 L629.2,124.7 L630.2,131.8 L631.0,138.6 L631.8,145.2 L632.4,151.5 L633.0,157.5 L633.5,163.3 L633.9,168.9 L634.2,174.3 L634.5,179.6 L634.8,184.6 L635.0,189.6 L635.2,194.3 L635.3,199.0 L635.4,203.5 L635.5,207.9 L635.5,212.2 L635.5,216.4 L635.5,220.4 L635.5,224.4 L635.4,228.3 L635.3,232.1 L635.2,235.9 L635.1,239.5 L635.0,243.1 L634.8,246.6 L634.7,250.1 L634.5,253.5 L634.3,256.8 L634.1,260.1 L633.9,263.3 L633.6,266.5 L633.4,269.6 L633.1,272.7 L632.9,275.7 L632.6,278.7 L632.3,281.7 L632.0,284.6 L631.7,287.5 L631.4,290.3 L631.0,293.1 L630.7,295.9 L630.3,298.7 L630.0,301.4 L629.6,304.1 L629.2,306.7 L628.9,309.4 L628.5,312.0 L628.1,314.6 L627.6,317.1 L627.2,319.7 L626.8,322.2 L626.4,324.7 L625.9,327.2 L625.5,329.6 L625.0,332.1 L624.5,334.5 L624.0,336.9 L623.5,339.3 L623.0,341.7 L622.5,344.1 L622.0,346.4 L621.5,348.8 L620.9,351.1 L620.4,353.4 L619.8,355.8 L619.2,358.1 L618.6,360.4 L618.0,362.6 L617.4,364.9 L616.8,367.2 L616.2,369.4"/><path transform="translate(1,0)" d="M616.2,369.4 L615.6,371.7 L614.9,373.9 L614.2,376.2 L613.6,378.4 L612.9,380.6 L612.2,382.9 L611.4,385.1 L610.7,387.3 L610.0,389.5 L609.2,391.7 L608.4,393.9 L607.7,396.1 L606.8,398.4 L606.0,400.6 L605.2,402.8 L604.3,405.0 L603.5,407.2 L602.6,409.4 L601.7,411.6 L600.7,413.8 L599.8,416.0 L598.8,418.2 L597.8,420.4 L596.8,422.6 L595.8,424.8 L594.7,427.0 L593.7,429.2 L592.6,431.4 L591.4,433.6 L590.3,435.8 L589.1,438.1 L587.9,440.3 L586.7,442.5 L585.4,444.7 L584.1,447.0 L582.8,449.2 L581.4,451.4 L580.0,453.7 L578.6,455.9 L577.2,458.1 L575.7,460.4 L574.1,462.6 L572.6,464.9 L571.0,467.1 L569.3,469.3 L567.6,471.6 L565.9,473.8 L564.1,476.1 L562.3,478.3 L560.4,480.5 L558.5,482.8 L556.5,485.0 L554.5,487.2 L552.4,489.4 L550.3,491.6 L548.1,493.8 L545.8,496.0 L543.5,498.1 L541.1,500.3 L538.7,502.4 L536.2,504.5 L533.7,506.6 L531.0,508.6 L528.3,510.7 L525.6,512.7 L522.8,514.6 L519.9,516.5 L516.9,518.4 L513.9,520.3 L510.8,522.1 L507.6,523.8 L504.3,525.5 L501.0,527.1 L497.7,528.7 L494.2,530.2 L490.7,531.6 L487.1,532.9 L483.5,534.2 L479.8,535.4 L476.1,536.5 L472.3,537.5 L468.4,538.4 L464.6,539.2 L460.6,539.9 L456.7,540.5 L452.7,541.0 L448.7,541.4 L444.7,541.7 L440.7,541.8 L436.6,541.9 L432.6,541.8 L428.5,541.7 L424.5,541.4 L420.5,541.0 L416.5,540.5 L412.6,539.9 L408.7,539.2 L404.8,538.4 L400.9,537.5 L397.2,536.5 L393.4,535.4 L389.7,534.2 L386.1,532.9 L382.5,531.6 L379.0,530.2 L375.6,528.7 L372.2,527.1 L368.9,525.5 L365.6,523.8 L362.5,522.1 L359.4,520.3 L356.3,518.4 L353.4,516.5 L350.5,514.6 L347.6,512.7 L344.9,510.7 L342.2,508.6 L339.6,506.6 L337.0,504.5 L334.5,502.4 L332.1,500.3 L329.7,498.1 L327.4,496.0 L325.2,493.8 L323.0,491.6 L320.8,489.4 L318.8,487.2 L316.7,485.0 L314.8,482.8 L312.8,480.5 L311.0,478.3 L309.1,476.1 L307.4,473.8 L305.6,471.6 L303.9,469.3 L302.3,467.1 L300.7,464.9 L299.1,462.6 L297.6,460.4 L296.1,458.1 L294.6,455.9 L293.2,453.7 L291.8,451.4 L290.4,449.2 L289.1,447.0 L287.8,444.7 L286.6,442.5 L285.3,440.3 L284.1,438.1 L282.9,435.8 L281.8,433.6 L280.7,431.4 L279.6,429.2 L278.5,427.0 L277.4,424.8 L276.4,422.6 L275.4,420.4 L274.4,418.2 L273.4,416.0 L272.5,413.8 L271.6,411.6 L270.7,409.4 L269.8,407.2 L268.9,405.0 L268.0,402.8 L267.2,400.6 L266.4,398.4 L265.6,396.1 L264.8,393.9 L264.0,391.7 L263.3,389.5 L262.5,387.3 L261.8,385.1 L261.1,382.9 L260.4,380.6 L259.7,378.4 L259.0,376.2 L258.3,373.9 L257.7,371.7 L257.0,369.4 L256.4,367.2 L255.8,364.9 L255.2,362.6 L254.6,360.4 L254.0,358.1 L253.4,355.8 L252.9,353.4 L252.3,351.1 L251.8,348.8 L251.2,346.4 L250.7,344.1 L250.2,341.7 L249.7,339.3 L249.2,336.9 L248.7,334.5 L248.2,332.1 L247.8,329.6 L247.3,327.2 L246.9,324.7 L246.4,322.2 L246.0,319.7 L245.6,317.1 L245.2,314.6 L244.8,312.0 L244.4,309.4 L244.0,306.7 L243.6,304.1 L243.2,301.4 L242.9,298.7 L242.5,295.9 L242.2,293.1 L241.9,290.3 L241.6,287.5 L241.2,284.6 L240.9,281.7 L240.7,278.7 L240.4,275.7 L240.1,272.7 L239.9,269.6 L239.6,266.5 L239.4,263.3 L239.2,260.1 L238.9,256.8 L238.8,253.5 L238.6,250.1 L238.4,246.6 L238.3,243.1 L238.1,239.5 L238.0,235.9 L237.9,232.1 L237.8,228.3 L237.8,224.4 L237.7,220.4 L237.7,216.4 L237.7,212.2 L237.8,207.9 L237.8,203.5 L237.9,199.0 L238.1,194.3 L238.2,189.6 L238.4,184.6 L238.7,179.6 L239.0,174.3 L239.4,168.9 L239.8,163.3 L240.3,157.5 L240.8,151.5 L241.5,145.2 L242.2,138.6 L243.1,131.8 L244.1,124.7 L245.2,117.2 L246.5,109.3 L248.0,101.0 L249.8,92.3 L251.8,83.0 L254.2,73.2 L257.0,62.6 L260.3,51.4 L264.3,39.3 L269.1,26.3 L275.1,12.3 L282.4,-2.9 L291.7,-19.4 L303.6,-37.0 L319.2,-55.7 L339.5,-74.6 L366.0,-92.1 L399.0,-105.1 L436.6,-110.0 L474.2,-105.1 L507.2,-92.1 L533.7,-74.6 L554.1,-55.7 L569.6,-37.0 L581.5,-19.4 L590.8,-2.9 L598.2,12.3 L604.1,26.3 L608.9,39.3 L612.9,51.4 L616.2,62.6 L619.1,73.2 L621.4,83.0 L623.5,92.3 L625.2,101.0 L626.7,109.3 L628.0,117.2 L629.2,124.7 L630.2,131.8 L631.0,138.6 L631.8,145.2 L632.4,151.5 L633.0,157.5 L633.5,163.3 L633.9,168.9 L634.2,174.3 L634.5,179.6 L634.8,184.6 L635.0,189.6 L635.2,194.3 L635.3,199.0 L635.4,203.5 L635.5,207.9 L635.5,212.2 L635.5,216.4 L635.5,220.4 L635.5,224.4 L635.4,228.3 L635.3,232.1 L635.2,235.9 L635.1,239.5 L635.0,243.1 L634.8,246.6 L634.7,250.1 L634.5,253.5 L634.3,256.8 L634.1,260.1 L633.9,263.3 L633.6,266.5 L633.4,269.6 L633.1,272.7 L632.9,275.7 L632.6,278.7 L632.3,281.7 L632.0,284.6 L631.7,287.5 L631.4,290.3 L631.0,293.1 L630.7,295.9 L630.3,298.7 L630.0,301.4 L629.6,304.1 L629.2,306.7 L628.9,309.4 L628.5,312.0 L628.1,314.6 L627.6,317.1 L627.2,319.7 L626.8,322.2 L626.4,324.7 L625.9,327.2 L625.5,329.6 L625.0,332.1 L624.5,334.5 L624.0,336.9 L623.5,339.3 L623.0,341.7 L622.5,344.1 L622.0,346.4 L621.5,348.8 L620.9,351.1 L620.4,353.4 L619.8,355.8 L619.2,358.1 L618.6,360.4 L618.0,362.6 L617.4,364.9 L616.8,367.2 L616.2,369.4"/></g>
<path d="M151.2,692.0 L144.3,650.4 L139.7,610.2 L132.4,543.3 L124.8,479.3 L119.2,440.0 L117.5,433.7 L113.8,422.7 L112.4,418.5 L115.0,400.0 L119.2,374.7 L121.7,357.0 L119.2,351.2 L116.6,341.0 L112.8,314.1 L109.0,290.5 L104.5,260.2 L102.3,248.0 L93.9,182.0 L89.5,150.1 L72.7,73.1 L72.4,71.0 M590.2,71.0 L582.3,103.2 L575.6,133.7 L569.7,168.3 L566.5,190.4 L563.5,215.0 L560.6,240.0 L557.6,264.3 L554.6,281.3 L551.2,314.3 L549.0,324.3 L546.0,362.6 L543.7,392.1 L542.7,401.4 L539.7,429.5 L538.0,443.2 L534.5,481.0 L532.7,499.2 L528.4,551.0 L525.5,578.3 L520.9,619.0 L518.0,636.6 L514.5,669.0" stroke="#ff6347" stroke-width="1.6"/>
<g stroke="#0000ff" stroke-width="1.35"><path d="M151.9,692.0 L151.7,691.0 L145.0,650.4 L140.4,610.2 L136.6,571.6 L131.6,522.4 L124.0,464.1 L120.0,440.0 L117.2,425.2 L116.6,416.8 L119.2,391.6 L122.2,368.0 L123.4,357.9 L120.5,353.2 L117.5,342.7 L114.1,320.8 L110.7,300.3 L107.4,273.7 L104.8,260.0 L102.3,241.0 L90.5,150.1 L73.7,73.1 L73.4,71.0 M591.2,71.0 L590.6,73.6 L583.3,103.2 L576.6,133.7 L570.7,168.3 L567.5,190.4 L564.5,215.0 L561.6,240.0 L558.6,264.3 L555.6,281.3 L552.2,314.3 L550.0,324.3 L547.0,362.6 L544.7,392.1 L543.7,401.4 L540.7,429.5 L539.0,443.2 L535.5,481.0 L533.7,499.2 L529.4,551.0 L526.5,578.3 L521.9,619.0 L519.0,636.6 L514.8,669.0 L511.3,690.9 L511.1,692.5"/><path transform="translate(1,0)" d="M151.9,692.0 L151.7,691.0 L145.0,650.4 L140.4,610.2 L136.6,571.6 L131.6,522.4 L124.0,464.1 L120.0,440.0 L117.2,425.2 L116.6,416.8 L119.2,391.6 L122.2,368.0 L123.4,357.9 L120.5,353.2 L117.5,342.7 L114.1,320.8 L110.7,300.3 L107.4,273.7 L104.8,260.0 L102.3,241.0 L90.5,150.1 L73.7,73.1 L73.4,71.0 M591.2,71.0 L590.6,73.6 L583.3,103.2 L576.6,133.7 L570.7,168.3 L567.5,190.4 L564.5,215.0 L561.6,240.0 L558.6,264.3 L555.6,281.3 L552.2,314.3 L550.0,324.3 L547.0,362.6 L544.7,392.1 L543.7,401.4 L540.7,429.5 L539.0,443.2 L535.5,481.0 L533.7,499.2 L529.4,551.0 L526.5,578.3 L521.9,619.0 L519.0,636.6 L514.8,669.0 L511.3,690.9 L511.1,692.5"/></g>
<path d="M133.0,610.5h15M140.5,603.0v15 M124.0,522.5h15M131.5,515.0v15 M117.0,464.5h15M124.5,457.0v15 M110.0,425.5h15M117.5,418.0v15 M110.0,342.5h15M117.5,335.0v15 M103.0,300.5h15M110.5,293.0v15 M95.0,241.5h15M102.5,234.0v15 M83.0,150.5h15M90.5,143.0v15 M576.0,103.5h15M583.5,96.0v15 M557.0,215.5h15M564.5,208.0v15 M548.0,281.5h15M555.5,274.0v15 M543.0,324.5h15M550.5,317.0v15 M536.0,401.5h15M543.5,394.0v15 M532.0,443.5h15M539.5,436.0v15 M526.0,499.5h15M533.5,492.0v15 M519.0,578.5h15M526.5,571.0v15" stroke="#0000ff" stroke-width="1"/>
<path d="M138.0,650.5h15M145.5,643.0v15 M125.0,543.5h15M132.5,536.0v15 M117.0,479.5h15M124.5,472.0v15 M111.0,433.5h15M118.5,426.0v15 M112.0,351.5h15M119.5,344.0v15 M105.0,314.5h15M112.5,307.0v15 M97.0,260.5h15M104.5,253.0v15 M86.0,182.5h15M93.5,175.0v15 M560.0,190.5h15M567.5,183.0v15 M551.0,264.5h15M558.5,257.0v15 M544.0,314.5h15M551.5,307.0v15 M537.0,392.5h15M544.5,385.0v15 M533.0,429.5h15M540.5,422.0v15 M527.0,481.5h15M534.5,474.0v15 M521.0,551.5h15M528.5,544.0v15 M506.5,669h16M514.5,661v16M507.0,661.5l15,15M507.0,676.5l15,-15" stroke="#ff6347" stroke-width="1"/>
</g>
<rect x="102.9" y="178.7" width="9" height="9" fill="#57b260" stroke="#000" stroke-width="1"/><rect x="106.9" y="182.7" width="1" height="1" fill="#dfd"/>
<rect x="182.9" y="215.5" width="9" height="9" fill="#57b260" stroke="#000" stroke-width="1"/><rect x="186.9" y="219.5" width="1" height="1" fill="#dfd"/>
<rect x="262.5" y="236.5" width="9" height="9" fill="#57b260" stroke="#000" stroke-width="1"/><rect x="266.5" y="240.5" width="1" height="1" fill="#dfd"/>
<rect x="537.5" y="147.0" width="9" height="9" fill="#57b260" stroke="#000" stroke-width="1"/><rect x="541.5" y="151.0" width="1" height="1" fill="#dfd"/>
<rect x="541.9" y="166.5" width="9" height="9" fill="#57b260" stroke="#000" stroke-width="1"/><rect x="545.9" y="170.5" width="1" height="1" fill="#dfd"/>
<rect x="693.7" y="130.9" width="9" height="9" fill="#57b260" stroke="#000" stroke-width="1"/><rect x="697.7" y="134.9" width="1" height="1" fill="#dfd"/>
<rect x="799.9" y="175.1" width="9" height="9" fill="#57b260" stroke="#000" stroke-width="1"/><rect x="803.9" y="179.1" width="1" height="1" fill="#dfd"/>
<path d="M516.6,57.1L522.0,67.2H511.2Z" fill="#ee82ee" stroke="#000" stroke-width="1"/>
<path d="M523.7,133.4L529.1,143.5H518.3Z" fill="#ee82ee" stroke="#000" stroke-width="1"/>
<g clip-path="url(#clip1)">
<text x="135.2" y="650.9" font-size="15.2" fill="#ff6347" stroke="#ff6347">5</text>
<text x="112.1 122.6" y="543.8" font-size="15.2" fill="#ff6347" stroke="#ff6347">10</text>
<text x="104.5 115.0" y="479.8" font-size="15.2" fill="#ff6347" stroke="#ff6347">15</text>
<text x="97.8 108.3" y="434.0" font-size="15.2" fill="#ff6347" stroke="#ff6347">20</text>
<text x="98.9 109.4" y="351.7" font-size="15.2" fill="#ff6347" stroke="#ff6347">25</text>
<text x="92.5 103.0" y="314.6" font-size="15.2" fill="#ff6347" stroke="#ff6347">30</text>
<text x="84.2 94.7" y="260.7" font-size="15.2" fill="#ff6347" stroke="#ff6347">35</text>
<text x="73.6 84.1" y="182.5" font-size="15.2" fill="#ff6347" stroke="#ff6347">40</text>
<text x="547.2 557.7" y="190.9" font-size="15.2" fill="#ff6347" stroke="#ff6347">55</text>
<text x="537.8 548.3" y="264.8" font-size="15.2" fill="#ff6347" stroke="#ff6347">60</text>
<text x="531.2 541.7" y="314.8" font-size="15.2" fill="#ff6347" stroke="#ff6347">65</text>
<text x="524.2 534.7" y="392.6" font-size="15.2" fill="#ff6347" stroke="#ff6347">70</text>
<text x="519.7 530.2" y="430.0" font-size="15.2" fill="#ff6347" stroke="#ff6347">75</text>
<text x="514.5 525.0" y="481.5" font-size="15.2" fill="#ff6347" stroke="#ff6347">80</text>
<text x="508.6 519.1" y="551.5" font-size="15.2" fill="#ff6347" stroke="#ff6347">85</text>
<text x="150.2" y="610.7" font-size="15.2" fill="#0000ff" stroke="#0000ff" font-weight="bold">5</text>
<text x="141.4 151.9" y="522.9" font-size="15.2" fill="#0000ff" stroke="#0000ff" font-weight="bold">10</text>
<text x="133.8 144.3" y="464.6" font-size="15.2" fill="#0000ff" stroke="#0000ff" font-weight="bold">15</text>
<text x="127.0 137.5" y="425.7" font-size="15.2" fill="#0000ff" stroke="#0000ff" font-weight="bold">20</text>
<text x="127.3 137.8" y="343.2" font-size="15.2" fill="#0000ff" stroke="#0000ff" font-weight="bold">25</text>
<text x="120.5 131.0" y="300.8" font-size="15.2" fill="#0000ff" stroke="#0000ff" font-weight="bold">30</text>
<text x="112.1 122.6" y="241.5" font-size="15.2" fill="#0000ff" stroke="#0000ff" font-weight="bold">35</text>
<text x="100.3 110.8" y="150.6" font-size="15.2" fill="#0000ff" stroke="#0000ff" font-weight="bold">40</text>
<text x="593.1 603.6" y="103.7" font-size="15.2" fill="#0000ff" stroke="#0000ff" font-weight="bold">50</text>
<text x="574.3 584.8" y="215.5" font-size="15.2" fill="#0000ff" stroke="#0000ff" font-weight="bold">55</text>
<text x="565.4 575.9" y="281.8" font-size="15.2" fill="#0000ff" stroke="#0000ff" font-weight="bold">60</text>
<text x="559.8 570.3" y="324.8" font-size="15.2" fill="#0000ff" stroke="#0000ff" font-weight="bold">65</text>
<text x="553.5 564.0" y="401.9" font-size="15.2" fill="#0000ff" stroke="#0000ff" font-weight="bold">70</text>
<text x="548.8 559.3" y="443.7" font-size="15.2" fill="#0000ff" stroke="#0000ff" font-weight="bold">75</text>
<text x="543.5 554.0" y="499.7" font-size="15.2" fill="#0000ff" stroke="#0000ff" font-weight="bold">80</text>
<text x="536.3 546.8" y="578.8" font-size="15.2" fill="#0000ff" stroke="#0000ff" font-weight="bold">85</text>
</g>
<rect x="9.5" y="29.5" width="932" height="705.0" fill="none" stroke="#000" stroke-width="1"/>
</g>
<g id="panel2">
<text x="18.1 25.6 33.0 38.4 44.7 52.6 58.9 65.6 72.3" y="784.2" font-size="12.4" fill="#0000ff" stroke="#0000ff" font-weight="bold">ELFIN (A)</text>
<text x="17.5 24.4 31.9 37.6 43.2 52.6 62.3 70.7 76.9 83.2 91.0 97.5 104.6 110.9 117.2 125.6 133.9 142.5 151.3 160.8 168.7" y="802.7" font-size="12.4" fill="#000" stroke="#000">Tspin=10.0s[5.957RPM]</text>
<text x="17.5 24.8 31.5 38.2 47.6 57.3 65.6 71.9 78.2 86.6 97.1 105.0 110.7" y="822.5" font-size="12.4" fill="#000" stroke="#000">Torb=84.40min</text>
<text x="18.5 27.5 36.3 44.9 51.4 56.8 63.1 70.7 79.0 87.4 96.6 105.7 114.7 123.5 132.0 141.1 149.9 157.8 164.5" y="841.8" font-size="12.4" fill="#000" stroke="#000">B/SP: (NA/ND/SD/SA)</text>
<text x="18.7 27.7 36.7 43.4 48.9 56.2 64.2 70.7 76.5 83.9 91.2 98.5 104.2 107.5 113.2 121.2 126.8 132.3" y="861.4" font-size="12.4" fill="#000" stroke="#000">OBO: not available</text>
<text x="15.8 21.9 30.9 37.6 43.0 50.3 58.3 64.8 70.7 78.0 85.3 92.7 98.3 101.7 107.3 115.3 120.9 126.4" y="880.6" font-size="12.4" fill="#000" stroke="#000">IBO: not available</text>
<text x="18.3 24.6 30.0 37.4 45.3 51.8 57.7 65.0 72.3 79.7 85.3 88.7 94.3 102.3 108.0 113.4" y="900.2" font-size="12.4" fill="#000" stroke="#000">S: not available</text>
<text x="18.3 24.6 30.0 37.4 45.3 51.8 57.7 65.0 72.3 79.7 85.3 88.7 94.3 102.3 108.0 113.4" y="919.8" font-size="12.4" fill="#000" stroke="#000">S: not available</text>
<text x="18.3 25.8 33.8 43.0 51.8 60.0 67.9 74.0 79.5 86.8 94.5 102.3 108.4 113.8 121.8 130.4 137.7 145.0 151.5 156.6 162.4 169.8 177.7 184.2 190.7" y="939.6" font-size="12.4" fill="#000" stroke="#000">S w/Sun, deg: No att data</text>
<text x="18.3 25.8 33.8 43.0 52.2 59.6 66.3 74.9 83.4 90.1 99.2 107.5 113.0 120.3 128.1 135.8 141.9 147.3 155.3 163.9 171.2 178.6 185.1 190.1 195.9 203.3 211.2 217.7 224.2" y="958.7" font-size="12.4" fill="#000" stroke="#000">S w/OrbNorm, deg: No att data</text>
<text x="17.9 24.2 29.2 33.8 40.1 48.2 53.9 61.2 71.5 80.1 87.4 94.8 101.3 106.3 112.1 119.5 127.4 133.9 140.4" y="978.5" font-size="12.4" fill="#000" stroke="#000">Att.Sol@No att data</text>
<text x="17.9 23.3 27.5 31.7 35.9 42.4 50.3 58.1 64.0 69.4 76.3 86.2 94.5 100.0 107.5 115.9 124.3 130.6 136.9 144.6 154.5" y="997.8" font-size="12.4" fill="#000" stroke="#000">Altitude, km: 464.2km</text>
<text x="18.1 25.6 33.0 38.4 44.7 52.6 58.9 66.3 73.6" y="1263.6" font-size="12.4" fill="#ff6347" stroke="#ff6347" font-weight="bold">ELFIN (B)</text>
<text x="17.5 24.4 31.9 37.6 43.2 52.6 62.3 68.6 74.9 83.2 91.0 97.5 104.6 113.0 119.3 125.6 133.9 142.5 151.3 160.8 168.7" y="1282.1" font-size="12.4" fill="#000" stroke="#000">Tspin=2.30s[26.03RPM]</text>
<text x="17.5 24.8 31.5 38.2 47.6 57.3 65.6 71.9 78.2 86.6 97.1 105.0 110.7" y="1301.6" font-size="12.4" fill="#000" stroke="#000">Torb=87.40min</text>
<text x="18.5 27.5 36.3 44.9 51.4 56.8 63.1 70.7 79.0 87.4 96.6 105.7 114.7 123.5 132.0 141.1 149.9 157.8 164.5" y="1320.8" font-size="12.4" fill="#000" stroke="#000">B/SP: (NA/ND/SD/SA)</text>
<text x="18.7 27.7 36.7 43.4 48.9 56.2 64.2 70.7 76.5 83.9 91.2 98.5 104.2 107.5 113.2 121.2 126.8 132.3" y="1340.4" font-size="12.4" fill="#000" stroke="#000">OBO: not available</text>
<text x="15.8 21.9 30.9 37.6 43.0 50.3 58.3 64.8 70.7 78.0 85.3 92.7 98.3 101.7 107.3 115.3 120.9 126.4" y="1359.6" font-size="12.4" fill="#000" stroke="#000">IBO: not available</text>
<text x="18.3 24.6 30.0 37.4 45.3 51.8 57.7 65.0 72.3 79.7 85.3 88.7 94.3 102.3 108.0 113.4" y="1379.2" font-size="12.4" fill="#000" stroke="#000">S: not available</text>
<text x="18.3 24.6 30.0 37.4 45.3 51.8 57.7 65.0 72.3 79.7 85.3 88.7 94.3 102.3 108.0 113.4" y="1398.8" font-size="12.4" fill="#000" stroke="#000">S: not available</text>
<text x="18.3 25.8 33.8 43.0 51.8 60.0 67.9 74.0 79.5 86.8 94.5 102.3 108.4 113.8 121.8 130.4 137.7 145.0 151.5 156.6 162.4 169.8 177.7 184.2 190.7" y="1418.4" font-size="12.4" fill="#000" stroke="#000">S w/Sun, deg: No att data</text>
<text x="18.3 25.8 33.8 43.0 52.2 59.6 66.3 74.9 83.4 90.1 99.2 107.5 113.0 120.3 128.1 135.8 141.9 147.3 155.3 163.9 171.2 178.6 185.1 190.1 195.9 203.3 211.2 217.7 224.2" y="1438.0" font-size="12.4" fill="#000" stroke="#000">S w/OrbNorm, deg: No att data</text>
<text x="17.9 24.2 29.2 33.8 40.1 48.2 53.9 61.2 69.0 74.4 82.4 91.0 98.3 105.7 112.1 117.2 123.0 130.4 138.3 144.8 151.3" y="1457.6" font-size="12.4" fill="#000" stroke="#000">Att.Sol@: No att data</text>
<text x="17.9 23.3 27.5 31.7 35.9 42.4 50.3 58.1 64.0 69.4 76.9 85.3 93.7 100.0 106.3 114.0 123.9" y="1476.8" font-size="12.4" fill="#000" stroke="#000">Altitude: 464.2km</text>
<text x="697.0 705.8 712.2 718.7 726.5 733.0 739.5 746.2 752.3 759.4 764.8 770.3 778.7 786.6 794.4 802.5 810.3 816.8 823.1 829.6 835.6 842.3 847.4 855.3 865.4 872.5 878.8 884.2 889.5 893.9 899.5 907.5 915.5 921.1 926.6 933.3" y="784.2" font-size="12.4" fill="#000" stroke="#000">Mercator View Center Time (triangle)</text>
<text x="702.4 709.7 715.4 720.8 728.2 735.1 743.9 752.7 760.2 768.2 773.6 779.1 786.8 794.6 802.1 809.2 815.5 822.2 830.4 839.8 848.2 855.5 863.5 871.5 880.1 888.6 895.3 901.4 908.8 917.1 925.9 933.3" y="802.7" font-size="12.4" fill="#000" stroke="#000">Thick – Science (FGM and/or EPD)</text>
<text x="713.9 722.1 729.8 737.2 744.1 751.6 758.1 765.2 773.4 781.0 788.9 796.3 805.1 813.9 821.6 827.7 833.3 841.1 848.4 855.3 862.7 870.6 877.1 882.1 888.4 896.2 903.5 908.5 911.9 917.6 925.3 932.6" y="822.5" font-size="12.4" fill="#000" stroke="#000">Geo Lat/Lon – Black dotted lines</text>
<text x="723.3 732.4 740.3 747.7 754.6 762.1 768.6 775.7 783.9 791.4 799.4 806.7 815.5 824.3 832.1 840.2 848.0 855.3 862.7 870.6 877.1 882.1 888.4 896.2 903.5 908.5 911.9 917.6 925.3 932.6" y="841.8" font-size="12.4" fill="#f00" stroke="#f00">Mag Lat/Lon – Red dotted lines</text>
<text x="677.3 682.3 687.7 695.1 702.0 710.4 719.4 726.1 732.4 739.5 746.4 753.5 760.6 767.8 774.3 780.3 787.0 794.6 805.1 813.0 818.7 826.0 831.9 837.1 843.8 854.1 863.7 871.3 879.6 885.9 892.2 900.6 908.1 916.1 924.0 931.8" y="861.4" font-size="12.4" fill="#000" stroke="#000">Tick Marks every 5min from 00:00 UTC</text>
<text x="804.2 810.9 817.4 824.1 829.4 835.2 841.9 847.0 854.9 865.0 874.2 884.0 890.1 895.8 906.0 916.3 924.3 932.2" y="880.6" font-size="12.4" fill="#000" stroke="#000">Start Time–Diamond</text>
<text x="818.3 826.2 834.2 841.5 848.2 853.2 861.2 871.3 880.5 889.7 897.0 903.1 909.4 915.9 920.3 925.5 932.6" y="900.2" font-size="12.4" fill="#000" stroke="#000">End Time–Asterisk</text>
<text x="735.1 742.2 748.7 757.7 765.7 771.3 779.3 785.8 792.3 799.0 803.8 809.2 816.6 823.3 830.0 837.9 845.9 853.9 863.3 871.3 877.7 883.4 888.9 896.2 903.1 910.0 917.6 923.2 926.6 932.2" y="919.8" font-size="12.4" fill="#000" stroke="#000">Terminator: ground–thick solid</text>
<text x="788.5 794.2 800.0 808.6 816.8 823.9 832.7 842.6 850.9 857.6 864.3 870.0 875.4 882.6 889.3 895.3 899.7 905.4 913.4 921.3 927.0 932.4" y="939.6" font-size="12.4" fill="#ee82ee" stroke="#ee82ee">EISCAT–Purple Triangle</text>
<text x="817.6 825.0 832.3 841.5 851.4 858.5 865.0 872.5 880.3 887.6 895.1 903.3 911.3 919.2 925.9 932.4" y="958.7" font-size="12.4" fill="#57b260" stroke="#57b260">VLF–Green Square</text>
<text x="817.2 825.6 834.0 841.5 848.4 858.3 870.0 878.0 884.5 890.1 895.8 903.1 910.0 917.6 923.2 926.6 932.2" y="978.5" font-size="12.4" fill="#000" stroke="#000">100 km–thin solid</text>
<text x="831.5 839.8 848.2 855.8 862.7 872.5 884.2 893.7 901.6 909.2 916.7 924.5 932.2" y="997.8" font-size="12.4" fill="#000" stroke="#000">400 km–dashed</text>
<text x="820.1 827.1 834.0 841.3 849.3 857.2 865.0 872.7 880.3 887.8 897.2 906.9 915.3 923.6 932.0" y="1457.6" font-size="12.4" fill="#000" stroke="#000">Tsyganenko–1996</text>
<text x="696.7 703.9 710.4 718.1 724.6 730.9 738.6 744.7 750.2 757.7 765.9 773.8 781.2 787.9 795.2 803.2 810.5 818.0 826.4 834.0 841.5 849.9 856.2 862.5 870.8 877.1 883.4 891.8 899.3 906.9 915.3 923.6 932.0" y="1476.8" font-size="12.4" fill="#000" stroke="#000">Created: Sun Jan 29 09:47:48 2023</text>
<path d="M899.0,1166.2L908.8,1166.2 M897.2,1170.4L904.2,1177.3 M893.0,1172.2L893.0,1182.0 M888.7,1170.4L881.8,1177.3 M887.0,1166.2L877.2,1166.2 M888.7,1161.9L881.8,1155.0 M893.0,1160.2L893.0,1150.4 M897.2,1161.9L904.2,1155.0" stroke="#000" stroke-width="1.5" fill="none"/>
<circle cx="893.0" cy="1166.2" r="8" fill="#ffa500"/>
<g clip-path="url(#clip2)" fill="none">
<path d="M49.9,903.7 58.8,898.1 65.1,900.6 65.6,895.5 60.0,890.9 52.9,886.2 54.5,882.0 61.3,877.1 65.4,871.9 72.7,868.1 79.0,863.4 85.4,867.3 91.7,870.4 99.3,871.1 108.2,874.1 118.3,877.1 124.6,879.9 131.0,882.0 133.5,878.5 138.6,877.8 143.6,874.9 150.0,870.4 151.2,872.6 153.8,876.3 157.6,878.5 159.6,873.4 163.9,876.3 169.0,877.1 175.3,879.9 181.6,882.0 185.4,886.9 183.4,889.6 190.5,890.3 196.8,888.9 200.6,892.2 201.9,896.1 204.4,890.9 205.7,886.2 210.8,888.2 217.1,889.6 222.2,889.6 226.5,889.6 228.5,884.8 232.3,886.9 233.6,892.9 234.8,888.2 237.4,882.7 232.3,877.8 231.5,868.9 231.8,863.4 235.8,858.6 239.9,864.2 241.2,872.6 243.2,877.8 246.2,884.8 250.0,880.6 252.6,886.2 253.1,892.2 256.4,890.9 258.9,882.7 258.9,876.3 262.7,875.6 267.8,876.3 269.5,884.1 267.0,889.6 269.5,893.6 265.2,899.3 261.4,899.9 257.6,899.9 256.9,898.1 255.1,904.9 251.3,912.0 247.5,913.7 245.7,916.6 241.7,921.0 238.6,924.8 236.6,930.6 235.6,937.2 236.9,940.7 240.4,945.5 241.4,949.3 246.2,948.3 251.3,951.1 255.1,953.8 260.2,957.0 267.0,957.4 267.3,966.1 269.5,970.2 271.6,973.9 274.6,973.5 275.9,969.0 275.4,962.7 273.6,959.2 278.4,957.0 281.4,952.5 281.7,946.9 279.2,943.1 276.6,940.7 279.2,935.7 279.2,930.6 277.9,922.7 279.7,921.6 286.8,923.2 291.8,925.9 294.4,929.1 298.7,929.6 299.4,934.7 298.2,939.7 302.0,942.2 304.5,943.1 308.3,940.7 310.1,935.7 312.1,932.7 314.6,938.2 317.7,944.6 319.7,950.2 322.7,954.7 327.3,959.2 330.3,961.8 332.4,965.6 334.1,969.0 333.6,971.9 331.1,973.5 326.8,975.1 323.5,977.9 318.4,977.9 313.4,977.9 307.0,978.3 304.5,981.4 300.7,984.9 297.7,988.7 295.6,990.9 298.2,989.4 302.0,985.3 307.0,982.6 312.6,983.4 310.1,986.8 311.3,989.4 310.8,992.8 313.9,994.2 318.4,995.0 321.0,993.5 323.0,990.6 323.8,994.2 320.2,997.1 314.6,999.3 310.8,1002.1 307.8,1002.8 308.3,999.6 312.1,996.4 308.3,997.1 305.8,998.5 302.0,1000.3 298.2,1002.1 296.4,1005.6 296.1,1008.3 298.2,1009.0 296.9,1010.0 294.4,1010.3 290.6,1011.0 288.0,1012.7 288.0,1015.7 286.0,1018.3 285.0,1016.6 285.0,1019.9 283.5,1023.7 282.2,1024.7 282.0,1018.9 281.7,1024.1 283.0,1025.3 283.7,1028.5 284.2,1030.3 281.2,1031.9 278.4,1034.0 275.4,1035.8 272.8,1038.5 270.3,1040.9 269.3,1044.5 269.8,1047.4 271.3,1050.6 272.6,1054.8 272.3,1058.8 270.6,1059.9 268.3,1057.7 266.2,1053.1 266.0,1049.4 263.7,1046.2 261.9,1045.9 259.2,1046.8 256.4,1044.8 252.6,1044.8 250.0,1045.3 249.0,1048.3 246.2,1048.3 242.9,1047.1 238.6,1046.8 235.3,1047.7 232.3,1050.0 229.3,1052.3 228.8,1056.0 229.3,1058.8 227.7,1063.0 227.7,1067.1 229.0,1070.6 231.0,1074.7 232.3,1076.6 234.3,1077.6 236.1,1078.7 239.9,1078.2 242.9,1077.6 245.0,1076.0 246.2,1072.5 246.7,1070.9 251.3,1069.8 255.1,1069.8 255.6,1071.7 253.8,1074.4 253.6,1077.9 252.1,1078.7 251.6,1081.9 250.8,1084.8 253.8,1085.0 257.6,1084.8 261.4,1085.0 264.7,1087.1 264.0,1091.1 263.5,1094.2 263.5,1097.5 265.2,1100.1 267.3,1102.4 269.8,1103.2 272.8,1102.1 274.1,1101.1 276.6,1101.6 279.2,1103.4 279.7,1103.9 280.9,1105.2 279.4,1103.9 M278.4,1107.2 277.1,1105.2 275.4,1102.9 273.6,1103.4 272.1,1104.7 272.3,1106.7 270.6,1107.0 269.0,1105.7 265.7,1104.7 263.7,1103.9 263.5,1101.9 260.2,1100.1 258.1,1099.3 258.1,1097.5 255.9,1094.9 253.8,1092.6 253.6,1091.6 251.3,1091.8 247.5,1090.5 244.2,1090.0 241.7,1088.4 237.9,1084.8 235.3,1084.0 231.5,1085.3 227.2,1084.0 222.4,1082.4 217.6,1079.8 213.3,1078.4 210.8,1076.0 208.2,1072.8 208.7,1069.8 207.0,1066.3 204.7,1063.5 201.9,1060.2 198.4,1058.0 197.9,1055.1 195.3,1052.3 193.0,1050.3 190.5,1046.5 188.7,1042.4 184.9,1040.9 184.7,1043.6 185.9,1045.9 188.5,1049.4 190.5,1052.3 193.0,1056.5 194.8,1060.5 196.8,1063.0 198.1,1065.2 196.8,1066.0 194.3,1063.0 191.3,1060.7 191.3,1057.4 187.2,1054.8 185.4,1052.6 186.2,1050.3 183.7,1047.4 181.6,1044.2 179.6,1040.6 178.6,1037.9 175.6,1034.6 173.5,1033.4 170.2,1032.5 169.5,1030.0 166.7,1025.9 165.2,1022.8 163.9,1020.5 161.9,1016.6 160.4,1013.7 161.1,1010.0 160.1,1005.6 161.4,999.6 161.4,993.5 159.9,988.7 159.6,985.3 163.9,986.1 165.4,989.4 165.4,985.7 163.9,983.0 162.6,981.1 159.3,979.1 155.0,976.7 152.5,974.3 151.7,970.2 149.2,966.9 146.2,961.8 145.4,958.3 142.4,956.1 141.1,951.6 137.3,947.9 136.0,943.6 132.7,943.1 129.7,943.1 125.9,939.7 121.9,935.7 117.0,934.7 110.7,934.2 105.6,931.2 101.8,929.6 99.3,934.7 95.5,937.2 90.9,938.7 92.2,932.2 95.5,928.6 91.7,930.1 89.2,933.7 86.6,937.7 84.6,942.2 80.3,946.9 75.7,951.1 72.7,954.7 68.9,956.5 65.1,958.3 61.3,959.2 58.0,960.1 61.8,957.0 65.1,954.3 68.9,953.4 73.5,949.3 76.0,945.5 77.0,941.2 74.0,940.7 70.2,941.2 66.4,941.2 65.1,938.2 64.3,934.2 60.0,934.7 57.0,931.2 57.5,927.5 55.0,926.4 56.7,921.6 58.3,918.8 61.3,917.7 66.4,916.0 68.1,913.7 67.6,910.3 63.8,910.8 60.0,909.7 56.2,910.3 53.7,908.5 53.7,905.5 49.9,903.7 M364.0,935.7 360.2,932.7 355.2,929.6 351.9,925.4 349.3,919.9 346.3,914.9 343.8,910.3 342.5,904.3 340.0,898.1 339.2,892.9 340.7,886.2 345.8,882.7 346.3,877.1 343.8,879.2 338.7,877.8 336.9,871.9 342.5,868.1 337.4,863.4 334.9,855.3 333.6,848.4 331.1,839.4 328.1,831.8 324.8,823.8 318.4,820.7 310.8,821.7 303.2,821.7 299.4,816.4 295.6,809.7 303.2,805.1 293.1,796.7 290.6,793.0 303.2,779.7 310.8,765.1 323.5,740.2 361.5,724.8 399.5,710.0 419.8,730.8 432.4,749.0 445.1,757.3 429.9,772.6 431.2,786.5 426.1,804.0 422.3,813.1 427.4,819.6 424.8,829.8 426.1,839.4 421.0,844.0 417.2,850.2 419.8,856.9 416.0,862.6 419.3,869.6 412.2,866.5 407.1,870.4 412.2,871.9 418.5,874.1 416.0,878.5 409.6,884.1 403.3,886.9 397.0,887.6 393.2,891.6 389.4,898.1 384.3,901.8 379.2,903.7 374.7,906.1 372.9,912.0 372.6,918.8 369.1,923.2 367.6,928.6 366.1,933.7 364.0,935.7 M279.4,1103.9 280.9,1105.2 282.5,1102.7 284.0,1099.3 285.8,1097.5 289.3,1096.7 292.6,1094.9 294.4,1093.9 294.9,1095.5 293.6,1097.5 294.4,1099.6 295.6,1098.0 298.2,1096.2 298.2,1094.4 299.4,1096.2 302.0,1098.3 305.8,1098.5 309.6,1099.6 313.4,1099.1 317.2,1098.3 318.4,1100.1 321.0,1102.1 322.2,1103.9 326.0,1105.2 328.6,1108.0 331.1,1110.3 334.9,1110.6 338.7,1110.8 342.5,1112.8 345.0,1114.6 346.3,1117.4 348.3,1120.9 348.8,1123.5 347.6,1125.5 350.1,1126.0 352.6,1126.5 354.4,1127.0 359.0,1128.3 362.0,1130.1 364.0,1132.1 367.8,1132.6 371.6,1132.8 374.2,1132.6 378.0,1134.9 381.0,1137.1 384.3,1138.2 386.3,1138.9 387.1,1143.2 387.1,1146.3 385.6,1149.6 383.0,1152.5 380.5,1155.5 378.0,1158.7 376.7,1162.6 376.7,1166.5 376.2,1170.7 374.9,1174.4 373.7,1177.9 371.6,1181.7 369.4,1185.0 366.1,1185.3 362.3,1186.1 360.2,1187.5 357.7,1188.6 354.2,1190.8 352.6,1193.0 352.4,1196.4 352.1,1200.1 349.8,1203.0 348.1,1206.5 345.8,1210.1 343.3,1211.9 341.7,1214.9 340.0,1217.0 337.4,1219.1 334.9,1219.8 332.4,1219.4 329.6,1218.2 327.6,1216.7 327.3,1218.2 329.8,1220.1 330.6,1221.9 331.9,1224.4 330.3,1228.2 327.8,1230.8 323.5,1232.4 318.9,1232.4 317.7,1234.4 317.9,1238.0 314.6,1239.7 310.8,1239.0 310.8,1242.7 314.1,1243.4 314.1,1245.8 310.8,1246.1 310.1,1251.4 307.5,1253.9 304.5,1256.8 305.8,1259.7 308.8,1261.6 308.3,1264.9 304.5,1269.2 302.0,1272.7 300.7,1275.9 302.0,1281.2 299.4,1282.0 296.1,1283.2 295.6,1287.1 292.3,1286.2 289.3,1283.2 286.8,1281.2 285.5,1276.7 284.5,1271.9 284.0,1266.1 286.8,1263.4 284.2,1259.7 286.8,1256.0 289.3,1251.4 290.6,1246.1 291.1,1242.0 288.5,1241.0 288.8,1236.0 289.8,1231.1 289.0,1226.9 290.1,1225.4 291.3,1221.6 293.4,1217.0 294.1,1214.0 294.1,1208.0 294.6,1203.0 295.4,1199.3 296.1,1195.0 296.9,1190.8 296.9,1186.6 297.7,1181.2 297.7,1176.6 297.2,1172.8 294.6,1170.2 291.1,1168.1 287.5,1166.0 284.7,1164.4 282.2,1161.0 280.9,1157.4 278.9,1154.0 277.4,1150.9 276.1,1147.8 274.1,1144.5 272.8,1142.5 270.0,1140.7 269.5,1137.4 270.8,1135.1 272.8,1133.6 273.3,1131.6 271.1,1131.6 270.6,1128.5 272.1,1126.3 272.8,1123.7 275.4,1122.5 276.1,1120.4 278.4,1118.9 279.9,1116.1 279.2,1112.8 279.4,1109.0 278.4,1107.2 M301.7,1282.8 302.7,1285.4 304.5,1288.3 308.8,1291.4 310.3,1291.8 307.0,1293.1 303.2,1294.5 298.2,1294.0 294.4,1291.8 291.8,1289.2 295.6,1288.8 297.4,1286.2 296.9,1283.7 299.4,1282.8 301.7,1282.8 M321.0,1277.9 326.0,1277.1 329.1,1278.3 326.0,1281.2 321.0,1279.9 321.0,1277.9 M460.6,1028.5 462.1,1028.1 465.4,1030.3 467.9,1030.0 470.4,1030.6 474.0,1028.8 478.0,1026.6 483.1,1025.3 488.2,1025.3 493.2,1024.7 497.0,1025.0 500.3,1023.7 501.6,1025.0 503.4,1024.4 502.1,1026.6 502.4,1028.8 503.4,1030.9 501.3,1033.4 501.3,1034.9 503.9,1036.4 507.2,1037.6 508.9,1037.3 512.2,1038.5 514.0,1038.8 515.5,1041.5 518.6,1043.3 522.4,1044.8 524.9,1044.8 526.4,1043.0 526.2,1039.7 528.7,1037.6 531.2,1037.3 533.8,1038.2 536.3,1040.0 538.8,1041.2 542.6,1041.5 546.4,1043.0 549.0,1043.3 551.5,1042.4 554.0,1041.2 556.6,1041.8 557.3,1042.1 557.8,1045.9 558.1,1047.4 559.6,1050.9 561.1,1054.0 562.4,1057.4 564.2,1061.0 565.4,1063.5 566.7,1066.3 569.0,1068.5 569.7,1071.2 570.0,1075.0 571.3,1077.6 573.3,1079.2 574.8,1083.2 575.8,1085.8 578.1,1087.1 580.6,1089.7 583.2,1092.3 585.2,1093.6 584.9,1096.0 587.0,1098.8 589.5,1099.1 593.3,1098.0 597.1,1097.3 600.9,1096.5 605.2,1095.5 605.2,1099.1 604.2,1101.4 602.2,1104.7 600.1,1108.3 598.4,1111.8 595.8,1114.9 592.5,1118.4 589.5,1120.7 586.5,1123.2 583.7,1126.0 581.4,1128.8 579.4,1131.1 577.3,1132.6 576.1,1135.6 574.8,1138.2 573.8,1140.7 575.3,1143.0 575.3,1145.8 576.1,1149.6 577.8,1152.2 578.1,1155.5 578.1,1158.7 578.9,1162.6 578.4,1165.2 576.3,1167.8 573.0,1169.7 569.2,1171.5 566.2,1174.2 563.9,1176.6 564.7,1179.8 565.4,1183.4 565.4,1188.0 563.4,1190.3 559.1,1191.6 558.3,1193.6 558.8,1196.4 557.8,1200.7 555.3,1203.0 554.0,1204.8 552.0,1208.6 549.0,1211.6 546.2,1214.0 542.6,1216.4 540.4,1217.0 536.3,1217.3 531.7,1217.3 527.4,1218.5 526.2,1219.4 523.6,1218.2 522.1,1217.6 521.9,1214.0 521.1,1211.0 519.3,1206.5 518.1,1202.7 517.0,1200.7 515.0,1197.9 513.8,1195.3 513.0,1190.8 512.2,1186.6 512.2,1184.7 510.5,1181.2 508.9,1178.5 507.2,1174.4 505.4,1171.2 505.4,1167.0 506.4,1163.9 507.2,1159.9 509.4,1157.4 510.5,1153.5 509.7,1150.4 508.9,1147.8 507.9,1143.2 506.7,1140.7 505.9,1138.2 505.4,1137.4 503.4,1135.1 500.8,1132.6 499.1,1130.1 497.8,1127.3 499.3,1124.7 499.8,1121.7 500.3,1119.2 500.1,1117.2 499.8,1115.4 498.0,1113.9 496.3,1114.1 493.2,1114.4 490.7,1114.6 489.2,1112.3 486.9,1109.5 484.1,1109.3 480.6,1109.5 478.0,1110.6 475.5,1111.3 473.0,1112.6 470.4,1113.4 467.9,1112.6 465.4,1112.1 461.6,1112.6 459.0,1113.6 456.5,1114.4 454.0,1113.4 451.4,1111.6 448.1,1109.5 446.4,1108.0 443.8,1106.5 442.1,1103.9 441.8,1101.4 440.0,1100.1 438.0,1098.0 437.2,1097.0 435.5,1095.5 433.2,1093.9 433.2,1091.3 432.9,1089.7 431.2,1087.9 432.4,1085.8 433.7,1084.0 434.2,1080.6 435.0,1077.9 434.2,1075.2 433.7,1073.1 432.4,1071.5 432.7,1069.0 434.2,1065.7 435.5,1063.2 437.5,1060.2 438.8,1056.8 441.3,1053.7 442.8,1052.0 445.1,1051.4 447.6,1049.4 450.2,1047.4 451.2,1044.8 450.7,1041.8 451.9,1038.5 454.0,1036.1 456.2,1035.2 458.3,1034.0 459.8,1030.9 460.6,1028.5 M461.3,1027.8 459.5,1026.3 457.8,1024.1 455.2,1024.7 452.7,1024.7 453.2,1021.5 451.7,1019.2 452.7,1016.6 453.2,1014.3 453.5,1011.0 453.0,1007.6 451.9,1004.9 454.5,1003.1 457.8,1002.8 461.6,1002.8 465.9,1003.1 470.9,1003.5 471.7,1003.1 472.5,998.9 472.7,995.3 472.5,993.5 470.4,990.6 469.2,988.7 466.6,987.6 463.6,986.8 463.3,985.3 466.6,983.8 470.4,984.5 471.4,984.1 470.9,980.3 472.2,980.3 472.7,981.4 475.5,981.8 475.8,981.1 478.0,979.1 479.6,977.9 480.1,975.5 481.8,974.7 483.6,973.5 484.4,973.1 485.6,971.1 486.9,969.0 487.7,966.9 489.4,965.6 492.7,965.2 493.7,963.9 495.8,963.9 497.0,964.4 497.8,962.7 497.3,960.9 497.5,958.3 496.3,956.1 496.0,953.8 496.0,950.2 497.0,948.8 499.6,948.3 502.4,946.0 502.1,949.3 501.3,951.1 503.1,952.0 501.3,954.7 500.3,956.5 499.8,958.3 500.3,959.2 500.8,960.9 503.4,960.9 503.1,962.7 505.9,962.2 507.2,960.9 509.7,960.5 511.5,963.1 516.0,961.4 518.6,959.6 522.1,959.2 522.9,960.9 524.9,960.9 526.2,958.7 528.7,957.0 529.0,955.2 528.7,950.2 530.0,946.9 532.8,946.0 534.3,949.3 536.3,949.3 537.3,945.5 537.3,943.1 535.0,940.7 535.0,938.7 538.1,937.2 541.4,936.7 546.4,937.2 552.0,935.2 549.0,933.7 548.2,931.7 543.9,932.2 538.8,933.7 533.8,935.7 531.7,932.7 529.5,929.6 530.0,924.3 529.0,920.5 530.0,918.3 532.5,914.9 536.3,910.3 539.8,907.3 539.6,904.3 536.8,902.4 533.8,902.4 531.7,904.3 530.0,907.3 530.0,910.8 527.4,914.9 523.6,917.7 522.4,920.5 519.8,922.1 519.6,925.9 519.1,931.2 521.6,933.2 523.1,935.7 521.9,938.2 519.8,941.2 517.8,942.6 517.6,946.9 517.0,951.1 515.0,952.9 511.7,955.6 511.5,956.5 508.4,956.5 508.2,955.6 507.4,952.9 508.2,951.1 505.9,947.4 505.6,946.0 503.9,942.6 503.9,939.7 502.4,935.2 501.6,939.7 499.6,940.2 497.0,943.6 495.8,944.1 493.2,944.6 489.9,941.7 489.7,939.7 488.7,937.2 488.4,932.7 487.9,929.6 488.2,925.4 488.7,923.2 490.7,921.6 493.2,919.4 495.8,916.6 497.5,914.3 500.3,915.5 500.1,913.2 502.1,910.3 504.1,907.9 505.9,904.3 507.2,901.2 508.4,898.1 509.7,894.9 512.0,892.9 513.5,889.6 514.8,886.9 517.3,884.8 516.0,882.7 519.8,879.9 521.1,877.8 523.6,876.3 527.4,874.1 530.0,872.6 533.8,870.4 536.3,868.1 540.9,865.0 543.9,866.5 546.9,866.5 549.0,868.1 552.8,869.6 554.0,871.9 550.2,874.1 551.5,876.3 555.3,877.1 559.1,878.5 560.4,879.2 564.2,879.9 568.0,881.3 571.8,886.2 576.8,890.3 579.4,893.6 579.9,897.4 576.8,899.9 573.0,900.6 566.7,899.3 562.9,897.4 557.8,894.2 560.4,898.1 562.9,902.4 563.7,910.3 568.0,913.7 571.3,913.2 569.2,907.3 573.0,908.5 576.8,909.7 578.1,909.7 578.1,904.3 581.9,898.7 585.7,899.9 587.5,898.1 587.0,893.6 586.5,889.6 587.5,886.2 585.2,884.1 590.8,885.5 592.0,889.6 589.0,892.2 593.3,896.1 596.3,895.5 597.1,890.9 602.2,888.2 609.8,886.9 612.3,886.2 614.8,884.8 619.9,884.1 625.0,885.5 628.8,882.7 628.8,875.6 632.6,876.3 638.9,879.9 642.7,881.3 645.7,882.7 649.0,886.2 650.3,882.7 645.2,877.8 644.7,871.9 646.0,866.5 649.0,860.2 650.3,851.9 656.6,850.2 659.9,852.7 659.2,864.2 659.9,874.1 659.2,881.3 661.7,884.8 660.4,890.3 657.9,898.1 662.5,896.1 664.2,890.3 665.0,882.7 668.0,881.3 671.8,886.9 671.8,890.3 675.1,890.9 672.6,884.8 668.0,879.9 663.0,870.4 663.0,862.6 666.8,851.9 674.4,856.1 680.7,854.4 680.2,845.8 688.3,843.1 695.9,834.7 695.9,829.8 706.0,824.8 713.6,821.7 721.2,821.7 727.6,818.5 731.4,813.1 739.7,802.8 745.3,807.5 747.8,814.2 759.2,815.3 763.0,821.7 763.0,826.8 754.2,838.5 752.9,842.2 759.2,844.0 763.0,846.7 764.3,844.9 775.7,845.8 777.0,850.2 788.4,844.9 796.0,845.8 802.3,851.9 802.8,860.2 802.3,866.5 807.4,868.1 812.4,862.6 822.6,863.4 828.9,856.1 832.2,851.9 845.4,855.3 854.2,856.9 856.8,862.6 860.6,866.5 870.7,866.5 880.3,868.1 880.8,876.3 883.4,878.5 891.0,876.3 899.8,876.3 903.6,882.0 907.4,882.7 907.4,874.1 913.8,874.9 921.4,876.3 927.7,878.5 931.5,881.3 M19.5,881.3 25.8,886.2 32.2,891.6 39.8,894.9 45.6,900.6 43.6,903.7 38.5,904.3 39.3,910.8 36.7,911.4 30.9,908.5 29.1,904.9 23.3,904.3 20.8,901.2 19.5,907.3 M931.5,907.3 928.5,909.7 925.2,909.1 925.2,911.4 927.7,916.0 930.2,921.0 923.9,922.1 917.6,925.4 911.2,929.6 906.9,934.7 901.9,932.2 896.0,934.7 893.0,935.7 889.2,936.7 889.2,941.7 885.9,944.6 887.2,945.5 888.9,949.3 887.9,952.9 885.4,957.4 880.8,961.4 880.3,966.1 877.0,967.3 876.5,971.1 872.5,975.1 872.0,969.0 869.7,960.5 869.7,951.6 872.5,946.9 875.8,944.6 880.1,940.7 885.4,933.2 889.7,927.0 891.0,921.6 888.9,921.6 882.1,925.4 880.8,930.6 873.2,927.0 868.2,937.2 866.9,938.2 858.0,937.2 853.0,936.7 845.4,938.2 837.8,938.2 831.4,945.5 825.1,951.6 822.6,959.2 823.8,962.7 828.9,961.8 833.7,966.1 833.7,971.9 831.4,979.1 831.4,984.9 827.6,990.6 825.1,994.2 820.0,999.6 815.0,1004.9 809.9,1004.5 806.9,1006.9 804.1,1010.3 804.1,1012.3 798.7,1015.7 798.2,1017.6 800.8,1019.6 803.3,1024.7 803.6,1028.8 802.3,1030.6 798.5,1031.9 796.0,1032.8 795.5,1029.4 796.5,1025.6 796.2,1023.1 793.4,1022.5 792.2,1019.9 792.9,1016.6 790.6,1015.0 787.9,1015.7 783.5,1018.6 782.5,1016.6 785.1,1013.3 782.0,1012.0 778.2,1015.7 773.9,1018.3 775.2,1020.9 777.0,1022.8 780.8,1022.1 785.8,1023.4 786.1,1024.7 782.0,1026.3 780.3,1027.8 777.7,1030.9 779.0,1032.5 780.8,1035.5 784.1,1040.0 784.1,1043.0 784.3,1043.9 781.5,1044.8 784.6,1046.2 783.8,1050.3 781.3,1052.3 779.0,1056.5 778.5,1058.8 774.9,1061.6 771.9,1064.4 769.4,1066.0 764.8,1067.6 763.0,1067.9 759.2,1069.3 755.4,1070.6 754.7,1073.1 753.7,1072.5 753.4,1069.8 750.4,1069.3 747.8,1070.4 745.8,1072.0 743.5,1075.2 744.8,1079.2 747.3,1082.1 749.9,1084.5 751.9,1088.4 752.4,1092.9 752.1,1095.5 749.1,1098.0 746.6,1099.1 745.3,1101.1 742.3,1103.4 741.0,1103.7 741.5,1100.1 739.5,1098.8 736.9,1098.0 735.9,1095.5 733.9,1093.6 731.4,1093.1 730.1,1091.1 728.8,1091.6 728.8,1094.9 727.1,1098.0 726.8,1101.9 728.8,1103.9 730.1,1107.2 732.6,1108.3 735.2,1110.3 737.4,1113.4 737.4,1116.6 739.0,1119.7 739.5,1122.0 737.7,1122.2 735.2,1120.2 732.4,1118.4 730.6,1115.4 729.6,1111.6 729.3,1109.0 727.8,1107.8 725.5,1105.2 724.5,1105.2 724.5,1102.7 725.3,1098.8 725.5,1094.9 724.3,1091.1 723.3,1087.1 722.8,1083.7 720.7,1082.9 717.4,1085.0 714.4,1084.5 714.9,1080.6 713.6,1076.6 712.4,1073.9 710.6,1073.3 708.1,1067.6 704.8,1067.1 701.0,1069.0 698.9,1069.6 695.9,1070.4 695.4,1072.5 694.6,1073.9 692.9,1074.4 690.8,1075.8 688.3,1078.4 686.5,1080.0 684.0,1082.9 681.2,1084.5 678.9,1085.8 678.2,1089.7 678.9,1092.1 677.7,1096.2 677.7,1099.3 675.6,1101.9 673.6,1102.9 671.8,1105.0 669.3,1102.7 668.5,1100.1 667.3,1096.2 665.0,1092.6 663.7,1088.4 662.5,1085.8 661.2,1081.9 659.9,1076.6 659.7,1072.5 659.2,1069.8 659.4,1067.9 657.9,1070.6 654.9,1072.0 650.8,1069.0 650.3,1067.4 653.6,1065.7 650.3,1065.2 648.3,1063.8 646.2,1062.1 645.2,1060.7 644.2,1059.4 638.9,1059.4 632.6,1059.6 631.3,1059.9 625.0,1059.1 620.7,1058.0 619.9,1054.6 618.1,1054.3 614.3,1055.7 610.5,1054.6 608.5,1052.9 605.5,1051.1 604.2,1048.8 602.7,1045.9 599.6,1044.8 598.4,1045.9 597.1,1047.4 598.4,1050.3 599.6,1052.6 602.2,1055.4 602.7,1058.0 604.2,1058.8 605.2,1057.1 606.2,1059.6 605.5,1061.6 608.5,1062.4 612.3,1062.4 615.6,1059.4 617.6,1057.1 618.4,1056.5 618.4,1060.2 619.4,1062.4 624.0,1064.1 627.0,1067.1 626.2,1069.8 623.7,1072.8 621.9,1076.6 618.6,1079.2 615.6,1080.6 612.3,1081.9 607.7,1084.5 602.2,1087.1 598.9,1089.7 593.8,1091.3 589.5,1092.9 585.7,1093.1 584.9,1091.6 583.9,1087.7 583.7,1084.5 581.9,1080.6 579.9,1076.6 576.1,1072.5 574.6,1069.8 573.0,1065.7 570.5,1062.1 569.7,1059.6 568.0,1057.4 565.4,1053.1 563.7,1051.7 564.2,1047.4 562.9,1051.1 562.4,1052.3 560.6,1051.1 558.3,1046.5 557.3,1042.1 561.1,1042.7 562.4,1042.1 563.7,1039.4 564.2,1037.6 565.4,1034.3 566.4,1030.9 566.2,1029.4 567.0,1027.2 567.2,1025.3 565.4,1025.9 563.2,1025.3 560.9,1027.2 557.8,1027.5 553.3,1025.0 552.8,1026.9 550.2,1027.2 547.7,1025.6 544.9,1025.6 544.7,1023.1 542.6,1019.9 543.4,1017.3 541.9,1016.6 541.9,1015.0 542.9,1013.3 541.9,1014.3 541.4,1012.7 538.8,1012.0 536.3,1012.7 536.8,1014.3 535.0,1014.3 533.5,1013.3 532.8,1015.0 534.3,1017.6 533.8,1018.6 536.3,1020.9 535.5,1021.8 534.3,1021.8 534.3,1023.7 533.3,1025.3 533.8,1026.3 532.5,1026.3 531.7,1025.0 530.5,1025.3 529.5,1022.5 530.5,1020.9 528.7,1020.2 528.2,1018.3 526.7,1016.0 524.6,1013.7 524.6,1010.7 524.6,1008.6 522.4,1006.6 521.1,1005.9 517.0,1003.1 514.0,1000.7 513.2,997.8 512.0,996.8 510.7,998.5 510.0,996.0 510.2,995.3 506.7,996.8 506.7,999.6 507.4,1001.4 509.7,1002.8 511.0,1005.9 513.5,1008.3 516.5,1008.6 516.0,1010.3 518.6,1011.3 521.1,1013.0 522.4,1014.7 521.9,1015.7 520.8,1014.0 519.1,1013.3 517.6,1015.0 517.3,1016.3 518.8,1018.3 517.3,1019.9 516.3,1021.5 515.3,1021.5 515.8,1019.2 516.3,1016.6 515.3,1015.0 513.5,1014.3 513.0,1013.0 511.5,1012.3 510.2,1011.0 507.4,1010.3 506.4,1009.0 504.9,1007.3 503.4,1006.6 502.1,1004.9 501.6,1003.1 500.8,1001.4 500.3,1001.0 498.0,1000.0 496.3,1001.4 494.5,1002.1 494.0,1002.4 492.0,1004.2 490.7,1004.5 488.9,1003.8 486.9,1003.5 484.4,1003.8 483.1,1005.2 483.6,1007.3 483.1,1009.0 481.1,1010.3 478.0,1011.7 477.5,1012.7 476.0,1014.3 474.7,1016.6 476.0,1018.9 474.2,1020.5 473.7,1022.8 473.0,1022.8 470.9,1024.1 469.4,1025.3 466.6,1025.6 464.4,1025.6 462.1,1027.2 461.3,1027.8 M461.1,978.7 464.1,977.9 466.6,977.1 470.4,976.7 473.0,976.3 476.3,975.9 479.0,974.7 479.0,973.5 477.3,973.1 478.5,971.9 479.8,969.0 478.8,967.3 476.3,967.3 476.0,964.8 475.5,964.4 475.0,962.7 472.5,960.1 471.7,958.3 470.4,954.7 467.9,953.8 468.9,952.5 470.4,949.3 470.9,946.9 466.6,946.0 464.9,946.9 467.4,943.1 467.9,941.7 462.8,941.7 461.6,945.5 460.8,949.3 459.8,950.7 461.6,952.9 461.1,957.0 463.3,954.7 463.3,958.3 462.6,959.2 466.6,958.7 466.4,960.5 467.9,962.7 467.9,965.2 464.6,965.6 463.8,965.6 464.1,967.8 465.1,969.0 463.6,971.1 462.1,971.5 464.9,972.7 467.4,973.5 468.7,973.1 466.6,974.3 464.6,974.3 463.8,975.9 462.6,977.9 461.1,978.7 M459.3,970.2 460.0,965.6 459.8,962.7 461.3,960.1 459.8,957.4 456.8,956.5 454.5,957.9 453.7,960.1 454.0,961.4 450.2,961.8 450.4,964.8 452.7,966.1 451.4,967.8 450.7,969.0 449.2,970.7 449.9,972.3 450.7,973.1 454.5,971.9 457.8,970.7 459.3,970.2 M418.0,914.3 419.8,911.4 414.7,908.5 419.8,906.7 413.4,904.3 417.2,898.7 421.0,904.3 424.8,900.6 429.9,900.6 434.5,898.1 438.3,899.3 441.0,904.3 440.8,907.9 437.5,911.4 433.7,914.3 428.1,916.6 424.1,916.0 418.0,914.3 M503.4,779.7 509.7,799.2 511.0,805.1 517.3,815.3 519.8,810.9 522.4,805.1 528.7,796.7 523.6,786.5 521.1,775.5 511.0,775.5 503.4,779.7 M606.0,862.6 607.2,868.1 614.8,869.6 621.2,869.6 617.4,862.6 616.1,854.4 617.4,847.6 622.4,839.4 627.5,831.8 637.6,823.8 649.0,814.2 642.7,808.6 632.6,819.6 622.4,828.8 616.1,835.7 612.3,847.6 608.5,856.1 606.0,862.6 M822.6,828.8 830.2,820.7 840.3,823.8 845.4,828.8 855.5,829.8 853.0,833.7 837.8,832.8 827.6,834.7 822.6,828.8 M830.2,846.7 837.8,848.4 839.0,844.9 832.7,841.3 830.2,846.7 M928.2,866.5 931.5,862.6 M19.5,862.6 25.8,865.0 22.0,867.3 19.5,867.3 M807.1,1034.0 811.2,1029.7 815.0,1029.1 820.0,1028.8 822.1,1025.0 823.3,1023.1 822.6,1025.3 826.4,1023.4 827.6,1021.5 829.7,1018.3 830.2,1015.0 830.2,1012.7 830.9,1011.0 833.7,1010.3 834.7,1014.3 835.2,1016.6 834.0,1020.5 832.7,1021.5 832.7,1024.7 831.7,1026.9 832.4,1028.8 830.9,1030.6 829.7,1030.9 829.7,1029.4 829.1,1030.3 827.6,1031.9 826.4,1030.9 825.6,1032.2 822.6,1032.2 822.3,1033.1 820.0,1035.5 818.0,1034.6 818.3,1032.2 816.2,1031.9 813.7,1032.8 810.7,1033.4 807.4,1034.3 807.1,1034.0 M807.1,1034.3 809.1,1035.2 809.9,1037.6 808.4,1041.5 806.6,1042.7 805.3,1042.1 805.3,1039.1 804.3,1037.9 804.1,1036.1 805.8,1035.2 807.1,1034.3 M811.2,1034.6 815.0,1033.1 816.7,1034.6 815.5,1036.1 812.4,1037.6 810.9,1036.1 811.2,1034.6 M830.9,1010.0 830.2,1006.6 831.4,1004.2 833.5,1003.8 834.5,999.6 835.0,996.0 837.8,999.6 841.1,1001.0 843.6,1000.3 844.1,1003.1 844.9,1003.8 841.6,1005.2 838.5,1008.3 834.7,1006.2 832.7,1006.6 831.9,1007.6 832.9,1009.0 830.9,1010.0 M835.2,994.2 834.7,990.6 835.2,986.8 835.7,981.1 834.7,975.1 834.7,969.0 836.5,963.5 837.3,961.4 838.5,966.9 838.3,973.1 840.3,981.1 837.8,982.2 836.7,986.8 837.3,989.8 839.0,991.3 839.0,993.5 837.0,992.0 835.2,994.2 M783.3,1059.4 784.3,1060.2 783.3,1063.0 781.8,1068.5 780.0,1066.0 780.0,1063.5 782.0,1060.2 783.3,1059.4 M755.4,1073.9 756.7,1075.0 755.2,1077.4 752.9,1078.7 750.9,1077.1 750.9,1075.2 752.9,1073.9 755.4,1073.9 M781.0,1077.9 785.1,1077.9 785.1,1081.9 783.3,1084.5 783.5,1088.4 785.8,1089.2 789.6,1090.3 789.1,1092.6 787.1,1091.1 784.1,1090.5 781.3,1090.3 781.0,1088.4 779.5,1087.1 779.0,1083.7 780.5,1082.9 780.5,1080.6 781.0,1077.9 M793.4,1100.6 795.7,1103.9 796.0,1107.8 794.7,1109.5 793.2,1110.3 793.4,1107.8 790.1,1109.8 789.6,1107.2 788.1,1106.5 784.8,1107.8 784.6,1105.2 787.9,1103.7 790.4,1103.7 791.7,1102.7 793.4,1100.6 M790.4,1093.6 792.9,1093.6 793.9,1097.0 792.2,1099.6 790.9,1098.0 791.1,1096.2 790.4,1093.6 M784.6,1095.5 787.3,1096.2 788.1,1098.8 787.1,1102.1 785.8,1100.6 784.6,1098.8 784.6,1095.5 M772.4,1104.2 775.7,1101.9 778.2,1096.7 777.5,1099.6 774.4,1102.9 772.4,1104.2 M753.1,1120.4 754.9,1121.2 757.5,1118.9 761.8,1117.4 764.3,1114.1 766.8,1112.8 769.4,1109.5 771.4,1107.8 773.7,1109.3 775.7,1111.6 777.5,1112.6 774.9,1114.4 773.4,1114.9 773.9,1117.9 774.4,1119.9 777.0,1123.0 774.2,1123.5 773.2,1125.5 773.2,1127.5 770.9,1129.3 770.1,1131.8 769.4,1134.6 766.1,1135.9 765.6,1134.4 763.0,1133.8 759.2,1134.1 758.0,1133.1 754.7,1132.8 754.2,1129.3 752.1,1127.5 751.9,1124.7 751.4,1123.0 753.1,1120.4 M716.9,1111.3 721.2,1112.3 723.8,1114.6 726.3,1116.6 729.8,1119.7 732.6,1120.9 736.4,1124.0 738.5,1126.0 740.2,1130.1 744.0,1132.6 744.0,1133.8 743.5,1136.4 743.5,1140.2 740.5,1140.2 739.7,1138.7 734.7,1135.6 731.4,1132.1 729.6,1128.0 726.3,1124.7 725.5,1121.2 723.0,1119.4 720.0,1116.1 717.2,1112.8 716.9,1111.3 M742.0,1142.7 744.0,1140.4 746.6,1140.4 750.4,1142.0 755.4,1142.7 756.7,1141.7 760.7,1143.0 765.3,1145.3 765.6,1147.6 761.8,1146.6 758.0,1146.6 752.9,1145.3 749.1,1145.3 745.3,1144.3 742.0,1142.7 M766.8,1146.3 769.4,1146.6 771.9,1146.8 777.0,1146.8 779.5,1146.6 786.6,1146.6 786.6,1147.8 779.5,1147.8 777.0,1147.8 771.9,1148.3 769.4,1148.1 766.8,1147.6 766.8,1146.3 M777.0,1149.6 781.5,1150.9 779.5,1151.7 777.0,1149.6 M788.4,1151.7 792.2,1148.3 797.2,1146.8 796.0,1148.3 790.9,1151.4 788.4,1151.7 M778.2,1139.4 778.2,1134.4 776.5,1132.6 777.7,1128.5 779.0,1125.5 779.5,1123.5 781.5,1122.2 785.8,1123.0 789.6,1123.2 792.2,1121.5 790.9,1124.5 787.1,1124.2 782.0,1124.2 780.0,1125.5 780.0,1127.8 783.3,1127.8 787.6,1127.8 785.1,1129.5 783.3,1130.3 785.3,1133.1 786.6,1135.6 785.8,1137.1 783.3,1137.1 782.0,1134.4 781.8,1132.3 780.3,1133.1 780.5,1136.9 780.5,1139.4 778.2,1139.4 M798.5,1120.4 799.8,1123.0 801.5,1121.7 799.8,1124.5 800.8,1127.5 799.0,1125.5 798.5,1120.4 M799.8,1133.6 803.6,1132.6 806.9,1133.8 803.6,1134.4 799.8,1133.6 M807.4,1127.5 811.2,1126.5 815.0,1127.5 815.5,1131.6 817.5,1133.8 821.3,1131.1 825.1,1129.5 830.2,1131.3 834.0,1132.1 837.8,1134.1 841.6,1135.1 844.9,1138.2 848.4,1140.4 849.9,1142.5 847.9,1142.7 849.2,1145.0 851.7,1148.3 855.5,1151.2 857.3,1152.2 854.2,1151.9 850.4,1151.2 847.9,1149.6 845.4,1146.0 842.3,1145.0 839.0,1146.3 837.8,1148.9 835.2,1148.9 832.7,1148.6 828.9,1146.0 826.4,1146.6 824.6,1144.5 827.1,1143.8 826.4,1142.0 825.1,1139.4 820.0,1137.1 816.2,1135.6 812.4,1135.6 811.9,1133.8 809.9,1132.8 813.7,1131.8 811.2,1131.1 807.4,1129.0 807.4,1127.5 M851.2,1139.4 855.5,1139.4 859.3,1136.1 861.3,1136.4 859.3,1139.4 855.5,1141.5 851.2,1139.4 M857.5,1132.1 861.8,1135.1 863.1,1137.4 860.6,1134.4 857.5,1132.1 M867.4,1139.4 870.2,1142.7 868.2,1141.5 867.4,1139.4 M879.6,1149.1 882.9,1150.4 880.8,1150.4 879.6,1149.1 M836.5,1152.7 839.0,1157.4 839.8,1162.6 843.6,1165.2 844.9,1169.1 847.4,1175.2 851.7,1177.7 853.5,1180.4 857.3,1183.9 857.5,1186.6 861.8,1190.8 863.6,1192.2 863.6,1197.9 864.6,1201.3 863.1,1206.5 861.8,1212.5 858.8,1216.7 857.3,1220.7 855.5,1225.7 855.5,1227.9 850.4,1229.2 846.4,1233.1 842.8,1229.5 841.6,1230.5 839.0,1232.1 834.0,1230.5 831.4,1229.5 829.4,1226.3 828.9,1223.2 826.4,1221.6 826.4,1219.4 825.1,1214.0 824.6,1212.8 822.6,1216.1 820.0,1219.1 819.5,1219.8 818.0,1218.5 815.5,1214.0 813.7,1211.6 808.6,1209.5 802.3,1209.8 794.7,1211.9 789.6,1214.0 788.4,1216.7 784.6,1216.7 779.5,1216.7 774.4,1220.1 767.1,1218.2 766.8,1215.8 768.6,1211.0 766.8,1206.5 765.8,1201.6 764.8,1197.9 762.3,1193.6 763.3,1189.4 763.8,1183.9 764.3,1182.0 767.1,1181.4 771.4,1178.7 775.9,1177.9 779.5,1176.9 783.3,1174.4 785.1,1171.8 785.3,1169.1 788.4,1169.9 788.6,1167.8 790.9,1165.2 793.4,1162.6 796.7,1160.7 799.8,1163.3 803.6,1163.6 804.3,1159.9 806.9,1157.1 809.9,1156.6 811.4,1154.5 817.5,1156.6 821.3,1156.1 822.1,1156.8 819.8,1159.9 820.0,1163.9 823.8,1166.5 827.6,1169.1 831.4,1170.7 832.7,1167.8 834.2,1162.6 834.2,1158.1 835.2,1154.8 836.5,1152.7 M842.1,1238.3 846.6,1239.7 851.2,1239.0 851.2,1243.4 849.9,1246.8 847.4,1248.2 845.4,1247.9 843.3,1244.4 842.1,1241.0 842.1,1238.3 M913.0,1218.2 915.0,1220.1 917.1,1221.0 918.3,1224.7 920.1,1225.7 921.1,1227.9 923.9,1229.5 927.2,1228.5 927.7,1231.1 926.2,1233.4 923.9,1234.4 923.6,1237.7 920.1,1241.4 918.1,1240.3 919.3,1236.7 916.3,1234.4 915.8,1233.7 917.8,1232.1 918.1,1227.9 916.8,1224.7 913.8,1220.7 913.0,1218.2 M913.0,1237.7 915.8,1239.0 917.1,1241.7 915.5,1244.4 913.3,1247.9 913.8,1249.3 909.5,1250.7 908.2,1256.4 904.9,1259.0 901.9,1259.0 897.3,1256.8 898.1,1253.9 901.1,1250.3 904.9,1247.5 909.2,1243.7 911.2,1238.7 913.0,1237.7 M891.0,1177.4 894.8,1179.8 898.6,1183.4 896.0,1182.5 892.2,1179.8 891.0,1177.4 M924.7,1170.2 927.9,1170.7 927.4,1172.3 924.7,1172.0 924.7,1170.2 M600.4,1156.1 603.4,1164.6 601.7,1166.5 600.6,1171.8 598.4,1178.5 596.6,1185.3 595.1,1190.5 590.8,1192.2 587.0,1190.8 585.7,1186.6 585.2,1182.5 587.7,1178.5 587.0,1174.4 587.7,1169.1 588.2,1167.0 592.8,1165.7 595.8,1163.3 597.1,1159.9 599.1,1157.4 600.4,1156.1 M678.2,1100.6 681.2,1103.9 683.0,1107.0 682.0,1109.5 679.4,1110.6 677.9,1109.0 677.7,1105.2 678.2,1100.6 M260.4,1068.7 265.2,1065.7 270.3,1065.5 274.1,1066.5 279.2,1069.0 283.7,1071.5 287.5,1073.3 285.5,1074.1 278.7,1074.1 279.9,1072.3 276.6,1071.2 272.8,1069.3 268.3,1067.9 265.2,1068.5 260.4,1068.7 M287.0,1078.2 290.6,1074.1 293.9,1074.4 298.2,1074.7 302.0,1077.6 301.5,1078.7 296.9,1078.7 294.4,1080.0 291.1,1078.7 287.0,1078.2 M277.1,1078.4 282.2,1079.0 280.4,1079.8 277.1,1078.4 M305.3,1078.2 309.1,1078.4 308.3,1079.5 305.3,1079.2 305.3,1078.2 M325.3,987.9 327.8,983.0 329.8,976.3 333.6,973.1 334.9,974.3 332.4,979.1 334.9,979.9 338.7,981.1 340.0,984.9 342.0,988.7 340.0,991.7 334.9,990.9 333.6,988.3 328.6,987.9 325.3,987.9 M312.1,979.5 318.4,981.4 318.9,982.6 314.6,981.8 312.1,979.5 M312.6,991.3 318.4,992.8 316.4,994.2 312.6,991.3 M150.5,975.9 157.6,978.3 162.6,984.9 159.3,984.5 155.0,981.1 150.5,975.9 M138.6,962.2 141.6,962.7 143.1,970.2 139.8,966.9 138.6,962.2 M84.1,946.9 89.2,944.6 89.7,947.9 85.4,950.2 84.1,946.9 M40.5,916.0 44.8,915.5 47.9,917.7 43.6,918.3 40.5,916.0 M51.9,933.7 55.7,933.2 55.0,935.7 51.9,933.7 M49.9,965.6 53.7,962.7 52.9,964.8 49.9,965.6 M25.8,972.3 29.1,971.1 28.4,972.3 25.8,972.3 M80.3,1073.3 82.8,1075.0 81.1,1076.8 80.3,1075.0 80.3,1073.3 M507.2,1021.5 514.8,1020.9 513.8,1025.6 507.2,1022.8 507.2,1021.5 M496.3,1011.7 499.6,1011.0 500.1,1016.6 498.3,1018.3 496.8,1017.6 496.3,1011.7 M497.3,1006.6 499.3,1004.9 499.6,1008.3 498.8,1010.3 497.3,1006.6 M535.0,1029.4 542.1,1030.3 536.3,1030.9 535.0,1029.4 M557.3,1030.9 562.9,1029.1 561.4,1030.9 559.1,1032.2 557.3,1030.9 M481.6,1016.3 483.6,1015.3 483.6,1017.0 481.6,1016.3 M503.9,955.2 507.2,953.8 506.9,957.4 504.6,957.4 503.9,955.2 M521.6,949.3 523.6,945.0 523.1,947.9 521.6,949.3 M649.8,1268.0 654.1,1268.8 652.3,1270.3 649.8,1268.0 M610.5,1093.4 613.6,1093.6 611.0,1094.2 610.5,1093.4 M312.1,927.0 308.3,924.3 302.0,914.9 309.6,919.9 312.1,917.2 309.6,910.3 304.5,903.7 305.8,899.3 310.8,904.3 314.6,907.3 319.7,899.3 318.4,894.9 314.6,891.6 310.8,889.6 307.0,886.9 303.2,882.7 304.5,877.8 302.0,871.9 296.9,868.1 293.1,863.4 288.0,861.0 284.2,856.1 280.4,852.7 276.6,848.4 272.8,844.0 270.3,843.1 265.2,844.0 260.2,843.1 257.6,850.2 261.4,858.6 257.6,858.6 250.0,847.6 247.5,854.4 250.0,866.5 252.6,870.4 257.6,871.9 260.2,874.1 267.8,874.9 275.4,874.1 277.9,877.8 283.0,881.3 289.3,886.2 290.6,892.9 292.3,898.1 288.0,904.3 289.3,909.7 283.0,907.3 277.9,907.3 277.9,911.4 283.0,911.4 288.0,910.8 293.1,914.3 298.2,919.9 303.2,923.2 308.3,924.8 312.1,927.0 M209.5,884.8 218.4,881.3 217.1,874.1 212.0,866.5 209.5,854.4 201.9,848.4 196.8,851.9 191.8,854.4 185.4,847.6 176.6,854.4 174.0,862.6 177.8,869.6 186.7,871.9 179.1,875.6 181.6,879.9 188.0,884.1 196.8,884.1 203.2,882.0 209.5,884.8 M157.6,859.4 163.4,865.8 170.2,862.6 176.6,854.4 181.6,847.6 177.8,839.4 169.0,836.6 160.1,839.4 161.4,850.2 157.6,859.4 M255.1,907.3 260.2,902.4 265.2,907.3 271.6,913.2 269.0,916.0 258.9,917.7 255.1,913.2 255.1,907.3 M223.4,879.9 228.5,875.6 233.6,879.2 232.3,884.1 227.2,884.1 223.4,879.9 M217.1,851.9 222.2,843.1 228.5,847.6 231.0,854.4 227.2,863.4 220.9,860.2 217.1,851.9 M233.6,858.6 233.6,845.8 239.9,840.3 246.2,843.1 242.4,851.9 238.6,858.6 233.6,858.6 M242.4,816.4 250.0,813.1 262.7,817.5 272.8,826.8 271.6,835.7 260.2,836.6 247.5,835.7 241.2,831.8 242.4,816.4 M217.1,816.4 224.7,814.2 228.5,826.8 224.7,831.8 219.6,826.8 217.1,816.4 M232.3,827.8 237.4,826.8 238.6,833.7 233.6,834.7 232.3,827.8 M179.1,823.8 189.2,818.5 199.4,814.2 207.0,821.7 207.0,831.8 199.4,833.7 191.8,836.6 186.7,831.8 179.1,823.8 M163.9,818.5 171.5,809.7 181.6,805.1 176.6,816.4 171.5,821.7 163.9,818.5 M250.0,816.4 260.2,805.1 277.9,810.9 283.0,799.2 285.5,779.7 298.2,765.1 318.4,730.8 285.5,720.8 247.5,749.0 242.4,772.6 252.6,793.0 250.0,816.4 M267.8,966.5 271.6,967.8 269.0,968.6 267.8,966.5 M271.6,922.7 274.1,924.3 272.8,926.4 271.6,922.7 M265.2,919.9 269.0,919.4 267.8,922.7 265.2,919.9 M272.8,950.2 275.4,952.9 274.1,954.7 272.8,950.2 M19.5,1451.8 44.8,1458.0 70.2,1451.8 82.8,1443.5 95.5,1434.6 105.6,1424.2 120.8,1421.2 133.5,1415.3 146.2,1412.5 158.8,1407.0 171.5,1408.8 184.2,1411.6 196.8,1416.3 209.5,1417.3 217.1,1405.2 222.2,1394.9 229.8,1392.4 234.8,1400.8 247.5,1400.0 260.2,1402.6 272.8,1402.6 280.4,1399.1 290.6,1394.1 295.6,1380.6 291.8,1373.2 298.2,1366.2 303.2,1359.4 308.3,1349.8 312.1,1343.7 317.2,1340.7 323.5,1336.7 331.1,1333.8 329.8,1337.8 324.8,1341.3 322.2,1346.7 318.4,1352.9 312.1,1362.8 315.9,1369.7 318.4,1376.9 321.0,1392.4 322.2,1409.7 318.4,1424.2 310.8,1434.6 298.2,1445.9 323.5,1458.0 361.5,1454.3 369.1,1442.4 376.7,1432.5 384.3,1424.2 399.5,1413.4 409.6,1407.9 415.7,1404.3 424.8,1398.3 431.7,1394.1 440.0,1388.4 447.4,1382.1 455.2,1381.4 462.8,1382.9 467.9,1380.6 475.5,1375.4 483.1,1378.4 490.7,1376.9 500.8,1376.9 508.4,1373.9 516.0,1376.1 526.2,1376.9 538.8,1378.4 546.4,1375.4 551.5,1371.8 559.1,1367.6 562.9,1373.2 571.8,1375.4 576.8,1368.3 583.2,1364.1 589.5,1360.7 597.1,1356.1 602.2,1352.9 609.8,1349.2 614.8,1349.8 619.9,1354.9 627.5,1359.4 635.1,1360.1 640.2,1361.4 647.8,1362.8 652.8,1367.6 657.9,1374.7 663.0,1374.7 668.0,1371.8 673.1,1366.2 678.2,1361.4 685.8,1357.4 690.8,1354.9 698.4,1354.2 703.5,1354.9 708.6,1352.9 716.2,1353.6 723.8,1349.8 728.8,1349.8 733.9,1348.6 741.5,1352.9 749.1,1354.9 754.2,1351.7 761.8,1348.6 766.8,1354.2 774.4,1356.1 779.5,1354.9 787.1,1352.9 792.2,1351.7 799.8,1356.1 804.8,1349.8 812.4,1351.1 817.5,1349.8 825.1,1352.3 830.2,1354.2 837.8,1355.5 842.8,1357.4 847.9,1361.4 855.5,1364.8 863.1,1366.9 868.2,1369.7 875.8,1373.2 880.8,1376.9 888.4,1380.6 893.5,1382.1 901.1,1384.5 907.4,1386.8 906.2,1392.4 903.6,1400.8 898.6,1409.7 893.5,1419.2 889.7,1429.3 888.4,1440.1 893.5,1447.0 898.6,1449.4 906.2,1448.2 918.8,1451.8 931.5,1451.8" stroke="#9a9a9a" stroke-width="1" fill="none" stroke-linejoin="round"/>
<path d="M20,1376.5H932 M20,1316.5H932 M20,1271.5H932 M20,1236.5H932 M20,1205.5H932 M20,1177.5H932 M20,1150.5H932 M20,1100.5H932 M20,1073.5H932 M20,1045.5H932 M20,1014.5H932 M20,979.5H932 M20,934.5H932 M20,874.5H932" stroke="#000" stroke-width="1" stroke-dasharray="2 3" shape-rendering="crispEdges"/>
<path d="M21,874V1377 M95,874V1377 M171,874V1377 M247,874V1377 M323,874V1377 M399,874V1377 M475,874V1377 M551,874V1377 M627,874V1377 M703,874V1377 M779,874V1377 M855,874V1377 M931,874V1377" stroke="#000" stroke-width="2" stroke-dasharray="1 4" shape-rendering="crispEdges"/>
<path d="M747.7,1380.6 L751.7,1380.7 L755.6,1380.9 L759.6,1381.1 L763.5,1381.5 L767.5,1382.0 L771.4,1382.6 L775.4,1383.3 L779.4,1384.0 L783.3,1384.9 L787.3,1386.0 L791.2,1387.1 L795.2,1388.3 L799.1,1389.6 L803.1,1391.1 L807.0,1392.7 L811.0,1394.3 L814.9,1396.2 L818.9,1398.1 L822.8,1400.2 L826.8,1402.3 L830.8,1404.7 L834.7,1407.1 L838.7,1409.7 L842.7,1412.5 L846.6,1415.4 L850.6,1418.5 L854.6,1421.7 L858.5,1425.1 L862.5,1428.7 L866.5,1432.5 L870.5,1436.4 L874.5,1440.6 L878.6,1445.0 L882.6,1449.7 L886.6,1454.6 L890.7,1459.8 L894.8,1465.2 L898.9,1471.0 L903.0,1477.1 L907.1,1483.6 L911.3,1490.4 L915.6,1497.7 L919.8,1505.5 L924.2,1513.9 L928.6,1522.8 L931.5,1529.0 M19.5,1529.0 L21.1,1532.4 L25.7,1542.8 L30.4,1554.1 L35.3,1566.5 L40.4,1580.1 L45.8,1595.1 L51.6,1612.0 L58.0,1631.3 L65.3,1653.4 L74.0,1679.6 L85.1,1711.4 L100.9,1751.4 L127.7,1753.5 L186.0,1753.5 L316.0,1753.5 L421.8,1753.5 L465.4,1753.5 L487.3,1736.9 L501.1,1700.0 L511.3,1670.4 L519.4,1645.7 L526.3,1624.6 L532.5,1606.2 L538.2,1589.9 L543.5,1575.4 L548.5,1562.2 L553.4,1550.3 L558.0,1539.3 L562.6,1529.1 L567.0,1519.8 L571.4,1511.0 L575.7,1502.9 L580.0,1495.3 L584.2,1488.1 L588.4,1481.4 L592.5,1475.0 L596.6,1469.0 L600.7,1463.4 L604.8,1458.0 L608.9,1452.9 L612.9,1448.1 L616.9,1443.6 L620.9,1439.2 L624.9,1435.1 L628.9,1431.2 L632.9,1427.5 L636.9,1424.0 L640.9,1420.6 L644.9,1417.4 L648.8,1414.4 L652.8,1411.6 L656.8,1408.9 L660.7,1406.3 L664.7,1403.9 L668.7,1401.6 L672.6,1399.4 L676.6,1397.4 L680.5,1395.5 L684.5,1393.8 L688.4,1392.1 L692.4,1390.6 L696.3,1389.2 L700.3,1387.9 L704.2,1386.7 L708.2,1385.6 L712.1,1384.6 L716.1,1383.8 L720.1,1383.0 L724.0,1382.4 L728.0,1381.8 L731.9,1381.4 L735.9,1381.0 L739.8,1380.8 L743.8,1380.7 L747.7,1380.6 M747.9,1318.8 L753.2,1318.9 L758.5,1319.0 L763.8,1319.3 L769.1,1319.6 L774.4,1320.0 L779.7,1320.6 L785.0,1321.2 L790.3,1321.9 L795.6,1322.7 L801.0,1323.6 L806.3,1324.6 L811.7,1325.7 L817.1,1326.9 L822.5,1328.2 L827.9,1329.6 L833.4,1331.0 L838.9,1332.6 L844.4,1334.3 L850.0,1336.1 L855.6,1338.0 L861.2,1340.0 L866.9,1342.1 L872.6,1344.3 L878.3,1346.6 L884.2,1349.0 L890.0,1351.6 L896.0,1354.2 L902.0,1357.0 L908.1,1359.9 L914.3,1362.9 L920.6,1366.0 L927.0,1369.2 L931.5,1371.5 M19.5,1371.5 L21.5,1372.6 L28.1,1376.1 L34.8,1379.6 L41.7,1383.4 L48.8,1387.2 L56.0,1391.2 L63.4,1395.2 L71.0,1399.4 L78.8,1403.7 L86.9,1408.1 L95.3,1412.5 L103.9,1417.1 L112.8,1421.7 L122.1,1426.4 L131.7,1431.0 L141.7,1435.7 L152.1,1440.3 L163.0,1444.8 L174.3,1449.1 L186.0,1453.3 L198.2,1457.1 L210.8,1460.7 L223.9,1463.8 L237.3,1466.5 L251.0,1468.6 L265.0,1470.2 L279.2,1471.1 L293.5,1471.3 L307.7,1470.8 L321.8,1469.7 L335.7,1468.0 L349.4,1465.7 L362.7,1462.8 L375.6,1459.5 L388.1,1455.9 L400.1,1451.9 L411.7,1447.7 L422.8,1443.3 L433.5,1438.7 L443.8,1434.1 L453.7,1429.5 L463.2,1424.8 L472.4,1420.2 L481.2,1415.6 L489.7,1411.0 L498.0,1406.6 L505.9,1402.3 L513.7,1398.0 L521.2,1393.9 L528.6,1389.8 L535.7,1385.9 L542.7,1382.1 L549.6,1378.4 L556.3,1374.9 L562.9,1371.4 L569.3,1368.1 L575.7,1364.9 L581.9,1361.9 L588.1,1358.9 L594.1,1356.1 L600.1,1353.3 L606.1,1350.7 L611.9,1348.2 L617.7,1345.8 L623.5,1343.6 L629.2,1341.4 L634.8,1339.3 L640.5,1337.4 L646.0,1335.5 L651.6,1333.7 L657.1,1332.1 L662.6,1330.5 L668.0,1329.1 L673.4,1327.7 L678.8,1326.5 L684.2,1325.3 L689.6,1324.3 L694.9,1323.3 L700.3,1322.4 L705.6,1321.7 L710.9,1321.0 L716.2,1320.4 L721.5,1319.9 L726.8,1319.5 L732.1,1319.2 L737.4,1319.0 L742.7,1318.8 L747.9,1318.8 M748.1,1273.9 L754.0,1273.9 L760.0,1274.1 L766.0,1274.3 L772.0,1274.6 L778.0,1275.0 L784.0,1275.4 L790.0,1276.0 L796.0,1276.6 L802.0,1277.3 L808.1,1278.1 L814.1,1278.9 L820.2,1279.9 L826.3,1280.9 L832.4,1282.0 L838.6,1283.2 L844.8,1284.4 L851.0,1285.8 L857.2,1287.2 L863.5,1288.7 L869.8,1290.2 L876.1,1291.9 L882.5,1293.6 L889.0,1295.4 L895.5,1297.3 L902.0,1299.2 L908.7,1301.3 L915.3,1303.4 L922.1,1305.5 L928.9,1307.7 L931.5,1308.6 M19.5,1308.6 L23.8,1310.0 L30.8,1312.4 L37.9,1314.8 L45.1,1317.3 L52.3,1319.8 L59.7,1322.4 L67.2,1325.0 L74.8,1327.7 L82.6,1330.3 L90.5,1333.1 L98.5,1335.8 L106.7,1338.5 L115.1,1341.3 L123.6,1344.0 L132.2,1346.7 L141.1,1349.3 L150.1,1351.9 L159.3,1354.5 L168.7,1356.9 L178.2,1359.3 L188.0,1361.5 L197.9,1363.6 L208.0,1365.5 L218.2,1367.3 L228.6,1368.8 L239.1,1370.2 L249.7,1371.3 L260.4,1372.2 L271.2,1372.8 L282.0,1373.1 L292.9,1373.2 L303.7,1373.0 L314.5,1372.6 L325.3,1371.9 L336.0,1370.9 L346.6,1369.8 L357.0,1368.3 L367.4,1366.7 L377.6,1364.9 L387.6,1362.9 L397.4,1360.8 L407.1,1358.5 L416.6,1356.1 L425.9,1353.6 L435.1,1351.1 L444.0,1348.5 L452.8,1345.8 L461.5,1343.1 L469.9,1340.3 L478.2,1337.6 L486.3,1334.9 L494.3,1332.1 L502.1,1329.4 L509.9,1326.8 L517.4,1324.1 L524.9,1321.5 L532.3,1319.0 L539.5,1316.4 L546.6,1314.0 L553.7,1311.6 L560.6,1309.3 L567.5,1307.0 L574.3,1304.8 L581.0,1302.6 L587.7,1300.6 L594.3,1298.6 L600.8,1296.7 L607.3,1294.8 L613.7,1293.0 L620.1,1291.3 L626.5,1289.7 L632.8,1288.2 L639.0,1286.7 L645.2,1285.3 L651.4,1284.0 L657.6,1282.8 L663.7,1281.6 L669.9,1280.5 L676.0,1279.5 L682.0,1278.6 L688.1,1277.8 L694.1,1277.0 L700.2,1276.4 L706.2,1275.8 L712.2,1275.3 L718.2,1274.8 L724.2,1274.5 L730.1,1274.2 L736.1,1274.0 L742.1,1273.9 L748.1,1273.9 M748.1,1237.7 L754.6,1237.7 L761.0,1237.8 L767.4,1238.0 L773.9,1238.3 L780.3,1238.6 L786.7,1239.0 L793.2,1239.5 L799.7,1240.1 L806.1,1240.7 L812.6,1241.4 L819.1,1242.2 L825.6,1243.0 L832.2,1243.9 L838.7,1244.9 L845.3,1245.9 L851.9,1247.0 L858.5,1248.2 L865.2,1249.4 L871.8,1250.7 L878.6,1252.1 L885.3,1253.5 L892.1,1255.0 L898.9,1256.5 L905.8,1258.1 L912.7,1259.7 L919.7,1261.4 L926.7,1263.1 L931.5,1264.3 M19.5,1264.3 L21.8,1264.9 L28.9,1266.7 L36.1,1268.6 L43.4,1270.5 L50.7,1272.4 L58.1,1274.4 L65.6,1276.4 L73.1,1278.4 L80.8,1280.4 L88.5,1282.4 L96.3,1284.4 L104.3,1286.5 L112.3,1288.5 L120.4,1290.5 L128.6,1292.5 L137.0,1294.4 L145.4,1296.3 L153.9,1298.2 L162.6,1300.0 L171.3,1301.7 L180.2,1303.3 L189.2,1304.9 L198.2,1306.4 L207.4,1307.7 L216.6,1308.9 L225.9,1310.1 L235.3,1311.0 L244.8,1311.9 L254.3,1312.6 L263.9,1313.1 L273.4,1313.5 L283.1,1313.7 L292.7,1313.7 L302.3,1313.6 L311.9,1313.4 L321.5,1312.9 L331.0,1312.3 L340.5,1311.6 L350.0,1310.7 L359.3,1309.7 L368.6,1308.5 L377.8,1307.3 L387.0,1305.9 L396.0,1304.4 L404.9,1302.8 L413.7,1301.1 L422.5,1299.4 L431.1,1297.6 L439.6,1295.7 L448.0,1293.8 L456.3,1291.8 L464.5,1289.8 L472.5,1287.8 L480.5,1285.8 L488.4,1283.8 L496.2,1281.7 L503.9,1279.7 L511.5,1277.7 L519.1,1275.7 L526.5,1273.7 L533.9,1271.8 L541.2,1269.9 L548.5,1268.0 L555.6,1266.1 L562.8,1264.3 L569.8,1262.5 L576.8,1260.8 L583.8,1259.2 L590.6,1257.5 L597.5,1256.0 L604.3,1254.5 L611.1,1253.0 L617.8,1251.6 L624.5,1250.3 L631.2,1249.0 L637.8,1247.8 L644.5,1246.6 L651.0,1245.6 L657.6,1244.5 L664.2,1243.6 L670.7,1242.7 L677.2,1241.9 L683.7,1241.2 L690.2,1240.5 L696.6,1239.9 L703.1,1239.4 L709.6,1238.9 L716.0,1238.5 L722.4,1238.2 L728.9,1238.0 L735.3,1237.8 L741.7,1237.7 L748.1,1237.7 M748.2,1206.5 L755.0,1206.6 L761.7,1206.7 L768.5,1206.9 L775.2,1207.1 L782.0,1207.4 L788.8,1207.8 L795.6,1208.3 L802.3,1208.8 L809.1,1209.3 L815.9,1210.0 L822.7,1210.7 L829.6,1211.5 L836.4,1212.3 L843.3,1213.2 L850.1,1214.1 L857.0,1215.1 L863.9,1216.2 L870.8,1217.3 L877.8,1218.4 L884.8,1219.7 L891.8,1220.9 L898.8,1222.2 L905.9,1223.6 L912.9,1225.0 L920.1,1226.4 L927.2,1227.9 L931.5,1228.8 M19.5,1228.8 L22.5,1229.4 L29.7,1231.0 L37.0,1232.5 L44.3,1234.1 L51.7,1235.7 L59.2,1237.4 L66.7,1239.0 L74.2,1240.7 L81.8,1242.3 L89.5,1244.0 L97.2,1245.7 L105.0,1247.3 L112.9,1249.0 L120.8,1250.6 L128.8,1252.2 L136.9,1253.8 L145.0,1255.3 L153.3,1256.8 L161.6,1258.2 L169.9,1259.6 L178.3,1260.9 L186.8,1262.2 L195.4,1263.4 L204.0,1264.5 L212.7,1265.5 L221.4,1266.4 L230.2,1267.2 L239.0,1268.0 L247.9,1268.6 L256.8,1269.1 L265.7,1269.5 L274.6,1269.7 L283.6,1269.9 L292.6,1269.9 L301.5,1269.9 L310.5,1269.7 L319.4,1269.3 L328.3,1268.9 L337.2,1268.4 L346.1,1267.7 L354.9,1267.0 L363.7,1266.1 L372.4,1265.2 L381.0,1264.1 L389.6,1263.0 L398.2,1261.8 L406.6,1260.5 L415.0,1259.2 L423.4,1257.8 L431.6,1256.3 L439.8,1254.8 L447.9,1253.2 L456.0,1251.7 L464.0,1250.1 L471.9,1248.4 L479.7,1246.8 L487.5,1245.1 L495.2,1243.5 L502.9,1241.8 L510.5,1240.1 L518.0,1238.5 L525.5,1236.8 L532.9,1235.2 L540.3,1233.6 L547.6,1232.0 L554.9,1230.4 L562.1,1228.9 L569.3,1227.4 L576.4,1225.9 L583.6,1224.5 L590.6,1223.1 L597.7,1221.8 L604.7,1220.5 L611.7,1219.3 L618.7,1218.1 L625.6,1216.9 L632.5,1215.8 L639.4,1214.8 L646.3,1213.8 L653.2,1212.9 L660.0,1212.0 L666.8,1211.2 L673.7,1210.4 L680.5,1209.8 L687.3,1209.1 L694.1,1208.6 L700.8,1208.1 L707.6,1207.7 L714.4,1207.3 L721.2,1207.0 L727.9,1206.8 L734.7,1206.6 L741.4,1206.6 L748.2,1206.5 M748.2,1178.5 L755.3,1178.5 L762.3,1178.6 L769.3,1178.8 L776.4,1179.0 L783.4,1179.3 L790.4,1179.7 L797.5,1180.1 L804.5,1180.6 L811.5,1181.2 L818.6,1181.8 L825.7,1182.4 L832.7,1183.2 L839.8,1183.9 L846.9,1184.8 L854.0,1185.7 L861.1,1186.6 L868.2,1187.6 L875.3,1188.6 L882.5,1189.7 L889.6,1190.8 L896.8,1192.0 L904.0,1193.2 L911.2,1194.5 L918.5,1195.7 L925.7,1197.1 L931.5,1198.1 M19.5,1198.1 L21.1,1198.4 L28.4,1199.8 L35.7,1201.1 L43.1,1202.6 L50.5,1204.0 L58.0,1205.4 L65.5,1206.9 L73.0,1208.3 L80.6,1209.8 L88.2,1211.3 L95.8,1212.7 L103.5,1214.1 L111.3,1215.6 L119.1,1217.0 L126.9,1218.4 L134.8,1219.7 L142.7,1221.1 L150.7,1222.3 L158.7,1223.6 L166.8,1224.8 L174.9,1225.9 L183.1,1227.0 L191.3,1228.1 L199.6,1229.0 L207.9,1229.9 L216.2,1230.8 L224.6,1231.5 L233.0,1232.2 L241.5,1232.8 L249.9,1233.3 L258.4,1233.7 L266.9,1234.0 L275.4,1234.2 L284.0,1234.3 L292.5,1234.4 L301.0,1234.3 L309.5,1234.1 L318.1,1233.9 L326.6,1233.5 L335.0,1233.1 L343.5,1232.6 L351.9,1232.0 L360.3,1231.3 L368.7,1230.5 L377.0,1229.6 L385.3,1228.7 L393.6,1227.7 L401.8,1226.7 L409.9,1225.6 L418.0,1224.4 L426.1,1223.2 L434.1,1221.9 L442.1,1220.6 L450.0,1219.3 L457.9,1217.9 L465.7,1216.5 L473.5,1215.1 L481.2,1213.7 L488.9,1212.2 L496.5,1210.8 L504.1,1209.3 L511.7,1207.8 L519.2,1206.4 L526.7,1204.9 L534.1,1203.5 L541.5,1202.1 L548.9,1200.7 L556.2,1199.3 L563.5,1197.9 L570.8,1196.6 L578.1,1195.3 L585.3,1194.0 L592.5,1192.8 L599.7,1191.6 L606.9,1190.5 L614.0,1189.3 L621.2,1188.3 L628.3,1187.2 L635.4,1186.3 L642.5,1185.4 L649.6,1184.5 L656.7,1183.7 L663.8,1182.9 L670.8,1182.2 L677.9,1181.6 L684.9,1181.0 L692.0,1180.4 L699.0,1180.0 L706.1,1179.6 L713.1,1179.2 L720.1,1178.9 L727.2,1178.7 L734.2,1178.6 L741.2,1178.5 L748.2,1178.5 M748.3,1152.2 L755.5,1152.2 L762.8,1152.3 L770.1,1152.5 L777.3,1152.7 L784.6,1153.0 L791.9,1153.4 L799.1,1153.8 L806.4,1154.3 L813.7,1154.8 L820.9,1155.4 L828.2,1156.1 L835.5,1156.8 L842.7,1157.5 L850.0,1158.4 L857.3,1159.2 L864.6,1160.1 L871.9,1161.1 L879.2,1162.1 L886.5,1163.1 L893.8,1164.2 L901.1,1165.3 L908.4,1166.5 L915.8,1167.6 L923.1,1168.9 L930.5,1170.1 L931.5,1170.3 M19.5,1170.3 L25.9,1171.4 L33.3,1172.6 L40.7,1173.9 L48.2,1175.3 L55.6,1176.6 L63.1,1177.9 L70.6,1179.2 L78.1,1180.6 L85.7,1181.9 L93.3,1183.2 L100.9,1184.6 L108.5,1185.9 L116.2,1187.1 L123.9,1188.4 L131.7,1189.7 L139.4,1190.9 L147.3,1192.0 L155.1,1193.2 L163.0,1194.3 L170.9,1195.3 L178.8,1196.3 L186.8,1197.3 L194.8,1198.2 L202.8,1199.0 L210.9,1199.8 L218.9,1200.5 L227.0,1201.2 L235.2,1201.7 L243.3,1202.2 L251.5,1202.7 L259.7,1203.0 L267.8,1203.3 L276.0,1203.5 L284.2,1203.6 L292.4,1203.6 L300.6,1203.6 L308.8,1203.4 L317.0,1203.2 L325.2,1202.9 L333.4,1202.5 L341.6,1202.1 L349.7,1201.6 L357.8,1201.0 L365.9,1200.3 L374.0,1199.6 L382.0,1198.8 L390.0,1197.9 L398.0,1197.0 L406.0,1196.0 L413.9,1195.0 L421.8,1193.9 L429.7,1192.8 L437.5,1191.7 L445.3,1190.5 L453.1,1189.2 L460.8,1188.0 L468.5,1186.7 L476.2,1185.4 L483.8,1184.1 L491.4,1182.8 L499.0,1181.5 L506.5,1180.1 L514.1,1178.8 L521.5,1177.5 L529.0,1176.1 L536.5,1174.8 L543.9,1173.5 L551.3,1172.2 L558.7,1170.9 L566.1,1169.7 L573.5,1168.4 L580.8,1167.2 L588.2,1166.1 L595.5,1164.9 L602.8,1163.8 L610.1,1162.8 L617.4,1161.7 L624.7,1160.8 L632.0,1159.8 L639.3,1158.9 L646.6,1158.1 L653.8,1157.3 L661.1,1156.5 L668.4,1155.9 L675.6,1155.2 L682.9,1154.6 L690.2,1154.1 L697.4,1153.7 L704.7,1153.3 L712.0,1152.9 L719.2,1152.7 L726.5,1152.5 L733.8,1152.3 L741.0,1152.2 L748.3,1152.2 M748.3,1126.8 L755.8,1126.8 L763.3,1126.9 L770.8,1127.1 L778.2,1127.3 L785.7,1127.6 L793.2,1128.0 L800.7,1128.4 L808.1,1128.9 L815.6,1129.4 L823.1,1130.0 L830.5,1130.7 L838.0,1131.4 L845.4,1132.1 L852.9,1133.0 L860.3,1133.8 L867.8,1134.7 L875.2,1135.7 L882.7,1136.7 L890.1,1137.7 L897.5,1138.8 L905.0,1139.8 L912.4,1141.0 L919.9,1142.1 L927.3,1143.3 L931.5,1144.0 M19.5,1144.0 L22.8,1144.5 L30.2,1145.7 L37.7,1147.0 L45.1,1148.2 L52.6,1149.5 L60.1,1150.8 L67.6,1152.0 L75.1,1153.3 L82.6,1154.6 L90.2,1155.8 L97.7,1157.1 L105.3,1158.3 L112.9,1159.6 L120.5,1160.8 L128.1,1161.9 L135.8,1163.1 L143.4,1164.2 L151.1,1165.3 L158.8,1166.3 L166.5,1167.3 L174.3,1168.3 L182.0,1169.2 L189.8,1170.1 L197.6,1170.9 L205.5,1171.7 L213.3,1172.4 L221.2,1173.0 L229.0,1173.6 L236.9,1174.1 L244.8,1174.6 L252.7,1174.9 L260.7,1175.2 L268.6,1175.5 L276.5,1175.7 L284.5,1175.8 L292.4,1175.8 L300.3,1175.7 L308.3,1175.6 L316.2,1175.4 L324.1,1175.2 L332.1,1174.8 L340.0,1174.4 L347.9,1173.9 L355.7,1173.4 L363.6,1172.8 L371.5,1172.1 L379.3,1171.4 L387.1,1170.6 L394.9,1169.8 L402.7,1168.9 L410.5,1168.0 L418.2,1167.0 L425.9,1166.0 L433.6,1164.9 L441.3,1163.8 L448.9,1162.7 L456.6,1161.5 L464.2,1160.4 L471.8,1159.1 L479.4,1157.9 L486.9,1156.7 L494.5,1155.4 L502.0,1154.2 L509.5,1152.9 L517.1,1151.6 L524.5,1150.3 L532.0,1149.1 L539.5,1147.8 L547.0,1146.6 L554.4,1145.3 L561.9,1144.1 L569.3,1142.9 L576.8,1141.7 L584.2,1140.6 L591.6,1139.5 L599.1,1138.4 L606.5,1137.3 L614.0,1136.3 L621.4,1135.3 L628.8,1134.4 L636.3,1133.5 L643.7,1132.7 L651.2,1131.9 L658.6,1131.1 L666.1,1130.5 L673.5,1129.8 L681.0,1129.2 L688.5,1128.7 L696.0,1128.3 L703.4,1127.9 L710.9,1127.5 L718.4,1127.2 L725.9,1127.0 L733.3,1126.9 L740.8,1126.8 L748.3,1126.8 M748.4,1101.4 L756.1,1101.4 L763.8,1101.5 L771.5,1101.7 L779.2,1102.0 L786.9,1102.3 L794.5,1102.6 L802.2,1103.1 L809.9,1103.6 L817.6,1104.1 L825.2,1104.8 L832.9,1105.4 L840.5,1106.2 L848.1,1107.0 L855.7,1107.8 L863.3,1108.7 L870.9,1109.6 L878.5,1110.6 L886.1,1111.6 L893.6,1112.6 L901.2,1113.7 L908.7,1114.8 L916.3,1116.0 L923.8,1117.1 L931.3,1118.3 L931.5,1118.3 M19.5,1118.3 L26.8,1119.5 L34.3,1120.7 L41.8,1122.0 L49.3,1123.2 L56.8,1124.5 L64.3,1125.7 L71.8,1127.0 L79.3,1128.2 L86.8,1129.4 L94.3,1130.7 L101.8,1131.9 L109.3,1133.1 L116.9,1134.3 L124.4,1135.4 L131.9,1136.6 L139.5,1137.7 L147.0,1138.7 L154.6,1139.8 L162.2,1140.8 L169.7,1141.7 L177.3,1142.6 L184.9,1143.5 L192.6,1144.3 L200.2,1145.1 L207.8,1145.8 L215.5,1146.5 L223.1,1147.1 L230.8,1147.6 L238.5,1148.1 L246.2,1148.5 L253.9,1148.8 L261.5,1149.1 L269.2,1149.4 L277.0,1149.5 L284.7,1149.6 L292.4,1149.6 L300.1,1149.6 L307.8,1149.5 L315.5,1149.3 L323.2,1149.0 L330.9,1148.7 L338.5,1148.4 L346.2,1147.9 L353.9,1147.4 L361.6,1146.9 L369.2,1146.2 L376.9,1145.6 L384.5,1144.8 L392.1,1144.0 L399.7,1143.2 L407.3,1142.3 L414.9,1141.4 L422.5,1140.4 L430.1,1139.4 L437.6,1138.4 L445.2,1137.3 L452.7,1136.2 L460.3,1135.0 L467.8,1133.9 L475.3,1132.7 L482.8,1131.5 L490.3,1130.3 L497.8,1129.0 L505.3,1127.8 L512.8,1126.5 L520.3,1125.3 L527.8,1124.0 L535.3,1122.8 L542.8,1121.6 L550.3,1120.3 L557.8,1119.1 L565.3,1117.9 L572.9,1116.7 L580.4,1115.6 L587.9,1114.4 L595.5,1113.3 L603.0,1112.3 L610.6,1111.2 L618.2,1110.2 L625.7,1109.3 L633.3,1108.4 L640.9,1107.5 L648.6,1106.7 L656.2,1105.9 L663.8,1105.2 L671.5,1104.5 L679.1,1103.9 L686.8,1103.4 L694.5,1102.9 L702.2,1102.5 L709.8,1102.2 L717.5,1101.9 L725.2,1101.6 L732.9,1101.5 L740.6,1101.4 L748.4,1101.4 M748.4,1075.2 L756.3,1075.3 L764.3,1075.4 L772.2,1075.6 L780.1,1075.8 L788.0,1076.2 L796.0,1076.6 L803.9,1077.1 L811.7,1077.6 L819.6,1078.2 L827.5,1078.9 L835.3,1079.6 L843.1,1080.4 L850.9,1081.2 L858.7,1082.1 L866.5,1083.0 L874.2,1084.0 L881.9,1085.0 L889.6,1086.1 L897.3,1087.2 L904.9,1088.3 L912.6,1089.5 L920.2,1090.6 L927.8,1091.9 L931.5,1092.5 M19.5,1092.5 L23.4,1093.1 L31.0,1094.3 L38.5,1095.6 L46.0,1096.8 L53.6,1098.1 L61.1,1099.4 L68.5,1100.7 L76.0,1101.9 L83.5,1103.2 L91.0,1104.4 L98.4,1105.7 L105.9,1106.9 L113.3,1108.1 L120.8,1109.3 L128.2,1110.4 L135.6,1111.5 L143.1,1112.6 L150.5,1113.7 L158.0,1114.7 L165.4,1115.7 L172.8,1116.6 L180.3,1117.5 L187.7,1118.3 L195.2,1119.1 L202.6,1119.9 L210.1,1120.5 L217.6,1121.2 L225.0,1121.8 L232.5,1122.3 L240.0,1122.7 L247.4,1123.1 L254.9,1123.5 L262.4,1123.8 L269.9,1124.0 L277.4,1124.1 L284.8,1124.2 L292.3,1124.2 L299.8,1124.2 L307.3,1124.1 L314.8,1123.9 L322.3,1123.7 L329.7,1123.4 L337.2,1123.0 L344.7,1122.6 L352.2,1122.1 L359.6,1121.6 L367.1,1121.0 L374.5,1120.3 L382.0,1119.6 L389.5,1118.9 L396.9,1118.0 L404.4,1117.2 L411.8,1116.3 L419.2,1115.3 L426.7,1114.3 L434.1,1113.3 L441.5,1112.2 L449.0,1111.2 L456.4,1110.0 L463.9,1108.9 L471.3,1107.7 L478.8,1106.5 L486.2,1105.3 L493.7,1104.0 L501.1,1102.8 L508.6,1101.5 L516.1,1100.2 L523.6,1099.0 L531.1,1097.7 L538.6,1096.4 L546.2,1095.2 L553.7,1093.9 L561.3,1092.7 L568.9,1091.4 L576.5,1090.2 L584.1,1089.1 L591.7,1087.9 L599.4,1086.8 L607.1,1085.7 L614.8,1084.7 L622.5,1083.7 L630.3,1082.7 L638.0,1081.8 L645.8,1080.9 L653.6,1080.1 L661.5,1079.3 L669.3,1078.6 L677.2,1078.0 L685.0,1077.4 L692.9,1076.9 L700.8,1076.4 L708.7,1076.1 L716.7,1075.8 L724.6,1075.5 L732.5,1075.3 L740.5,1075.2 L748.4,1075.2 M748.4,1047.4 L756.6,1047.4 L764.8,1047.6 L773.0,1047.8 L781.2,1048.1 L789.4,1048.5 L797.6,1048.9 L805.7,1049.4 L813.8,1050.0 L821.9,1050.7 L830.0,1051.4 L838.0,1052.2 L846.0,1053.1 L854.0,1054.0 L862.0,1055.0 L869.9,1056.0 L877.8,1057.1 L885.7,1058.2 L893.5,1059.3 L901.3,1060.5 L909.1,1061.8 L916.8,1063.0 L924.5,1064.3 L931.5,1065.5 M19.5,1065.5 L20.2,1065.6 L27.8,1066.9 L35.4,1068.2 L43.0,1069.5 L50.5,1070.9 L58.1,1072.2 L65.6,1073.5 L73.0,1074.9 L80.5,1076.2 L87.9,1077.5 L95.3,1078.8 L102.7,1080.1 L110.1,1081.3 L117.5,1082.6 L124.8,1083.8 L132.2,1084.9 L139.5,1086.1 L146.8,1087.2 L154.1,1088.2 L161.4,1089.3 L168.7,1090.2 L176.0,1091.2 L183.3,1092.1 L190.6,1092.9 L197.8,1093.7 L205.1,1094.5 L212.4,1095.1 L219.6,1095.8 L226.9,1096.4 L234.2,1096.9 L241.4,1097.3 L248.7,1097.7 L256.0,1098.1 L263.2,1098.3 L270.5,1098.5 L277.8,1098.7 L285.0,1098.8 L292.3,1098.8 L299.5,1098.8 L306.8,1098.7 L314.1,1098.5 L321.3,1098.3 L328.6,1098.0 L335.9,1097.6 L343.1,1097.2 L350.4,1096.7 L357.7,1096.2 L364.9,1095.6 L372.2,1094.9 L379.5,1094.2 L386.7,1093.5 L394.0,1092.6 L401.3,1091.8 L408.6,1090.9 L415.9,1089.9 L423.2,1088.9 L430.5,1087.9 L437.8,1086.8 L445.1,1085.7 L452.4,1084.5 L459.8,1083.4 L467.1,1082.1 L474.5,1080.9 L481.9,1079.6 L489.3,1078.4 L496.7,1077.1 L504.1,1075.7 L511.6,1074.4 L519.1,1073.1 L526.6,1071.8 L534.1,1070.4 L541.7,1069.1 L549.3,1067.8 L556.9,1066.4 L564.5,1065.1 L572.2,1063.9 L579.9,1062.6 L587.7,1061.3 L595.4,1060.1 L603.2,1059.0 L611.1,1057.8 L619.0,1056.7 L626.9,1055.7 L634.8,1054.7 L642.8,1053.7 L650.8,1052.8 L658.8,1052.0 L666.8,1051.2 L674.9,1050.5 L683.0,1049.8 L691.2,1049.3 L699.3,1048.8 L707.5,1048.3 L715.6,1048.0 L723.8,1047.7 L732.0,1047.5 L740.2,1047.4 L748.4,1047.4 M748.5,1016.6 L757.0,1016.7 L765.5,1016.9 L774.1,1017.1 L782.6,1017.5 L791.0,1017.9 L799.5,1018.4 L807.9,1019.0 L816.3,1019.7 L824.7,1020.5 L833.0,1021.4 L841.3,1022.3 L849.6,1023.3 L857.8,1024.3 L865.9,1025.4 L874.0,1026.6 L882.1,1027.8 L890.1,1029.1 L898.1,1030.4 L906.0,1031.7 L913.9,1033.1 L921.7,1034.5 L929.5,1035.9 L931.5,1036.3 M19.5,1036.3 L25.2,1037.3 L32.9,1038.8 L40.5,1040.2 L48.1,1041.7 L55.7,1043.2 L63.2,1044.6 L70.7,1046.1 L78.1,1047.5 L85.5,1048.9 L92.9,1050.3 L100.2,1051.7 L107.5,1053.1 L114.8,1054.4 L122.1,1055.7 L129.3,1057.0 L136.5,1058.2 L143.7,1059.4 L150.9,1060.5 L158.1,1061.7 L165.2,1062.7 L172.3,1063.8 L179.4,1064.7 L186.5,1065.6 L193.6,1066.5 L200.7,1067.3 L207.8,1068.1 L214.8,1068.8 L221.9,1069.4 L228.9,1070.0 L236.0,1070.6 L243.0,1071.0 L250.1,1071.4 L257.1,1071.8 L264.1,1072.1 L271.2,1072.3 L278.2,1072.4 L285.2,1072.5 L292.2,1072.5 L299.3,1072.5 L306.3,1072.4 L313.3,1072.2 L320.4,1072.0 L327.4,1071.7 L334.4,1071.3 L341.5,1070.9 L348.5,1070.4 L355.6,1069.8 L362.6,1069.2 L369.7,1068.6 L376.7,1067.8 L383.8,1067.1 L390.9,1066.2 L398.0,1065.3 L405.1,1064.4 L412.2,1063.4 L419.3,1062.4 L426.5,1061.3 L433.6,1060.2 L440.8,1059.0 L448.0,1057.8 L455.2,1056.5 L462.5,1055.3 L469.8,1053.9 L477.0,1052.6 L484.4,1051.2 L491.7,1049.9 L499.1,1048.4 L506.5,1047.0 L514.0,1045.6 L521.5,1044.1 L529.0,1042.7 L536.6,1041.2 L544.2,1039.7 L551.8,1038.3 L559.5,1036.9 L567.3,1035.4 L575.1,1034.0 L582.9,1032.6 L590.8,1031.3 L598.7,1029.9 L606.7,1028.7 L614.7,1027.4 L622.8,1026.2 L630.9,1025.1 L639.1,1024.0 L647.3,1022.9 L655.6,1022.0 L663.9,1021.1 L672.2,1020.2 L680.6,1019.5 L689.0,1018.8 L697.5,1018.2 L705.9,1017.7 L714.4,1017.3 L722.9,1017.0 L731.4,1016.8 L740.0,1016.7 L748.5,1016.6 M748.6,981.1 L757.5,981.1 L766.5,981.3 L775.4,981.7 L784.3,982.1 L793.2,982.6 L802.1,983.3 L810.9,984.0 L819.7,984.9 L828.4,985.8 L837.0,986.9 L845.6,988.0 L854.2,989.2 L862.6,990.5 L871.0,991.8 L879.4,993.2 L887.6,994.7 L895.8,996.2 L903.9,997.8 L912.0,999.3 L920.0,1000.9 L927.9,1002.6 L931.5,1003.3 M19.5,1003.3 L23.7,1004.2 L31.5,1005.9 L39.2,1007.5 L46.9,1009.2 L54.5,1010.9 L62.0,1012.5 L69.5,1014.2 L76.9,1015.8 L84.3,1017.4 L91.6,1019.0 L98.9,1020.6 L106.1,1022.1 L113.3,1023.6 L120.5,1025.1 L127.6,1026.5 L134.6,1027.9 L141.7,1029.2 L148.7,1030.5 L155.7,1031.7 L162.7,1032.9 L169.6,1034.1 L176.5,1035.2 L183.4,1036.2 L190.3,1037.2 L197.2,1038.1 L204.0,1039.0 L210.9,1039.8 L217.7,1040.6 L224.5,1041.2 L231.3,1041.9 L238.1,1042.4 L244.9,1042.9 L251.6,1043.3 L258.4,1043.7 L265.2,1044.0 L271.9,1044.2 L278.7,1044.4 L285.4,1044.4 L292.2,1044.5 L299.0,1044.4 L305.7,1044.3 L312.5,1044.1 L319.2,1043.9 L326.0,1043.6 L332.8,1043.2 L339.6,1042.7 L346.3,1042.2 L353.1,1041.7 L359.9,1041.0 L366.8,1040.3 L373.6,1039.5 L380.4,1038.7 L387.3,1037.8 L394.1,1036.9 L401.0,1035.9 L407.9,1034.8 L414.8,1033.7 L421.8,1032.6 L428.8,1031.3 L435.8,1030.1 L442.8,1028.8 L449.9,1027.4 L457.0,1026.0 L464.1,1024.6 L471.2,1023.1 L478.4,1021.6 L485.7,1020.0 L493.0,1018.5 L500.3,1016.9 L507.7,1015.3 L515.2,1013.6 L522.6,1012.0 L530.2,1010.3 L537.8,1008.7 L545.5,1007.0 L553.2,1005.3 L561.0,1003.7 L568.9,1002.0 L576.8,1000.4 L584.8,998.8 L592.9,997.2 L601.0,995.7 L609.3,994.2 L617.5,992.8 L625.9,991.4 L634.3,990.1 L642.8,988.8 L651.4,987.6 L660.0,986.5 L668.7,985.5 L677.4,984.6 L686.2,983.8 L695.0,983.0 L703.9,982.4 L712.8,981.9 L721.7,981.5 L730.6,981.3 L739.6,981.1 L748.6,981.1 M748.7,937.3 L758.3,937.4 L767.9,937.6 L777.5,938.1 L787.0,938.7 L796.5,939.4 L806.0,940.3 L815.3,941.3 L824.6,942.5 L833.8,943.7 L843.0,945.1 L852.0,946.6 L860.9,948.2 L869.7,949.9 L878.4,951.6 L887.1,953.4 L895.6,955.3 L904.0,957.2 L912.3,959.2 L920.4,961.2 L928.5,963.2 L931.5,963.9 M19.5,963.9 L24.5,965.2 L32.4,967.2 L40.2,969.3 L47.9,971.3 L55.6,973.3 L63.1,975.3 L70.5,977.3 L77.9,979.2 L85.2,981.1 L92.5,983.0 L99.6,984.9 L106.8,986.7 L113.8,988.5 L120.8,990.2 L127.8,991.8 L134.7,993.5 L141.5,995.0 L148.3,996.5 L155.1,998.0 L161.8,999.4 L168.5,1000.7 L175.2,1002.0 L181.8,1003.2 L188.5,1004.4 L195.0,1005.4 L201.6,1006.5 L208.2,1007.4 L214.7,1008.3 L221.2,1009.1 L227.7,1009.8 L234.2,1010.5 L240.6,1011.1 L247.1,1011.6 L253.6,1012.1 L260.0,1012.5 L266.4,1012.8 L272.9,1013.0 L279.3,1013.2 L285.7,1013.3 L292.1,1013.3 L298.6,1013.3 L305.0,1013.2 L311.4,1013.0 L317.9,1012.7 L324.3,1012.4 L330.7,1012.0 L337.2,1011.5 L343.7,1010.9 L350.1,1010.3 L356.6,1009.6 L363.1,1008.8 L369.6,1008.0 L376.2,1007.1 L382.7,1006.1 L389.3,1005.1 L395.9,1004.0 L402.5,1002.8 L409.2,1001.6 L415.8,1000.3 L422.6,998.9 L429.3,997.5 L436.1,996.0 L442.9,994.5 L449.8,992.9 L456.7,991.3 L463.7,989.6 L470.7,987.9 L477.8,986.1 L484.9,984.3 L492.1,982.4 L499.3,980.5 L506.7,978.6 L514.1,976.6 L521.6,974.6 L529.1,972.6 L536.8,970.6 L544.5,968.6 L552.3,966.6 L560.3,964.5 L568.3,962.5 L576.4,960.5 L584.6,958.5 L593.0,956.6 L601.4,954.7 L609.9,952.8 L618.6,951.0 L627.3,949.3 L636.2,947.7 L645.2,946.1 L654.2,944.6 L663.4,943.3 L672.6,942.1 L681.9,940.9 L691.3,940.0 L700.8,939.1 L710.3,938.4 L719.8,937.9 L729.4,937.5 L739.0,937.3 L748.7,937.3 M748.9,877.8 L759.7,878.0 L770.5,878.4 L781.3,879.1 L792.0,880.1 L802.6,881.2 L813.0,882.7 L823.4,884.3 L833.6,886.1 L843.6,888.1 L853.4,890.2 L863.1,892.5 L872.6,894.9 L881.9,897.4 L891.1,899.9 L900.0,902.5 L908.8,905.2 L917.4,907.9 L925.9,910.7 L931.5,912.5 M19.5,912.5 L22.2,913.4 L30.3,916.1 L38.3,918.9 L46.2,921.6 L53.9,924.2 L61.4,926.9 L68.9,929.5 L76.3,932.0 L83.5,934.6 L90.6,937.0 L97.7,939.4 L104.6,941.7 L111.5,944.0 L118.3,946.2 L125.0,948.4 L131.7,950.4 L138.3,952.4 L144.8,954.3 L151.3,956.2 L157.7,958.0 L164.1,959.7 L170.5,961.3 L176.8,962.8 L183.0,964.3 L189.2,965.7 L195.4,967.0 L201.6,968.2 L207.7,969.4 L213.9,970.5 L220.0,971.5 L226.0,972.4 L232.1,973.2 L238.1,974.0 L244.2,974.6 L250.2,975.2 L256.2,975.7 L262.2,976.2 L268.2,976.5 L274.1,976.8 L280.1,977.0 L286.1,977.1 L292.1,977.1 L298.0,977.1 L304.0,976.9 L310.0,976.7 L316.0,976.4 L322.0,976.0 L328.0,975.6 L334.0,975.0 L340.0,974.4 L346.0,973.7 L352.1,972.9 L358.1,972.1 L364.2,971.1 L370.3,970.1 L376.4,969.0 L382.6,967.8 L388.8,966.6 L395.0,965.2 L401.2,963.8 L407.5,962.3 L413.8,960.8 L420.2,959.1 L426.5,957.4 L433.0,955.6 L439.5,953.7 L446.0,951.8 L452.7,949.7 L459.3,947.6 L466.1,945.5 L472.9,943.3 L479.8,941.0 L486.8,938.6 L493.9,936.2 L501.1,933.7 L508.3,931.2 L515.7,928.6 L523.2,926.0 L530.8,923.3 L538.6,920.7 L546.5,917.9 L554.5,915.2 L562.7,912.5 L571.0,909.7 L579.5,907.0 L588.2,904.3 L597.1,901.7 L606.1,899.1 L615.3,896.5 L624.7,894.1 L634.2,891.7 L644.0,889.5 L653.9,887.4 L664.0,885.5 L674.2,883.7 L684.6,882.2 L695.1,880.8 L705.7,879.7 L716.4,878.8 L727.2,878.2 L738.0,877.9 L748.9,877.8 M749.4,779.7 L763.7,780.2 L777.8,781.3 L791.7,783.0 L805.4,785.3 L818.7,788.2 L831.6,791.5 L844.1,795.1 L856.1,799.1 L867.7,803.3 L878.8,807.7 L889.5,812.3 L899.8,816.9 L909.7,821.5 L919.2,826.2 L928.4,830.8 L931.5,832.5 M19.5,832.5 L25.2,835.4 L33.7,840.0 L42.0,844.4 L50.0,848.7 L57.7,853.0 L65.2,857.1 L72.6,861.2 L79.8,865.1 L86.7,868.9 L93.6,872.6 L100.3,876.1 L106.9,879.6 L113.3,882.9 L119.7,886.1 L125.9,889.1 L132.1,892.1 L138.1,894.9 L144.1,897.7 L150.1,900.3 L155.9,902.8 L161.7,905.2 L167.5,907.4 L173.2,909.6 L178.8,911.7 L184.5,913.6 L190.0,915.5 L195.6,917.3 L201.1,918.9 L206.6,920.5 L212.0,921.9 L217.4,923.3 L222.8,924.5 L228.2,925.7 L233.6,926.7 L239.0,927.7 L244.3,928.6 L249.6,929.3 L254.9,930.0 L260.2,930.6 L265.5,931.1 L270.8,931.5 L276.1,931.8 L281.4,932.0 L286.7,932.2 L292.0,932.2 L297.2,932.1 L302.5,932.0 L307.8,931.7 L313.1,931.4 L318.4,931.0 L323.7,930.4 L329.0,929.8 L334.3,929.1 L339.6,928.3 L345.0,927.4 L350.3,926.4 L355.7,925.3 L361.1,924.1 L366.5,922.8 L372.0,921.4 L377.4,920.0 L382.9,918.4 L388.4,916.7 L394.0,914.9 L399.6,913.0 L405.2,911.0 L410.9,908.9 L416.6,906.7 L422.3,904.4 L428.2,902.0 L434.1,899.4 L440.0,896.8 L446.0,894.0 L452.1,891.1 L458.3,888.1 L464.6,885.0 L471.0,881.8 L477.5,878.4 L484.1,874.9 L490.8,871.4 L497.7,867.6 L504.8,863.8 L512.0,859.8 L519.4,855.8 L527.0,851.6 L534.8,847.3 L542.9,842.9 L551.2,838.5 L559.9,833.9 L568.8,829.3 L578.1,824.6 L587.7,820.0 L597.7,815.3 L608.1,810.7 L619.0,806.2 L630.3,801.9 L642.0,797.7 L654.2,793.9 L666.8,790.3 L679.8,787.2 L693.3,784.5 L707.0,782.4 L721.0,780.8 L735.2,779.9 L749.4,779.7 M772.0,497.5 L877.7,497.5 L921.4,497.5 L931.5,497.5 M19.5,497.5 L31.3,514.1 L45.1,551.0 L55.3,580.6 L63.4,605.3 L70.3,626.4 L76.5,644.8 L82.2,661.1 L87.5,675.6 L92.5,688.8 L97.4,700.7 L102.0,711.7 L106.6,721.9 L111.1,731.2 L115.4,740.0 L119.7,748.1 L124.0,755.7 L128.2,762.9 L132.4,769.6 L136.5,776.0 L140.6,782.0 L144.7,787.6 L148.8,793.0 L152.9,798.1 L156.9,802.9 L160.9,807.4 L164.9,811.8 L169.0,815.9 L172.9,819.8 L176.9,823.5 L180.9,827.0 L184.9,830.4 L188.9,833.6 L192.8,836.6 L196.8,839.4 L200.8,842.1 L204.7,844.7 L208.7,847.1 L212.7,849.4 L216.6,851.6 L220.6,853.6 L224.5,855.5 L228.5,857.2 L232.4,858.9 L236.4,860.4 L240.3,861.8 L244.3,863.1 L248.2,864.3 L252.2,865.4 L256.2,866.4 L260.1,867.2 L264.1,868.0 L268.0,868.6 L272.0,869.2 L275.9,869.6 L279.9,870.0 L283.8,870.2 L287.8,870.3 L291.7,870.4 L295.7,870.3 L299.6,870.1 L303.6,869.9 L307.5,869.5 L311.5,869.0 L315.5,868.4 L319.4,867.7 L323.4,867.0 L327.3,866.1 L331.3,865.0 L335.2,863.9 L339.2,862.7 L343.1,861.4 L347.1,859.9 L351.0,858.3 L355.0,856.7 L358.9,854.8 L362.9,852.9 L366.9,850.8 L370.8,848.7 L374.8,846.3 L378.7,843.9 L382.7,841.3 L386.7,838.5 L390.6,835.6 L394.6,832.5 L398.6,829.3 L402.6,825.9 L406.5,822.3 L410.5,818.5 L414.5,814.6 L418.5,810.4 L422.6,806.0 L426.6,801.3 L430.6,796.4 L434.7,791.2 L438.8,785.8 L442.9,780.0 L447.0,773.9 L451.2,767.4 L455.3,760.6 L459.6,753.3 L463.8,745.5 L468.2,737.1 L472.6,728.2 L477.1,718.6 L481.6,708.2 L486.4,696.9 L491.3,684.5 L496.4,670.9 L501.8,655.9 L507.6,639.0 L514.0,619.7 L521.3,597.6 L530.0,571.4 L541.1,539.6 L556.9,499.6 L583.7,497.5 L642.0,497.5 L772.0,497.5" stroke="#f00" stroke-width="1" stroke-dasharray="2 3" shape-rendering="crispEdges"/>
<path d="M750.0,1501.8 L758.3,1539.6 L773.5,1589.7 L808.8,1660.4 L918.0,1741.1 L931.5,1735.9 M19.5,1735.9 L154.7,1692.8 L206.9,1612.6 L226.9,1556.2 L237.1,1514.6 L243.3,1481.9 L247.3,1455.0 L250.3,1432.2 L252.5,1412.4 L254.2,1394.9 L255.5,1379.1 L256.7,1364.9 L257.6,1351.8 L258.4,1339.7 L259.1,1328.5 L259.7,1317.9 L260.3,1308.0 L260.8,1298.7 L261.2,1289.8 L261.6,1281.3 L262.0,1273.2 L262.3,1265.5 L262.6,1258.0 L262.9,1250.8 L263.2,1243.9 L263.4,1237.2 L263.6,1230.6 L263.9,1224.3 L264.1,1218.1 L264.3,1212.0 L264.5,1206.1 L264.7,1200.3 L264.8,1194.6 L265.0,1189.0 L265.2,1183.5 L265.3,1178.1 L265.5,1172.7 L265.6,1167.4 L265.8,1162.2 L265.9,1157.0 L266.1,1151.8 L266.2,1146.7 L266.4,1141.6 L266.5,1136.5 L266.7,1131.5 L266.8,1126.4 L266.9,1121.4 L267.1,1116.3 L267.2,1111.2 L267.4,1106.2 L267.5,1101.0 L267.7,1095.9 L267.8,1090.7 L268.0,1085.5 L268.1,1080.2 L268.3,1074.9 L268.4,1069.5 L268.6,1064.0 L268.8,1058.4 L268.9,1052.8 L269.1,1047.0 L269.3,1041.2 L269.5,1035.2 L269.7,1029.0 L269.9,1022.7 L270.2,1016.3 L270.4,1009.6 L270.7,1002.7 L271.0,995.6 L271.3,988.3 L271.6,980.6 L271.9,972.7 L272.3,964.4 L272.7,955.6 L273.2,946.5 L273.7,936.8 L274.3,926.5 L275.0,915.5 L275.7,903.8 L276.6,891.1 L277.7,877.2 L279.0,862.1 L280.5,845.3 L282.5,826.4 L285.1,804.8 L288.7,779.5 M741.2,1500.9 L724.6,1535.2 L696.8,1575.9 L646.7,1618.8 L566.3,1640.0 L487.8,1615.6 L440.0,1572.4 L413.4,1532.2 L397.5,1498.4 L387.1,1470.0 L379.8,1445.7 L374.4,1424.7 L370.3,1406.1 L367.1,1389.5 L364.4,1374.4 L362.2,1360.7 L360.3,1348.0 L358.8,1336.3 L357.4,1325.3 L356.2,1315.0 L355.1,1305.3 L354.1,1296.2 L353.2,1287.4 L352.4,1279.1 L351.7,1271.1 L351.0,1263.5 L350.4,1256.1 L349.8,1249.0 L349.3,1242.1 L348.8,1235.5 L348.3,1229.0 L347.9,1222.7 L347.4,1216.6 L347.0,1210.6 L346.6,1204.7 L346.3,1198.9 L345.9,1193.3 L345.5,1187.7 L345.2,1182.2 L344.9,1176.8 L344.5,1171.5 L344.2,1166.2 L343.9,1161.0 L343.6,1155.8 L343.3,1150.7 L343.0,1145.6 L342.7,1140.5 L342.4,1135.4 L342.1,1130.3 L341.8,1125.3 L341.6,1120.2 L341.3,1115.2 L341.0,1110.1 L340.7,1105.0 L340.4,1099.9 L340.1,1094.8 L339.8,1089.6 L339.5,1084.4 L339.1,1079.1 L338.8,1073.8 L338.5,1068.3 L338.1,1062.9 L337.8,1057.3 L337.4,1051.6 L337.0,1045.9 L336.6,1040.0 L336.2,1034.0 L335.8,1027.8 L335.3,1021.5 L334.9,1015.0 L334.4,1008.3 L333.8,1001.4 L333.2,994.3 L332.6,986.9 L331.9,979.2 L331.2,971.2 L330.4,962.9 L329.5,954.1 L328.5,944.9 L327.5,935.2 L326.2,924.8 L324.8,913.8 L323.2,902.0 L321.3,889.3 L319.1,875.4 L316.4,860.3 L313.1,843.5 L308.9,824.7 L303.4,803.5 L295.9,778.9 M734.4,1495.4 L704.0,1512.2 L667.3,1522.6 L627.7,1523.1 L590.4,1513.6 L559.3,1497.3 L535.0,1478.0 L516.4,1458.2 L502.1,1439.1 L491.0,1421.3 L482.2,1404.7 L475.0,1389.5 L469.1,1375.3 L464.1,1362.2 L459.9,1350.0 L456.3,1338.5 L453.1,1327.8 L450.3,1317.6 L447.9,1308.0 L445.6,1298.9 L443.7,1290.2 L441.8,1281.9 L440.2,1274.0 L438.6,1266.3 L437.2,1259.0 L435.9,1251.9 L434.7,1245.0 L433.5,1238.3 L432.4,1231.8 L431.4,1225.5 L430.4,1219.4 L429.5,1213.4 L428.6,1207.5 L427.8,1201.7 L426.9,1196.1 L426.1,1190.5 L425.4,1185.0 L424.6,1179.6 L423.9,1174.3 L423.2,1169.0 L422.5,1163.8 L421.8,1158.6 L421.1,1153.5 L420.5,1148.4 L419.8,1143.4 L419.2,1138.3 L418.5,1133.3 L417.9,1128.3 L417.2,1123.2 L416.6,1118.2 L415.9,1113.2 L415.3,1108.2 L414.6,1103.1 L414.0,1098.0 L413.3,1092.9 L412.6,1087.7 L411.9,1082.5 L411.2,1077.3 L410.5,1071.9 L409.7,1066.5 L409.0,1061.1 L408.2,1055.5 L407.4,1049.9 L406.5,1044.1 L405.6,1038.2 L404.7,1032.2 L403.7,1026.1 L402.7,1019.8 L401.6,1013.3 L400.5,1006.7 L399.2,999.8 L397.9,992.7 L396.5,985.4 L395.0,977.8 L393.4,969.9 L391.6,961.6 L389.6,953.0 L387.4,943.9 L385.0,934.4 L382.2,924.3 L379.1,913.6 L375.5,902.2 L371.4,890.1 L366.5,877.0 L360.7,863.0 L353.7,847.9 L345.0,831.5 L334.1,813.7 L320.2,794.8 L302.1,775.0 M731.7,1487.7 L700.7,1486.4 L671.5,1479.1 L645.9,1467.3 L624.5,1453.0 L607.0,1437.6 L592.8,1422.1 L581.2,1407.1 L571.7,1392.8 L563.7,1379.3 L557.0,1366.5 L551.3,1354.5 L546.4,1343.2 L542.1,1332.5 L538.3,1322.3 L535.0,1312.7 L532.0,1303.5 L529.3,1294.8 L526.8,1286.4 L524.6,1278.4 L522.6,1270.7 L520.7,1263.3 L518.9,1256.1 L517.3,1249.2 L515.7,1242.4 L514.3,1235.9 L512.9,1229.5 L511.6,1223.3 L510.4,1217.3 L509.2,1211.3 L508.1,1205.5 L507.0,1199.9 L506.0,1194.3 L505.0,1188.8 L504.0,1183.3 L503.0,1178.0 L502.1,1172.7 L501.2,1167.5 L500.3,1162.3 L499.4,1157.2 L498.6,1152.1 L497.7,1147.1 L496.9,1142.0 L496.1,1137.0 L495.2,1132.0 L494.4,1127.0 L493.6,1122.0 L492.8,1117.1 L491.9,1112.0 L491.1,1107.0 L490.3,1102.0 L489.4,1096.9 L488.5,1091.8 L487.7,1086.7 L486.8,1081.5 L485.9,1076.2 L484.9,1070.9 L484.0,1065.6 L483.0,1060.1 L482.0,1054.6 L480.9,1049.0 L479.8,1043.2 L478.7,1037.4 L477.5,1031.4 L476.2,1025.3 L474.9,1019.0 L473.5,1012.6 L472.0,1006.0 L470.4,999.2 L468.8,992.2 L467.0,984.9 L465.0,977.4 L462.9,969.5 L460.6,961.4 L458.0,952.9 L455.2,944.0 L452.1,934.7 L448.6,924.8 L444.6,914.5 L440.1,903.6 L434.9,892.0 L428.9,879.7 L421.7,866.6 L413.2,852.8 L402.9,838.2 L390.4,822.9 L375.0,807.4 L356.1,792.3 L333.0,778.7 L305.9,768.4 M733.2,1480.0 L709.0,1465.8 L689.3,1449.8 L673.4,1433.5 L660.6,1417.6 L650.3,1402.4 L641.7,1388.1 L634.6,1374.6 L628.6,1362.0 L623.5,1350.1 L619.0,1338.9 L615.2,1328.4 L611.8,1318.4 L608.7,1308.9 L606.0,1299.9 L603.5,1291.3 L601.3,1283.0 L599.2,1275.1 L597.3,1267.5 L595.6,1260.2 L594.0,1253.1 L592.5,1246.2 L591.0,1239.6 L589.7,1233.1 L588.4,1226.8 L587.2,1220.6 L586.1,1214.6 L585.0,1208.7 L583.9,1203.0 L582.9,1197.3 L581.9,1191.8 L581.0,1186.3 L580.1,1180.9 L579.2,1175.6 L578.3,1170.3 L577.5,1165.1 L576.6,1160.0 L575.8,1154.9 L575.0,1149.8 L574.2,1144.7 L573.4,1139.7 L572.6,1134.7 L571.8,1129.7 L571.0,1124.7 L570.2,1119.7 L569.5,1114.7 L568.7,1109.7 L567.9,1104.6 L567.1,1099.6 L566.2,1094.5 L565.4,1089.4 L564.6,1084.2 L563.7,1079.0 L562.8,1073.7 L561.9,1068.4 L561.0,1062.9 L560.1,1057.4 L559.1,1051.9 L558.0,1046.2 L557.0,1040.4 L555.9,1034.5 L554.7,1028.4 L553.5,1022.2 L552.2,1015.9 L550.8,1009.3 L549.4,1002.6 L547.8,995.7 L546.2,988.5 L544.4,981.1 L542.4,973.4 L540.3,965.3 L538.0,957.0 L535.5,948.2 L532.7,939.1 L529.5,929.4 L525.9,919.3 L521.9,908.5 L517.3,897.1 L511.9,885.0 L505.5,872.1 L498.0,858.4 L488.9,843.8 L477.8,828.3 L464.2,812.2 L447.2,796.0 L426.0,780.4 L400.3,767.1 L370.3,758.2 L337.9,755.8 L306.0,760.5 M738.0,1474.2 L723.6,1452.3 L712.7,1432.2 L704.3,1414.0 L697.6,1397.5 L692.2,1382.3 L687.7,1368.4 L683.9,1355.5 L680.7,1343.5 L677.9,1332.3 L675.5,1321.8 L673.4,1311.9 L671.4,1302.5 L669.7,1293.6 L668.1,1285.1 L666.7,1276.9 L665.4,1269.1 L664.2,1261.6 L663.1,1254.4 L662.0,1247.4 L661.1,1240.6 L660.1,1234.0 L659.3,1227.6 L658.4,1221.4 L657.7,1215.3 L656.9,1209.4 L656.2,1203.6 L655.5,1197.8 L654.8,1192.2 L654.2,1186.7 L653.6,1181.3 L652.9,1175.9 L652.4,1170.6 L651.8,1165.4 L651.2,1160.2 L650.6,1155.0 L650.1,1149.9 L649.5,1144.8 L649.0,1139.8 L648.5,1134.7 L647.9,1129.7 L647.4,1124.7 L646.9,1119.6 L646.3,1114.6 L645.8,1109.5 L645.2,1104.5 L644.7,1099.4 L644.1,1094.2 L643.6,1089.1 L643.0,1083.9 L642.4,1078.6 L641.8,1073.3 L641.2,1067.9 L640.6,1062.4 L639.9,1056.9 L639.2,1051.2 L638.5,1045.5 L637.8,1039.6 L637.0,1033.6 L636.2,1027.5 L635.4,1021.2 L634.5,1014.8 L633.6,1008.1 L632.6,1001.3 L631.5,994.2 L630.4,986.9 L629.1,979.3 L627.8,971.4 L626.3,963.1 L624.7,954.5 L622.9,945.4 L620.9,935.8 L618.7,925.7 L616.1,915.0 L613.2,903.5 L609.8,891.3 L605.8,878.1 L601.1,863.7 L595.3,848.1 L588.1,831.0 L578.9,812.2 L567.0,791.5 L551.0,769.0 L529.0,745.2 L498.7,722.2 L458.5,704.9 L411.4,699.9 L365.9,709.7 L329.0,729.6 L301.7,753.2 M744.7,1471.5 L741.1,1446.2 L738.5,1424.6 L736.5,1405.7 L735.0,1388.9 L733.7,1373.8 L732.6,1359.9 L731.7,1347.2 L731.0,1335.5 L730.3,1324.5 L729.7,1314.2 L729.2,1304.5 L728.7,1295.4 L728.3,1286.6 L727.9,1278.3 L727.6,1270.4 L727.3,1262.7 L727.0,1255.4 L726.7,1248.3 L726.4,1241.4 L726.2,1234.7 L725.9,1228.3 L725.7,1222.0 L725.5,1215.8 L725.3,1209.8 L725.1,1204.0 L724.9,1198.2 L724.8,1192.6 L724.6,1187.0 L724.4,1181.5 L724.3,1176.1 L724.1,1170.8 L724.0,1165.5 L723.8,1160.3 L723.7,1155.1 L723.5,1150.0 L723.4,1144.8 L723.2,1139.8 L723.1,1134.7 L722.9,1129.6 L722.8,1124.6 L722.7,1119.5 L722.5,1114.5 L722.4,1109.4 L722.2,1104.3 L722.1,1099.2 L721.9,1094.0 L721.8,1088.8 L721.6,1083.6 L721.5,1078.3 L721.3,1072.9 L721.2,1067.5 L721.0,1062.0 L720.8,1056.4 L720.6,1050.7 L720.5,1044.9 L720.3,1039.0 L720.1,1032.9 L719.9,1026.7 L719.6,1020.4 L719.4,1013.8 L719.1,1007.1 L718.9,1000.2 L718.6,993.0 L718.3,985.5 L718.0,977.8 L717.6,969.7 L717.2,961.2 L716.8,952.3 L716.3,943.0 L715.7,933.1 L715.1,922.5 L714.4,911.3 L713.6,899.2 L712.7,886.1 L711.5,871.9 L710.2,856.1 L708.5,838.6 L706.3,818.8 L703.3,796.0 L699.3,769.1 L693.1,736.4 L682.9,694.8 L662.9,638.4 L610.7,558.2 L462.0,509.9 L352.8,590.6 L317.5,661.3 L302.3,711.4 L294.0,749.2 M751.9,1472.1 L759.4,1447.5 L764.9,1426.3 L769.1,1407.5 L772.4,1390.7 L775.1,1375.6 L777.3,1361.7 L779.2,1349.0 L780.8,1337.2 L782.2,1326.2 L783.5,1315.8 L784.5,1306.1 L785.5,1296.9 L786.4,1288.1 L787.2,1279.8 L787.9,1271.8 L788.6,1264.1 L789.2,1256.7 L789.8,1249.6 L790.3,1242.7 L790.9,1236.0 L791.3,1229.5 L791.8,1223.2 L792.2,1217.0 L792.6,1211.0 L793.0,1205.1 L793.4,1199.4 L793.8,1193.7 L794.1,1188.1 L794.5,1182.7 L794.8,1177.2 L795.1,1171.9 L795.5,1166.6 L795.8,1161.4 L796.1,1156.2 L796.4,1151.1 L796.7,1146.0 L797.0,1140.9 L797.3,1135.8 L797.5,1130.8 L797.8,1125.7 L798.1,1120.7 L798.4,1115.6 L798.7,1110.5 L799.0,1105.4 L799.3,1100.3 L799.6,1095.2 L799.9,1090.0 L800.2,1084.8 L800.5,1079.5 L800.9,1074.2 L801.2,1068.8 L801.5,1063.3 L801.9,1057.7 L802.2,1052.1 L802.6,1046.3 L803.0,1040.4 L803.4,1034.4 L803.9,1028.3 L804.3,1022.0 L804.8,1015.5 L805.3,1008.9 L805.8,1002.0 L806.4,994.9 L807.0,987.5 L807.7,979.9 L808.4,971.9 L809.2,963.6 L810.1,954.8 L811.1,945.7 L812.1,936.0 L813.4,925.7 L814.8,914.7 L816.3,903.0 L818.2,890.3 L820.4,876.6 L823.0,861.5 L826.3,844.9 L830.4,826.3 L835.8,805.3 L843.1,781.0 L853.5,752.6 L869.4,718.8 L896.0,678.6 L931.5,647.8 M19.5,647.8 L31.8,635.4 L110.3,611.0 L190.7,632.2 L240.8,675.1 L268.6,715.8 L285.2,750.1 M758.1,1476.0 L776.2,1456.2 L790.1,1437.3 L801.0,1419.5 L809.7,1403.1 L816.7,1388.0 L822.5,1374.0 L827.4,1360.9 L831.5,1348.8 L835.1,1337.4 L838.2,1326.7 L841.0,1316.6 L843.4,1307.1 L845.6,1298.0 L847.6,1289.4 L849.4,1281.1 L851.0,1273.2 L852.5,1265.6 L853.9,1258.3 L855.2,1251.2 L856.5,1244.3 L857.6,1237.7 L858.7,1231.2 L859.7,1224.9 L860.7,1218.8 L861.6,1212.8 L862.5,1206.9 L863.4,1201.1 L864.2,1195.5 L865.0,1189.9 L865.7,1184.5 L866.5,1179.1 L867.2,1173.7 L867.9,1168.5 L868.6,1163.3 L869.3,1158.1 L870.0,1153.0 L870.6,1147.9 L871.3,1142.8 L871.9,1137.8 L872.6,1132.8 L873.2,1127.8 L873.9,1122.7 L874.5,1117.7 L875.2,1112.7 L875.8,1107.6 L876.5,1102.6 L877.1,1097.5 L877.8,1092.4 L878.5,1087.2 L879.2,1082.0 L879.9,1076.7 L880.6,1071.4 L881.4,1066.0 L882.1,1060.5 L882.9,1054.9 L883.8,1049.3 L884.6,1043.5 L885.5,1037.6 L886.4,1031.6 L887.4,1025.5 L888.4,1019.2 L889.5,1012.7 L890.7,1006.0 L891.9,999.1 L893.2,992.0 L894.6,984.7 L896.2,977.0 L897.8,969.1 L899.6,960.8 L901.6,952.1 L903.9,943.0 L906.3,933.4 L909.1,923.2 L912.3,912.5 L915.9,901.0 L920.1,888.8 L925.1,875.7 L931.0,861.5 L931.5,860.5 M19.5,860.5 L26.2,846.3 L35.0,829.7 L46.1,811.9 L60.4,792.8 L79.0,773.0 L103.3,753.7 L134.4,737.4 L171.7,727.9 L211.3,728.4 L248.1,738.8 L278.5,755.6 M761.9,1482.6 L789.0,1472.3 L812.1,1458.7 L831.0,1443.6 L846.4,1428.1 L858.9,1412.8 L869.2,1398.2 L877.7,1384.4 L884.8,1371.3 L890.9,1359.0 L896.1,1347.4 L900.6,1336.5 L904.6,1326.2 L908.1,1316.3 L911.2,1307.0 L914.0,1298.1 L916.6,1289.6 L918.9,1281.5 L921.0,1273.6 L922.9,1266.1 L924.8,1258.8 L926.4,1251.8 L928.0,1245.0 L929.5,1238.4 L930.9,1232.0 L931.5,1229.1 M19.5,1229.1 L20.2,1225.7 L21.5,1219.6 L22.7,1213.6 L23.8,1207.8 L24.9,1202.0 L26.0,1196.4 L27.0,1190.9 L28.0,1185.4 L28.9,1180.1 L29.9,1174.8 L30.8,1169.5 L31.7,1164.3 L32.6,1159.2 L33.4,1154.1 L34.3,1149.0 L35.1,1144.0 L35.9,1139.0 L36.8,1133.9 L37.6,1129.0 L38.4,1124.0 L39.2,1119.0 L40.1,1114.0 L40.9,1109.0 L41.7,1103.9 L42.6,1098.9 L43.5,1093.8 L44.3,1088.7 L45.2,1083.5 L46.1,1078.3 L47.0,1073.0 L48.0,1067.7 L49.0,1062.2 L50.0,1056.7 L51.0,1051.1 L52.1,1045.5 L53.2,1039.7 L54.4,1033.7 L55.6,1027.7 L56.9,1021.5 L58.3,1015.1 L59.7,1008.6 L61.3,1001.8 L62.9,994.9 L64.7,987.7 L66.6,980.3 L68.6,972.6 L70.9,964.6 L73.3,956.2 L76.0,947.5 L79.0,938.3 L82.3,928.7 L86.1,918.5 L90.4,907.8 L95.3,896.5 L101.0,884.5 L107.7,871.7 L115.7,858.2 L125.2,843.9 L136.8,828.9 L151.0,813.4 L168.5,798.0 L189.9,783.7 L215.6,771.9 L244.8,764.6 L275.7,763.3 M762.0,1490.5 L793.9,1495.2 L826.3,1492.8 L856.3,1483.9 L882.0,1470.6 L903.1,1455.0 L920.2,1438.8 L931.5,1425.3 M19.5,1425.3 L21.9,1422.7 L32.9,1407.2 L42.0,1392.6 L49.5,1378.9 L55.9,1366.0 L61.3,1353.9 L65.9,1342.5 L69.9,1331.7 L73.5,1321.6 L76.7,1311.9 L79.5,1302.8 L82.0,1294.0 L84.3,1285.7 L86.4,1277.6 L88.4,1269.9 L90.2,1262.5 L91.8,1255.3 L93.4,1248.4 L94.8,1241.7 L96.2,1235.1 L97.5,1228.8 L98.7,1222.6 L99.9,1216.5 L101.0,1210.6 L102.1,1204.8 L103.1,1199.1 L104.1,1193.6 L105.0,1188.1 L105.9,1182.6 L106.8,1177.3 L107.7,1172.0 L108.6,1166.8 L109.4,1161.6 L110.3,1156.5 L111.1,1151.4 L111.9,1146.4 L112.7,1141.3 L113.5,1136.3 L114.2,1131.3 L115.0,1126.3 L115.8,1121.3 L116.6,1116.3 L117.4,1111.3 L118.2,1106.3 L119.0,1101.2 L119.8,1096.1 L120.6,1091.0 L121.5,1085.9 L122.3,1080.7 L123.2,1075.4 L124.1,1070.1 L125.0,1064.7 L125.9,1059.2 L126.9,1053.7 L127.9,1048.0 L129.0,1042.3 L130.1,1036.4 L131.2,1030.4 L132.4,1024.2 L133.7,1017.9 L135.0,1011.4 L136.5,1004.8 L138.0,997.9 L139.6,990.8 L141.3,983.5 L143.2,975.9 L145.3,968.0 L147.5,959.7 L150.0,951.1 L152.7,942.1 L155.8,932.6 L159.2,922.6 L163.1,912.1 L167.5,900.9 L172.6,889.0 L178.6,876.4 L185.7,862.9 L194.3,848.6 L204.6,833.4 L217.4,817.5 L233.3,801.2 L253.0,785.2 L277.2,771.0 M757.7,1497.8 L785.0,1521.4 L821.9,1541.3 L867.4,1551.1 L914.5,1546.1 L931.5,1538.5 M19.5,1538.5 L42.7,1528.8 L73.0,1505.8 L95.0,1482.0 L111.0,1459.5 L122.9,1438.8 L132.1,1420.0 L139.3,1402.9 L145.1,1387.3 L149.8,1372.9 L153.8,1359.7 L157.2,1347.5 L160.1,1336.0 L162.7,1325.3 L164.9,1315.2 L166.9,1305.6 L168.7,1296.5 L170.3,1287.9 L171.8,1279.6 L173.1,1271.7 L174.4,1264.1 L175.5,1256.8 L176.6,1249.7 L177.6,1242.9 L178.5,1236.2 L179.4,1229.8 L180.3,1223.5 L181.1,1217.4 L181.8,1211.4 L182.5,1205.5 L183.2,1199.8 L183.9,1194.1 L184.6,1188.6 L185.2,1183.1 L185.8,1177.7 L186.4,1172.4 L187.0,1167.1 L187.6,1161.9 L188.1,1156.8 L188.7,1151.6 L189.2,1146.5 L189.8,1141.5 L190.3,1136.4 L190.9,1131.4 L191.4,1126.3 L191.9,1121.3 L192.5,1116.3 L193.0,1111.2 L193.5,1106.2 L194.1,1101.1 L194.6,1096.0 L195.2,1090.8 L195.8,1085.6 L196.4,1080.4 L197.0,1075.1 L197.6,1069.7 L198.2,1064.3 L198.8,1058.8 L199.5,1053.2 L200.2,1047.4 L200.9,1041.6 L201.7,1035.7 L202.4,1029.6 L203.3,1023.4 L204.1,1017.0 L205.1,1010.4 L206.0,1003.6 L207.1,996.6 L208.2,989.4 L209.4,981.9 L210.7,974.1 L212.2,965.9 L213.7,957.4 L215.4,948.5 L217.4,939.1 L219.5,929.2 L221.9,918.7 L224.7,907.5 L227.9,895.5 L231.7,882.6 L236.2,868.7 L241.6,853.5 L248.3,837.0 L256.7,818.8 L267.6,798.7 L282.0,776.8" stroke="#ee82ee" stroke-width="2" stroke-dasharray="1 4" shape-rendering="crispEdges"/>
</g>
<g clip-path="url(#fclip2)">
<text x="8.2 17.9 26.2 34.6" y="1124.0" font-size="12.4" fill="#000" stroke="#000">–180</text>
<text x="82.9 92.6 101.0 109.3" y="1124.0" font-size="12.4" fill="#000" stroke="#000">–150</text>
<text x="158.9 168.6 177.0 185.3" y="1124.0" font-size="12.4" fill="#000" stroke="#000">–120</text>
<text x="239.1 248.8 257.1" y="1124.0" font-size="12.4" fill="#000" stroke="#000">–90</text>
<text x="315.1 324.8 333.1" y="1124.0" font-size="12.4" fill="#000" stroke="#000">–60</text>
<text x="391.1 400.8 409.1" y="1124.0" font-size="12.4" fill="#000" stroke="#000">–30</text>
<text x="547.3 555.7" y="1124.0" font-size="12.4" fill="#000" stroke="#000">30</text>
<text x="623.3 631.7" y="1124.0" font-size="12.4" fill="#000" stroke="#000">60</text>
<text x="699.3 707.7" y="1124.0" font-size="12.4" fill="#000" stroke="#000">90</text>
<text x="771.1 779.5 787.9" y="1124.0" font-size="12.4" fill="#000" stroke="#000">120</text>
<text x="847.1 855.5 863.9" y="1124.0" font-size="12.4" fill="#000" stroke="#000">150</text>
<text x="923.1 931.5 939.9" y="1124.0" font-size="12.4" fill="#000" stroke="#000">180</text>
<text x="468.1 477.8 486.1" y="1375.9" font-size="12.4" fill="#000" stroke="#000">–70</text>
<text x="468.1 477.8 486.1" y="1315.3" font-size="12.4" fill="#000" stroke="#000">–60</text>
<text x="468.1 477.8 486.1" y="1270.9" font-size="12.4" fill="#000" stroke="#000">–50</text>
<text x="468.1 477.8 486.1" y="1235.0" font-size="12.4" fill="#000" stroke="#000">–40</text>
<text x="468.1 477.8 486.1" y="1204.1" font-size="12.4" fill="#000" stroke="#000">–30</text>
<text x="468.1 477.8 486.1" y="1176.1" font-size="12.4" fill="#000" stroke="#000">–20</text>
<text x="468.1 477.8 486.1" y="1149.9" font-size="12.4" fill="#000" stroke="#000">–10</text>
<text x="476.5" y="1124.5" font-size="12.4" fill="#000" stroke="#000">0</text>
<text x="472.3 480.7" y="1099.1" font-size="12.4" fill="#000" stroke="#000">10</text>
<text x="472.3 480.7" y="1072.9" font-size="12.4" fill="#000" stroke="#000">20</text>
<text x="472.3 480.7" y="1044.9" font-size="12.4" fill="#000" stroke="#000">30</text>
<text x="472.3 480.7" y="1014.0" font-size="12.4" fill="#000" stroke="#000">40</text>
<text x="472.3 480.7" y="978.1" font-size="12.4" fill="#000" stroke="#000">50</text>
<text x="472.3 480.7" y="933.7" font-size="12.4" fill="#000" stroke="#000">60</text>
<text x="472.3 480.7" y="873.1" font-size="12.4" fill="#000" stroke="#000">70</text>
</g>
<g clip-path="url(#clip2)" fill="none">
<g stroke="#000" stroke-width="1.15"><path d="M664.6,1125.5 L663.9,1127.9 L663.2,1130.4 L662.5,1132.8 L661.8,1135.2 L661.0,1137.6 L660.3,1140.1 L659.6,1142.5 L658.9,1145.0 L658.2,1147.4 L657.4,1149.9 L656.7,1152.3 L656.0,1154.8 L655.2,1157.3 L654.5,1159.8 L653.7,1162.3 L653.0,1164.8 L652.2,1167.3 L651.4,1169.8 L650.6,1172.3 L649.8,1174.9 L649.0,1177.4 L648.2,1180.0 L647.4,1182.6 L646.6,1185.2 L645.7,1187.8 L644.9,1190.5 L644.0,1193.1 L643.1,1195.8 L642.2,1198.5 L641.3,1201.2 L640.4,1204.0 L639.4,1206.7 L638.4,1209.5 L637.5,1212.3 L636.4,1215.2 L635.4,1218.0 L634.4,1220.9 L633.3,1223.9 L632.2,1226.8 L631.0,1229.8 L629.9,1232.8 L628.7,1235.9 L627.5,1239.0 L626.2,1242.1 L624.9,1245.2 L623.6,1248.4 L622.2,1251.7 L620.8,1255.0 L619.3,1258.3 L617.8,1261.7 L616.2,1265.1 L614.6,1268.6 L612.9,1272.1 L611.1,1275.6 L609.3,1279.3 L607.4,1282.9 L605.4,1286.7 L603.3,1290.4 L601.2,1294.3 L598.9,1298.2 L596.6,1302.1 L594.1,1306.1 L591.5,1310.2 L588.8,1314.3 L586.0,1318.5 L583.0,1322.8 L579.8,1327.1 L576.5,1331.4 L573.0,1335.8 L569.3,1340.2 L565.3,1344.7 L561.2,1349.2 L556.8,1353.7 L552.2,1358.2 L547.2,1362.7 L542.0,1367.1 L536.5,1371.5 L530.7,1375.8 L524.5,1380.0 L518.0,1384.0 L511.2,1387.9 L504.0,1391.5 L496.5,1394.9 L488.6,1397.9 L480.5,1400.6 L472.1,1402.8 L463.4,1404.6 L454.6,1405.9 L445.6,1406.7 L436.6,1407.0 L427.6,1406.7 L418.6,1405.9 L409.8,1404.6 L401.2,1402.8 L392.8,1400.6 L384.6,1397.9 L376.8,1394.9 L369.2,1391.5 L362.0,1387.9 L355.2,1384.0 L348.7,1380.0 L342.5,1375.8 L336.7,1371.5 L331.2,1367.1 L326.0,1362.7 L321.1,1358.2 L316.4,1353.7 L312.0,1349.2 L307.9,1344.7 L304.0,1340.2 L300.3,1335.8 L296.7,1331.4 L293.4,1327.1 L290.3,1322.8 L287.3,1318.5 L284.4,1314.3 L281.7,1310.2 L279.1,1306.1 L276.6,1302.1 L274.3,1298.2 L272.0,1294.3 L269.9,1290.4 L267.8,1286.7 L265.9,1282.9 L264.0,1279.3 L262.1,1275.6 L260.4,1272.1 L258.7,1268.6 L257.0,1265.1 L255.5,1261.7 L253.9,1258.3 L252.5,1255.0 L251.1,1251.7 L249.7,1248.4 L248.3,1245.2 L247.0,1242.1 L245.8,1239.0 L244.5,1235.9 L243.4,1232.8 L242.2,1229.8 L241.1,1226.8 L239.9,1223.9 L238.9,1220.9 L237.8,1218.0 L236.8,1215.2 L235.8,1212.3 L234.8,1209.5 L233.8,1206.7 L232.9,1204.0 L231.9,1201.2 L231.0,1198.5 L230.1,1195.8 L229.2,1193.1 L228.4,1190.5 L227.5,1187.8 L226.7,1185.2 L225.8,1182.6 L225.0,1180.0 L224.2,1177.4 L223.4,1174.9 L222.6,1172.3 L221.8,1169.8 L221.0,1167.3 L220.3,1164.8 L219.5,1162.3 L218.8,1159.8 L218.0,1157.3 L217.3,1154.8 L216.5,1152.3 L215.8,1149.9 L215.1,1147.4 L214.3,1145.0 L213.6,1142.5 L212.9,1140.1 L212.2,1137.6 L211.5,1135.2 L210.8,1132.8 L210.0,1130.4 L209.3,1127.9 L208.6,1125.5 L207.9,1123.1 L207.2,1120.6 L206.5,1118.2 L205.8,1115.8 L205.1,1113.4 L204.3,1110.9 L203.6,1108.5 L202.9,1106.0 L202.2,1103.6 L201.4,1101.1 L200.7,1098.7 L200.0,1096.2 L199.2,1093.7 L198.5,1091.2 L197.7,1088.7 L197.0,1086.2 L196.2,1083.7 L195.4,1081.2 L194.6,1078.7 L193.8,1076.1 L193.0,1073.6 L192.2,1071.0 L191.4,1068.4 L190.6,1065.8 L189.7,1063.2 L188.9,1060.5 L188.0,1057.9 L187.1,1055.2 L186.2,1052.5 L185.3,1049.8 L184.4,1047.0 L183.4,1044.3 L182.4,1041.5 L181.5,1038.7 L180.5,1035.8 L179.4,1033.0 L178.4,1030.1 L177.3,1027.1 L176.2,1024.2 L175.0,1021.2 L173.9,1018.2 L172.7,1015.1 L171.5,1012.0 L170.2,1008.9 L168.9,1005.8 L167.6,1002.6 L166.2,999.3 L164.8,996.0 L163.3,992.7 L161.8,989.3 L160.2,985.9 L158.6,982.4 L156.9,978.9 L155.1,975.4 L153.3,971.7 L151.4,968.1 L149.4,964.3 L147.3,960.6 L145.2,956.7 L142.9,952.8 L140.6,948.9 L138.1,944.9 L135.5,940.8 L132.8,936.7 L130.0,932.5 L127.0,928.2 L123.8,923.9 L120.5,919.6 L117.0,915.2 L113.3,910.8 L109.4,906.3 L105.2,901.8 L100.8,897.3 L96.2,892.8 L91.3,888.3 L86.0,883.9 L80.5,879.5 L74.7,875.2 L68.5,871.0 L62.0,867.0 L55.2,863.1 L48.0,859.5 L40.5,856.1 L32.6,853.1 L24.5,850.4 L19.5,849.1 M931.5,849.1 L928.0,848.2 L919.4,846.4 L910.6,845.1 L901.6,844.3 L892.6,844.0 L883.6,844.3 L874.6,845.1 L865.8,846.4 L857.2,848.2 L848.7,850.4 L840.6,853.1 L832.8,856.1 L825.2,859.5 L818.0,863.1 L811.2,867.0 L804.7,871.0 L798.5,875.2 L792.7,879.5 L787.2,883.9 L782.0,888.3 L777.1,892.8 L772.4,897.3 L768.0,901.8 L763.9,906.3 L760.0,910.8 L756.2,915.2 L752.7,919.6 L749.4,923.9 L746.3,928.2 L743.3,932.5 L740.4,936.7 L737.7,940.8 L735.1,944.9 L732.6,948.9 L730.3,952.8 L728.0,956.7 L725.9,960.6 L723.8,964.3 L721.8,968.1 L719.9,971.7 L718.1,975.4 L716.4,978.9 L714.7,982.4 L713.0,985.9 L711.5,989.3 L709.9,992.7 L708.5,996.0 L707.0,999.3 L705.7,1002.6 L704.3,1005.8 L703.0,1008.9 L701.8,1012.0 L700.5,1015.1 L699.3,1018.2 L698.2,1021.2 L697.0,1024.2 L695.9,1027.1 L694.9,1030.1 L693.8,1033.0 L692.8,1035.8 L691.8,1038.7 L690.8,1041.5 L689.8,1044.3 L688.9,1047.0 L687.9,1049.8 L687.0,1052.5 L686.1,1055.2 L685.2,1057.9 L684.4,1060.5 L683.5,1063.2 L682.7,1065.8 L681.8,1068.4 L681.0,1071.0 L680.2,1073.6 L679.4,1076.1 L678.6,1078.7 L677.8,1081.2 L677.0,1083.7 L676.3,1086.2 L675.5,1088.7 L674.8,1091.2 L674.0,1093.7 L673.3,1096.2 L672.5,1098.7 L671.8,1101.1 L671.1,1103.6 L670.3,1106.0 L669.6,1108.5 L668.9,1110.9 L668.2,1113.4 L667.5,1115.8 L666.7,1118.2 L666.0,1120.6 L665.3,1123.1 L664.6,1125.5"/><path transform="translate(1,0)" d="M664.6,1125.5 L663.9,1127.9 L663.2,1130.4 L662.5,1132.8 L661.8,1135.2 L661.0,1137.6 L660.3,1140.1 L659.6,1142.5 L658.9,1145.0 L658.2,1147.4 L657.4,1149.9 L656.7,1152.3 L656.0,1154.8 L655.2,1157.3 L654.5,1159.8 L653.7,1162.3 L653.0,1164.8 L652.2,1167.3 L651.4,1169.8 L650.6,1172.3 L649.8,1174.9 L649.0,1177.4 L648.2,1180.0 L647.4,1182.6 L646.6,1185.2 L645.7,1187.8 L644.9,1190.5 L644.0,1193.1 L643.1,1195.8 L642.2,1198.5 L641.3,1201.2 L640.4,1204.0 L639.4,1206.7 L638.4,1209.5 L637.5,1212.3 L636.4,1215.2 L635.4,1218.0 L634.4,1220.9 L633.3,1223.9 L632.2,1226.8 L631.0,1229.8 L629.9,1232.8 L628.7,1235.9 L627.5,1239.0 L626.2,1242.1 L624.9,1245.2 L623.6,1248.4 L622.2,1251.7 L620.8,1255.0 L619.3,1258.3 L617.8,1261.7 L616.2,1265.1 L614.6,1268.6 L612.9,1272.1 L611.1,1275.6 L609.3,1279.3 L607.4,1282.9 L605.4,1286.7 L603.3,1290.4 L601.2,1294.3 L598.9,1298.2 L596.6,1302.1 L594.1,1306.1 L591.5,1310.2 L588.8,1314.3 L586.0,1318.5 L583.0,1322.8 L579.8,1327.1 L576.5,1331.4 L573.0,1335.8 L569.3,1340.2 L565.3,1344.7 L561.2,1349.2 L556.8,1353.7 L552.2,1358.2 L547.2,1362.7 L542.0,1367.1 L536.5,1371.5 L530.7,1375.8 L524.5,1380.0 L518.0,1384.0 L511.2,1387.9 L504.0,1391.5 L496.5,1394.9 L488.6,1397.9 L480.5,1400.6 L472.1,1402.8 L463.4,1404.6 L454.6,1405.9 L445.6,1406.7 L436.6,1407.0 L427.6,1406.7 L418.6,1405.9 L409.8,1404.6 L401.2,1402.8 L392.8,1400.6 L384.6,1397.9 L376.8,1394.9 L369.2,1391.5 L362.0,1387.9 L355.2,1384.0 L348.7,1380.0 L342.5,1375.8 L336.7,1371.5 L331.2,1367.1 L326.0,1362.7 L321.1,1358.2 L316.4,1353.7 L312.0,1349.2 L307.9,1344.7 L304.0,1340.2 L300.3,1335.8 L296.7,1331.4 L293.4,1327.1 L290.3,1322.8 L287.3,1318.5 L284.4,1314.3 L281.7,1310.2 L279.1,1306.1 L276.6,1302.1 L274.3,1298.2 L272.0,1294.3 L269.9,1290.4 L267.8,1286.7 L265.9,1282.9 L264.0,1279.3 L262.1,1275.6 L260.4,1272.1 L258.7,1268.6 L257.0,1265.1 L255.5,1261.7 L253.9,1258.3 L252.5,1255.0 L251.1,1251.7 L249.7,1248.4 L248.3,1245.2 L247.0,1242.1 L245.8,1239.0 L244.5,1235.9 L243.4,1232.8 L242.2,1229.8 L241.1,1226.8 L239.9,1223.9 L238.9,1220.9 L237.8,1218.0 L236.8,1215.2 L235.8,1212.3 L234.8,1209.5 L233.8,1206.7 L232.9,1204.0 L231.9,1201.2 L231.0,1198.5 L230.1,1195.8 L229.2,1193.1 L228.4,1190.5 L227.5,1187.8 L226.7,1185.2 L225.8,1182.6 L225.0,1180.0 L224.2,1177.4 L223.4,1174.9 L222.6,1172.3 L221.8,1169.8 L221.0,1167.3 L220.3,1164.8 L219.5,1162.3 L218.8,1159.8 L218.0,1157.3 L217.3,1154.8 L216.5,1152.3 L215.8,1149.9 L215.1,1147.4 L214.3,1145.0 L213.6,1142.5 L212.9,1140.1 L212.2,1137.6 L211.5,1135.2 L210.8,1132.8 L210.0,1130.4 L209.3,1127.9 L208.6,1125.5 L207.9,1123.1 L207.2,1120.6 L206.5,1118.2 L205.8,1115.8 L205.1,1113.4 L204.3,1110.9 L203.6,1108.5 L202.9,1106.0 L202.2,1103.6 L201.4,1101.1 L200.7,1098.7 L200.0,1096.2 L199.2,1093.7 L198.5,1091.2 L197.7,1088.7 L197.0,1086.2 L196.2,1083.7 L195.4,1081.2 L194.6,1078.7 L193.8,1076.1 L193.0,1073.6 L192.2,1071.0 L191.4,1068.4 L190.6,1065.8 L189.7,1063.2 L188.9,1060.5 L188.0,1057.9 L187.1,1055.2 L186.2,1052.5 L185.3,1049.8 L184.4,1047.0 L183.4,1044.3 L182.4,1041.5 L181.5,1038.7 L180.5,1035.8 L179.4,1033.0 L178.4,1030.1 L177.3,1027.1 L176.2,1024.2 L175.0,1021.2 L173.9,1018.2 L172.7,1015.1 L171.5,1012.0 L170.2,1008.9 L168.9,1005.8 L167.6,1002.6 L166.2,999.3 L164.8,996.0 L163.3,992.7 L161.8,989.3 L160.2,985.9 L158.6,982.4 L156.9,978.9 L155.1,975.4 L153.3,971.7 L151.4,968.1 L149.4,964.3 L147.3,960.6 L145.2,956.7 L142.9,952.8 L140.6,948.9 L138.1,944.9 L135.5,940.8 L132.8,936.7 L130.0,932.5 L127.0,928.2 L123.8,923.9 L120.5,919.6 L117.0,915.2 L113.3,910.8 L109.4,906.3 L105.2,901.8 L100.8,897.3 L96.2,892.8 L91.3,888.3 L86.0,883.9 L80.5,879.5 L74.7,875.2 L68.5,871.0 L62.0,867.0 L55.2,863.1 L48.0,859.5 L40.5,856.1 L32.6,853.1 L24.5,850.4 L19.5,849.1 M931.5,849.1 L928.0,848.2 L919.4,846.4 L910.6,845.1 L901.6,844.3 L892.6,844.0 L883.6,844.3 L874.6,845.1 L865.8,846.4 L857.2,848.2 L848.7,850.4 L840.6,853.1 L832.8,856.1 L825.2,859.5 L818.0,863.1 L811.2,867.0 L804.7,871.0 L798.5,875.2 L792.7,879.5 L787.2,883.9 L782.0,888.3 L777.1,892.8 L772.4,897.3 L768.0,901.8 L763.9,906.3 L760.0,910.8 L756.2,915.2 L752.7,919.6 L749.4,923.9 L746.3,928.2 L743.3,932.5 L740.4,936.7 L737.7,940.8 L735.1,944.9 L732.6,948.9 L730.3,952.8 L728.0,956.7 L725.9,960.6 L723.8,964.3 L721.8,968.1 L719.9,971.7 L718.1,975.4 L716.4,978.9 L714.7,982.4 L713.0,985.9 L711.5,989.3 L709.9,992.7 L708.5,996.0 L707.0,999.3 L705.7,1002.6 L704.3,1005.8 L703.0,1008.9 L701.8,1012.0 L700.5,1015.1 L699.3,1018.2 L698.2,1021.2 L697.0,1024.2 L695.9,1027.1 L694.9,1030.1 L693.8,1033.0 L692.8,1035.8 L691.8,1038.7 L690.8,1041.5 L689.8,1044.3 L688.9,1047.0 L687.9,1049.8 L687.0,1052.5 L686.1,1055.2 L685.2,1057.9 L684.4,1060.5 L683.5,1063.2 L682.7,1065.8 L681.8,1068.4 L681.0,1071.0 L680.2,1073.6 L679.4,1076.1 L678.6,1078.7 L677.8,1081.2 L677.0,1083.7 L676.3,1086.2 L675.5,1088.7 L674.8,1091.2 L674.0,1093.7 L673.3,1096.2 L672.5,1098.7 L671.8,1101.1 L671.1,1103.6 L670.3,1106.0 L669.6,1108.5 L668.9,1110.9 L668.2,1113.4 L667.5,1115.8 L666.7,1118.2 L666.0,1120.6 L665.3,1123.1 L664.6,1125.5"/></g>
<path d="M639.5,1118.2 L638.9,1120.6 L638.2,1123.0 L637.4,1125.4 L636.7,1127.8 L636.0,1130.2 L635.3,1132.5 L634.5,1134.9 L633.8,1137.3 L633.0,1139.7 L632.3,1142.1 L631.5,1144.4 L630.7,1146.8 L629.9,1149.2 L629.1,1151.6 L628.3,1154.0 L627.4,1156.4 L626.6,1158.8 L625.7,1161.2 L624.8,1163.6 L623.9,1166.0 L623.0,1168.5 L622.1,1170.9 L621.2,1173.3 L620.2,1175.8 L619.2,1178.3 L618.2,1180.7 L617.2,1183.2 L616.2,1185.7 L615.1,1188.2 L614.0,1190.7 L612.9,1193.2 L611.8,1195.8 L610.6,1198.3 L609.4,1200.9 L608.2,1203.4 L607.0,1206.0 L605.7,1208.6 L604.4,1211.2 L603.0,1213.9 L601.6,1216.5 L600.2,1219.2 L598.8,1221.8 L597.3,1224.5 L595.8,1227.2 L594.2,1229.9 L592.5,1232.7 L590.9,1235.4 L589.2,1238.2 L587.4,1241.0 L585.5,1243.8 L583.7,1246.6 L581.7,1249.4 L579.7,1252.3 L577.6,1255.1 L575.5,1258.0 L573.3,1260.9 L571.0,1263.8 L568.6,1266.7 L566.2,1269.6 L563.6,1272.5 L561.0,1275.4 L558.3,1278.3 L555.5,1281.2 L552.6,1284.1 L549.6,1286.9 L546.4,1289.8 L543.2,1292.7 L539.9,1295.5 L536.4,1298.3 L532.8,1301.0 L529.1,1303.7 L525.3,1306.4 L521.3,1309.0 L517.2,1311.5 L513.0,1313.9 L508.7,1316.3 L504.2,1318.6 L499.6,1320.7 L494.8,1322.8 L490.0,1324.7 L485.0,1326.4 L479.9,1328.0 L474.8,1329.5 L469.5,1330.8 L464.1,1331.9 L458.7,1332.8 L453.2,1333.5 L447.7,1334.0 L442.2,1334.3 L436.6,1334.4 L431.0,1334.3 L425.5,1334.0 L420.0,1333.5 L414.5,1332.8 L409.1,1331.9 L403.7,1330.8 L398.5,1329.5 L393.3,1328.0 L388.2,1326.4 L383.2,1324.7 L378.4,1322.8 L373.7,1320.7 L369.1,1318.6 L364.6,1316.3 L360.2,1313.9 L356.0,1311.5 L351.9,1309.0 L348.0,1306.4 L344.1,1303.7 L340.4,1301.0 L336.8,1298.3 L333.4,1295.5 L330.0,1292.7 L326.8,1289.8 L323.7,1286.9 L320.7,1284.1 L317.7,1281.2 L314.9,1278.3 L312.2,1275.4 L309.6,1272.5 L307.1,1269.6 L304.6,1266.7 L302.2,1263.8 L300.0,1260.9 L297.7,1258.0 L295.6,1255.1 L293.5,1252.3 L291.5,1249.4 L289.6,1246.6 L287.7,1243.8 L285.8,1241.0 L284.1,1238.2 L282.4,1235.4 L280.7,1232.7 L279.1,1229.9 L277.5,1227.2 L275.9,1224.5 L274.4,1221.8 L273.0,1219.2 L271.6,1216.5 L270.2,1213.9 L268.9,1211.2 L267.5,1208.6 L266.3,1206.0 L265.0,1203.4 L263.8,1200.9 L262.6,1198.3 L261.5,1195.8 L260.3,1193.2 L259.2,1190.7 L258.1,1188.2 L257.1,1185.7 L256.0,1183.2 L255.0,1180.7 L254.0,1178.3 L253.0,1175.8 L252.1,1173.3 L251.1,1170.9 L250.2,1168.5 L249.3,1166.0 L248.4,1163.6 L247.5,1161.2 L246.7,1158.8 L245.8,1156.4 L245.0,1154.0 L244.1,1151.6 L243.3,1149.2 L242.5,1146.8 L241.7,1144.4 L241.0,1142.1 L240.2,1139.7 L239.4,1137.3 L238.7,1134.9 L237.9,1132.5 L237.2,1130.2 L236.5,1127.8 L235.8,1125.4 L235.1,1123.0 L234.4,1120.6 L233.7,1118.2 L233.0,1115.8 L232.3,1113.4 L231.6,1111.0 L231.0,1108.6 L230.3,1106.2 L229.6,1103.8 L229.0,1101.3 L228.3,1098.9 L227.7,1096.4 L227.0,1094.0 L226.4,1091.5 L225.8,1089.0 L225.1,1086.5 L224.5,1084.0 L223.9,1081.5 L223.2,1079.0 L222.6,1076.4 L222.0,1073.9 L221.3,1071.3 L220.7,1068.7 L220.1,1066.1 L219.4,1063.5 L218.8,1060.8 L218.2,1058.1 L217.5,1055.4 L216.9,1052.7 L216.3,1050.0 L215.6,1047.2 L215.0,1044.4 L214.3,1041.5 L213.7,1038.7 L213.0,1035.8 L212.3,1032.9 L211.7,1029.9 L211.0,1026.9 L210.3,1023.9 L209.6,1020.8 L208.9,1017.7 L208.2,1014.6 L207.5,1011.4 L206.7,1008.1 L206.0,1004.8 L205.2,1001.5 L204.5,998.1 L203.7,994.6 L202.9,991.1 L202.1,987.6 L201.2,983.9 L200.4,980.2 L199.5,976.4 L198.6,972.6 L197.6,968.6 L196.7,964.6 L195.7,960.5 L194.6,956.3 L193.5,952.0 L192.4,947.5 L191.3,943.0 L190.1,938.4 L188.8,933.6 L187.5,928.7 L186.1,923.6 L184.7,918.4 L183.1,913.0 L181.5,907.5 L179.7,901.8 L177.9,895.8 L175.9,889.7 L173.8,883.3 L171.5,876.7 L169.1,869.8 L166.4,862.6 L163.5,855.2 L160.3,847.3 L156.7,839.2 L152.8,830.6 L148.4,821.6 L143.5,812.2 L137.9,802.4 L131.5,792.1 L124.2,781.3 L115.8,770.0 L106.0,758.5 L94.5,746.7 L81.1,735.0 L65.4,723.9 L47.3,713.8 L26.8,705.6 L19.5,703.9 M931.5,703.9 L916.2,700.3 L892.6,698.4 L869.0,700.3 L846.5,705.6 L826.0,713.8 L807.8,723.9 L792.2,735.0 L778.7,746.7 L767.3,758.5 L757.4,770.0 L749.0,781.3 L741.7,792.1 L735.3,802.4 L729.7,812.2 L724.8,821.6 L720.4,830.6 L716.5,839.2 L713.0,847.3 L709.8,855.2 L706.8,862.6 L704.2,869.8 L701.7,876.7 L699.4,883.3 L697.3,889.7 L695.3,895.8 L693.5,901.8 L691.7,907.5 L690.1,913.0 L688.6,918.4 L687.1,923.6 L685.7,928.7 L684.4,933.6 L683.2,938.4 L681.9,943.0 L680.8,947.5 L679.7,952.0 L678.6,956.3 L677.6,960.5 L676.6,964.6 L675.6,968.6 L674.7,972.6 L673.8,976.4 L672.9,980.2 L672.0,983.9 L671.2,987.6 L670.3,991.1 L669.5,994.6 L668.8,998.1 L668.0,1001.5 L667.2,1004.8 L666.5,1008.1 L665.7,1011.4 L665.0,1014.6 L664.3,1017.7 L663.6,1020.8 L662.9,1023.9 L662.2,1026.9 L661.6,1029.9 L660.9,1032.9 L660.2,1035.8 L659.6,1038.7 L658.9,1041.5 L658.2,1044.4 L657.6,1047.2 L657.0,1050.0 L656.3,1052.7 L655.7,1055.4 L655.0,1058.1 L654.4,1060.8 L653.8,1063.5 L653.2,1066.1 L652.5,1068.7 L651.9,1071.3 L651.3,1073.9 L650.6,1076.4 L650.0,1079.0 L649.4,1081.5 L648.7,1084.0 L648.1,1086.5 L647.5,1089.0 L646.8,1091.5 L646.2,1094.0 L645.5,1096.4 L644.9,1098.9 L644.2,1101.3 L643.6,1103.8 L642.9,1106.2 L642.3,1108.6 L641.6,1111.0 L640.9,1113.4 L640.2,1115.8 L639.5,1118.2" stroke="#000" stroke-width="1"/>
<g stroke="#000" stroke-width="1.15" stroke-dasharray="7 8"><path d="M616.2,1111.7 L615.6,1114.0 L614.9,1116.2 L614.2,1118.5 L613.6,1120.8 L612.9,1123.1 L612.2,1125.4 L611.4,1127.6 L610.7,1129.9 L610.0,1132.2 L609.2,1134.4 L608.4,1136.7 L607.7,1138.9 L606.8,1141.2 L606.0,1143.4 L605.2,1145.7 L604.3,1147.9 L603.5,1150.2 L602.6,1152.4 L601.7,1154.7 L600.7,1156.9 L599.8,1159.2 L598.8,1161.4 L597.8,1163.6 L596.8,1165.9 L595.8,1168.2 L594.7,1170.4 L593.7,1172.7 L592.6,1174.9 L591.4,1177.2 L590.3,1179.4 L589.1,1181.7 L587.9,1184.0 L586.7,1186.2 L585.4,1188.5 L584.1,1190.8 L582.8,1193.1 L581.4,1195.3 L580.0,1197.6 L578.6,1199.9 L577.2,1202.2 L575.7,1204.5 L574.1,1206.8 L572.6,1209.1 L571.0,1211.3 L569.3,1213.6 L567.6,1215.9 L565.9,1218.2 L564.1,1220.5 L562.3,1222.8 L560.4,1225.1 L558.5,1227.3 L556.5,1229.6 L554.5,1231.9 L552.4,1234.1 L550.3,1236.4 L548.1,1238.6 L545.8,1240.8 L543.5,1243.0 L541.1,1245.2 L538.7,1247.4 L536.2,1249.5 L533.7,1251.6 L531.0,1253.7 L528.3,1255.8 L525.6,1257.8 L522.8,1259.8 L519.9,1261.8 L516.9,1263.7 L513.9,1265.6 L510.8,1267.4 L507.6,1269.2 L504.3,1270.9 L501.0,1272.6 L497.7,1274.2 L494.2,1275.7 L490.7,1277.2 L487.1,1278.5 L483.5,1279.8 L479.8,1281.0 L476.1,1282.2 L472.3,1283.2 L468.4,1284.1 L464.6,1284.9 L460.6,1285.7 L456.7,1286.3 L452.7,1286.8 L448.7,1287.2 L444.7,1287.5 L440.7,1287.6 L436.6,1287.7 L432.6,1287.6 L428.5,1287.5 L424.5,1287.2 L420.5,1286.8 L416.5,1286.3 L412.6,1285.7 L408.7,1284.9 L404.8,1284.1 L400.9,1283.2 L397.2,1282.2 L393.4,1281.0 L389.7,1279.8 L386.1,1278.5 L382.5,1277.2 L379.0,1275.7 L375.6,1274.2 L372.2,1272.6 L368.9,1270.9 L365.6,1269.2 L362.5,1267.4 L359.4,1265.6 L356.3,1263.7 L353.4,1261.8 L350.5,1259.8 L347.6,1257.8 L344.9,1255.8 L342.2,1253.7 L339.6,1251.6 L337.0,1249.5 L334.5,1247.4 L332.1,1245.2 L329.7,1243.0 L327.4,1240.8 L325.2,1238.6 L323.0,1236.4 L320.8,1234.1 L318.8,1231.9 L316.7,1229.6 L314.8,1227.3 L312.8,1225.1 L311.0,1222.8 L309.1,1220.5 L307.4,1218.2 L305.6,1215.9 L303.9,1213.6 L302.3,1211.3 L300.7,1209.1 L299.1,1206.8 L297.6,1204.5 L296.1,1202.2 L294.6,1199.9 L293.2,1197.6 L291.8,1195.3 L290.4,1193.1 L289.1,1190.8 L287.8,1188.5 L286.6,1186.2 L285.3,1184.0 L284.1,1181.7 L282.9,1179.4 L281.8,1177.2 L280.7,1174.9 L279.6,1172.7 L278.5,1170.4 L277.4,1168.2 L276.4,1165.9 L275.4,1163.6 L274.4,1161.4 L273.4,1159.2 L272.5,1156.9 L271.6,1154.7 L270.7,1152.4 L269.8,1150.2 L268.9,1147.9 L268.0,1145.7 L267.2,1143.4 L266.4,1141.2 L265.6,1138.9 L264.8,1136.7 L264.0,1134.4 L263.3,1132.2 L262.5,1129.9 L261.8,1127.6 L261.1,1125.4 L260.4,1123.1 L259.7,1120.8 L259.0,1118.5 L258.3,1116.2 L257.7,1114.0 L257.0,1111.7 L256.4,1109.3 L255.8,1107.0 L255.2,1104.7 L254.6,1102.4 L254.0,1100.0 L253.4,1097.7 L252.9,1095.3 L252.3,1093.0 L251.8,1090.6 L251.2,1088.2 L250.7,1085.8 L250.2,1083.4 L249.7,1080.9 L249.2,1078.5 L248.7,1076.0 L248.2,1073.5 L247.8,1071.0 L247.3,1068.5 L246.9,1066.0 L246.4,1063.4 L246.0,1060.9 L245.6,1058.3 L245.2,1055.6 L244.8,1053.0 L244.4,1050.3 L244.0,1047.7 L243.6,1044.9 L243.2,1042.2 L242.9,1039.4 L242.5,1036.6 L242.2,1033.8 L241.9,1030.9 L241.6,1028.0 L241.2,1025.1 L240.9,1022.1 L240.7,1019.1 L240.4,1016.0 L240.1,1012.9 L239.9,1009.8 L239.6,1006.6 L239.4,1003.3 L239.2,1000.0 L238.9,996.7 L238.8,993.3 L238.6,989.8 L238.4,986.3 L238.3,982.7 L238.1,979.0 L238.0,975.3 L237.9,971.5 L237.8,967.6 L237.8,963.6 L237.7,959.6 L237.7,955.4 L237.7,951.1 L237.8,946.8 L237.8,942.3 L237.9,937.7 L238.1,932.9 L238.2,928.0 L238.4,923.0 L238.7,917.8 L239.0,912.5 L239.4,907.0 L239.8,901.2 L240.3,895.3 L240.8,889.1 L241.5,882.7 L242.2,876.0 L243.1,869.1 L244.1,861.8 L245.2,854.1 L246.5,846.1 L248.0,837.7 L249.8,828.7 L251.8,819.3 L254.2,809.2 L257.0,798.5 L260.3,787.0 L264.3,774.7 L269.1,761.4 L275.1,747.1 L282.4,731.6 L291.7,714.8 L303.6,696.7 L319.2,677.7 L339.5,658.4 L366.0,640.5 L399.0,627.3 L436.6,622.3 L474.2,627.3 L507.2,640.5 L533.7,658.4 L554.1,677.7 L569.6,696.7 L581.5,714.8 L590.8,731.6 L598.2,747.1 L604.1,761.4 L608.9,774.7 L612.9,787.0 L616.2,798.5 L619.1,809.2 L621.4,819.3 L623.5,828.7 L625.2,837.7 L626.7,846.1 L628.0,854.1 L629.2,861.8 L630.2,869.1 L631.0,876.0 L631.8,882.7 L632.4,889.1 L633.0,895.3 L633.5,901.2 L633.9,907.0 L634.2,912.5 L634.5,917.8 L634.8,923.0 L635.0,928.0 L635.2,932.9 L635.3,937.7 L635.4,942.3 L635.5,946.8 L635.5,951.1 L635.5,955.4 L635.5,959.6 L635.5,963.6 L635.4,967.6 L635.3,971.5 L635.2,975.3 L635.1,979.0 L635.0,982.7 L634.8,986.3 L634.7,989.8 L634.5,993.3 L634.3,996.7 L634.1,1000.0 L633.9,1003.3 L633.6,1006.6 L633.4,1009.8 L633.1,1012.9 L632.9,1016.0 L632.6,1019.1 L632.3,1022.1 L632.0,1025.1 L631.7,1028.0 L631.4,1030.9 L631.0,1033.8 L630.7,1036.6 L630.3,1039.4 L630.0,1042.2 L629.6,1044.9 L629.2,1047.7 L628.9,1050.3 L628.5,1053.0 L628.1,1055.6 L627.6,1058.3 L627.2,1060.9 L626.8,1063.4 L626.4,1066.0 L625.9,1068.5 L625.5,1071.0 L625.0,1073.5 L624.5,1076.0 L624.0,1078.5 L623.5,1080.9 L623.0,1083.4 L622.5,1085.8 L622.0,1088.2 L621.5,1090.6 L620.9,1093.0 L620.4,1095.3 L619.8,1097.7 L619.2,1100.0 L618.6,1102.4 L618.0,1104.7 L617.4,1107.0 L616.8,1109.3 L616.2,1111.7"/><path transform="translate(1,0)" d="M616.2,1111.7 L615.6,1114.0 L614.9,1116.2 L614.2,1118.5 L613.6,1120.8 L612.9,1123.1 L612.2,1125.4 L611.4,1127.6 L610.7,1129.9 L610.0,1132.2 L609.2,1134.4 L608.4,1136.7 L607.7,1138.9 L606.8,1141.2 L606.0,1143.4 L605.2,1145.7 L604.3,1147.9 L603.5,1150.2 L602.6,1152.4 L601.7,1154.7 L600.7,1156.9 L599.8,1159.2 L598.8,1161.4 L597.8,1163.6 L596.8,1165.9 L595.8,1168.2 L594.7,1170.4 L593.7,1172.7 L592.6,1174.9 L591.4,1177.2 L590.3,1179.4 L589.1,1181.7 L587.9,1184.0 L586.7,1186.2 L585.4,1188.5 L584.1,1190.8 L582.8,1193.1 L581.4,1195.3 L580.0,1197.6 L578.6,1199.9 L577.2,1202.2 L575.7,1204.5 L574.1,1206.8 L572.6,1209.1 L571.0,1211.3 L569.3,1213.6 L567.6,1215.9 L565.9,1218.2 L564.1,1220.5 L562.3,1222.8 L560.4,1225.1 L558.5,1227.3 L556.5,1229.6 L554.5,1231.9 L552.4,1234.1 L550.3,1236.4 L548.1,1238.6 L545.8,1240.8 L543.5,1243.0 L541.1,1245.2 L538.7,1247.4 L536.2,1249.5 L533.7,1251.6 L531.0,1253.7 L528.3,1255.8 L525.6,1257.8 L522.8,1259.8 L519.9,1261.8 L516.9,1263.7 L513.9,1265.6 L510.8,1267.4 L507.6,1269.2 L504.3,1270.9 L501.0,1272.6 L497.7,1274.2 L494.2,1275.7 L490.7,1277.2 L487.1,1278.5 L483.5,1279.8 L479.8,1281.0 L476.1,1282.2 L472.3,1283.2 L468.4,1284.1 L464.6,1284.9 L460.6,1285.7 L456.7,1286.3 L452.7,1286.8 L448.7,1287.2 L444.7,1287.5 L440.7,1287.6 L436.6,1287.7 L432.6,1287.6 L428.5,1287.5 L424.5,1287.2 L420.5,1286.8 L416.5,1286.3 L412.6,1285.7 L408.7,1284.9 L404.8,1284.1 L400.9,1283.2 L397.2,1282.2 L393.4,1281.0 L389.7,1279.8 L386.1,1278.5 L382.5,1277.2 L379.0,1275.7 L375.6,1274.2 L372.2,1272.6 L368.9,1270.9 L365.6,1269.2 L362.5,1267.4 L359.4,1265.6 L356.3,1263.7 L353.4,1261.8 L350.5,1259.8 L347.6,1257.8 L344.9,1255.8 L342.2,1253.7 L339.6,1251.6 L337.0,1249.5 L334.5,1247.4 L332.1,1245.2 L329.7,1243.0 L327.4,1240.8 L325.2,1238.6 L323.0,1236.4 L320.8,1234.1 L318.8,1231.9 L316.7,1229.6 L314.8,1227.3 L312.8,1225.1 L311.0,1222.8 L309.1,1220.5 L307.4,1218.2 L305.6,1215.9 L303.9,1213.6 L302.3,1211.3 L300.7,1209.1 L299.1,1206.8 L297.6,1204.5 L296.1,1202.2 L294.6,1199.9 L293.2,1197.6 L291.8,1195.3 L290.4,1193.1 L289.1,1190.8 L287.8,1188.5 L286.6,1186.2 L285.3,1184.0 L284.1,1181.7 L282.9,1179.4 L281.8,1177.2 L280.7,1174.9 L279.6,1172.7 L278.5,1170.4 L277.4,1168.2 L276.4,1165.9 L275.4,1163.6 L274.4,1161.4 L273.4,1159.2 L272.5,1156.9 L271.6,1154.7 L270.7,1152.4 L269.8,1150.2 L268.9,1147.9 L268.0,1145.7 L267.2,1143.4 L266.4,1141.2 L265.6,1138.9 L264.8,1136.7 L264.0,1134.4 L263.3,1132.2 L262.5,1129.9 L261.8,1127.6 L261.1,1125.4 L260.4,1123.1 L259.7,1120.8 L259.0,1118.5 L258.3,1116.2 L257.7,1114.0 L257.0,1111.7 L256.4,1109.3 L255.8,1107.0 L255.2,1104.7 L254.6,1102.4 L254.0,1100.0 L253.4,1097.7 L252.9,1095.3 L252.3,1093.0 L251.8,1090.6 L251.2,1088.2 L250.7,1085.8 L250.2,1083.4 L249.7,1080.9 L249.2,1078.5 L248.7,1076.0 L248.2,1073.5 L247.8,1071.0 L247.3,1068.5 L246.9,1066.0 L246.4,1063.4 L246.0,1060.9 L245.6,1058.3 L245.2,1055.6 L244.8,1053.0 L244.4,1050.3 L244.0,1047.7 L243.6,1044.9 L243.2,1042.2 L242.9,1039.4 L242.5,1036.6 L242.2,1033.8 L241.9,1030.9 L241.6,1028.0 L241.2,1025.1 L240.9,1022.1 L240.7,1019.1 L240.4,1016.0 L240.1,1012.9 L239.9,1009.8 L239.6,1006.6 L239.4,1003.3 L239.2,1000.0 L238.9,996.7 L238.8,993.3 L238.6,989.8 L238.4,986.3 L238.3,982.7 L238.1,979.0 L238.0,975.3 L237.9,971.5 L237.8,967.6 L237.8,963.6 L237.7,959.6 L237.7,955.4 L237.7,951.1 L237.8,946.8 L237.8,942.3 L237.9,937.7 L238.1,932.9 L238.2,928.0 L238.4,923.0 L238.7,917.8 L239.0,912.5 L239.4,907.0 L239.8,901.2 L240.3,895.3 L240.8,889.1 L241.5,882.7 L242.2,876.0 L243.1,869.1 L244.1,861.8 L245.2,854.1 L246.5,846.1 L248.0,837.7 L249.8,828.7 L251.8,819.3 L254.2,809.2 L257.0,798.5 L260.3,787.0 L264.3,774.7 L269.1,761.4 L275.1,747.1 L282.4,731.6 L291.7,714.8 L303.6,696.7 L319.2,677.7 L339.5,658.4 L366.0,640.5 L399.0,627.3 L436.6,622.3 L474.2,627.3 L507.2,640.5 L533.7,658.4 L554.1,677.7 L569.6,696.7 L581.5,714.8 L590.8,731.6 L598.2,747.1 L604.1,761.4 L608.9,774.7 L612.9,787.0 L616.2,798.5 L619.1,809.2 L621.4,819.3 L623.5,828.7 L625.2,837.7 L626.7,846.1 L628.0,854.1 L629.2,861.8 L630.2,869.1 L631.0,876.0 L631.8,882.7 L632.4,889.1 L633.0,895.3 L633.5,901.2 L633.9,907.0 L634.2,912.5 L634.5,917.8 L634.8,923.0 L635.0,928.0 L635.2,932.9 L635.3,937.7 L635.4,942.3 L635.5,946.8 L635.5,951.1 L635.5,955.4 L635.5,959.6 L635.5,963.6 L635.4,967.6 L635.3,971.5 L635.2,975.3 L635.1,979.0 L635.0,982.7 L634.8,986.3 L634.7,989.8 L634.5,993.3 L634.3,996.7 L634.1,1000.0 L633.9,1003.3 L633.6,1006.6 L633.4,1009.8 L633.1,1012.9 L632.9,1016.0 L632.6,1019.1 L632.3,1022.1 L632.0,1025.1 L631.7,1028.0 L631.4,1030.9 L631.0,1033.8 L630.7,1036.6 L630.3,1039.4 L630.0,1042.2 L629.6,1044.9 L629.2,1047.7 L628.9,1050.3 L628.5,1053.0 L628.1,1055.6 L627.6,1058.3 L627.2,1060.9 L626.8,1063.4 L626.4,1066.0 L625.9,1068.5 L625.5,1071.0 L625.0,1073.5 L624.5,1076.0 L624.0,1078.5 L623.5,1080.9 L623.0,1083.4 L622.5,1085.8 L622.0,1088.2 L621.5,1090.6 L620.9,1093.0 L620.4,1095.3 L619.8,1097.7 L619.2,1100.0 L618.6,1102.4 L618.0,1104.7 L617.4,1107.0 L616.8,1109.3 L616.2,1111.7"/></g>
<path d="M259.5,944.8 L252.1,950.0 L243.2,955.7 L226.8,972.5 L197.4,1006.7 L187.3,1020.5 L163.7,1048.8 L155.3,1061.5 L136.3,1085.2 L127.5,1097.5 L121.0,1109.5 L117.8,1120.5 L113.6,1142.4 L111.0,1157.6 L106.0,1167.3 L100.9,1173.1 L82.8,1198.3 L74.3,1209.8 L49.6,1241.0 L37.8,1255.8 L20.1,1276.3 L18.0,1278.7 M933.0,1277.5 L931.5,1278.8 L913.8,1294.4 L893.5,1313.5 L883.4,1320.0" stroke="#ff6347" stroke-width="1.3" stroke-dasharray="5.5 8.5" stroke-dashoffset="6.5"/>
<path d="M392.3,915.4 L413.6,922.9 L435.0,931.8 L452.7,941.9 L492.9,969.3 L504.9,981.7 L529.8,1012.2 L535.4,1027.0 L541.6,1044.7 L544.9,1056.0 L545.5,1064.9 L546.0,1092.9 L546.0,1119.2 L547.0,1135.6 L548.1,1146.1 L553.6,1162.7 L561.8,1181.7 L570.2,1200.9 L581.8,1220.2 L592.3,1235.0 L607.4,1250.1 L624.9,1272.4 L644.9,1289.7 L666.0,1300.2 L687.0,1307.6 L699.6,1311.2" stroke="#ff6347" stroke-width="1.3" stroke-dasharray="6.5 7.5" stroke-dashoffset="1.7"/>
<g stroke="#0000ff" stroke-width="1.3" stroke-dasharray="7 7"><path d="M259.5,944.8 L252.1,950.0 L243.2,955.7 L226.8,972.5 L197.4,1006.7 L187.3,1020.5 L163.7,1048.8 L155.3,1061.5 L136.3,1085.2 L129.9,1094.4 L123.7,1108.7 L120.3,1123.9 L116.9,1137.4 L113.6,1150.8 L108.0,1163.0 L100.9,1173.1 L82.8,1198.3 L74.3,1209.8 L49.6,1241.0 L37.8,1255.8 L20.1,1276.3 L18.0,1278.7 M933.0,1277.5 L931.5,1278.8 L913.8,1294.4 L893.5,1313.5 L883.4,1320.0 M393.7,915.7 L415.0,923.2 L436.4,932.1 L454.1,942.2 L494.3,969.6 L506.3,982.0 L531.2,1012.5 L536.8,1027.3 L543.0,1045.0 L546.3,1056.3 L546.9,1065.2 L547.4,1093.2 L547.4,1119.5 L548.4,1135.9 L549.5,1146.4 L555.0,1163.0 L563.2,1182.0 L571.6,1201.2 L583.2,1220.5 L593.7,1235.3 L608.8,1250.4 L626.3,1272.7 L646.3,1290.0 L667.4,1300.5 L688.4,1307.9 L701.0,1311.5"/><path transform="translate(1,0)" d="M259.5,944.8 L252.1,950.0 L243.2,955.7 L226.8,972.5 L197.4,1006.7 L187.3,1020.5 L163.7,1048.8 L155.3,1061.5 L136.3,1085.2 L129.9,1094.4 L123.7,1108.7 L120.3,1123.9 L116.9,1137.4 L113.6,1150.8 L108.0,1163.0 L100.9,1173.1 L82.8,1198.3 L74.3,1209.8 L49.6,1241.0 L37.8,1255.8 L20.1,1276.3 L18.0,1278.7 M933.0,1277.5 L931.5,1278.8 L913.8,1294.4 L893.5,1313.5 L883.4,1320.0 M393.7,915.7 L415.0,923.2 L436.4,932.1 L454.1,942.2 L494.3,969.6 L506.3,982.0 L531.2,1012.5 L536.8,1027.3 L543.0,1045.0 L546.3,1056.3 L546.9,1065.2 L547.4,1093.2 L547.4,1119.5 L548.4,1135.9 L549.5,1146.4 L555.0,1163.0 L563.2,1182.0 L571.6,1201.2 L583.2,1220.5 L593.7,1235.3 L608.8,1250.4 L626.3,1272.7 L646.3,1290.0 L667.4,1300.5 L688.4,1307.9 L701.0,1311.5"/></g>
<path d="M235.0,955.5h17M243.5,947.0v17 M189.0,1006.5h17M197.5,998.0v17 M155.0,1048.5h17M163.5,1040.0v17 M128.0,1085.5h17M136.5,1077.0v17 M98.0,1167.5h17M106.5,1159.0v17 M74.0,1198.5h17M82.5,1190.0v17 M41.0,1241.5h17M49.5,1233.0v17 M905.0,1294.5h17M913.5,1286.0v17 M541.0,1146.5h17M549.5,1138.0v17 M563.0,1201.5h17M571.5,1193.0v17 M618.0,1272.5h17M626.5,1264.0v17 M538.0,1065.5h17M546.5,1057.0v17 M528.0,1027.5h17M536.5,1019.0v17 M498.0,982.5h17M506.5,974.0v17 M446.0,942.5h17M454.5,934.0v17" stroke="#ff6347" stroke-width="1"/>
<path d="M218.0,972.5h17M226.5,964.0v17 M179.0,1020.5h17M187.5,1012.0v17 M147.0,1061.5h17M155.5,1053.0v17 M121.0,1094.5h17M129.5,1086.0v17 M92.0,1173.5h17M100.5,1165.0v17 M66.0,1209.5h17M74.5,1201.0v17 M29.0,1255.5h17M37.5,1247.0v17 M885.0,1313.5h17M893.5,1305.0v17 M540.0,1135.5h17M548.5,1127.0v17 M555.0,1182.5h17M563.5,1174.0v17 M600.0,1250.5h17M608.5,1242.0v17 M538.0,1056.5h17M546.5,1048.0v17 M523.0,1012.5h17M531.5,1004.0v17 M486.0,969.5h17M494.5,961.0v17 M428.0,932.5h17M436.5,924.0v17" stroke="#0000ff" stroke-width="1"/>
</g>
<rect x="102.9" y="917.0" width="9" height="9" fill="#57b260" stroke="#000" stroke-width="1"/><rect x="106.9" y="921.0" width="1" height="1" fill="#dfd"/>
<rect x="182.9" y="954.6" width="9" height="9" fill="#57b260" stroke="#000" stroke-width="1"/><rect x="186.9" y="958.6" width="1" height="1" fill="#dfd"/>
<rect x="262.5" y="976.0" width="9" height="9" fill="#57b260" stroke="#000" stroke-width="1"/><rect x="266.5" y="980.0" width="1" height="1" fill="#dfd"/>
<rect x="537.5" y="884.7" width="9" height="9" fill="#57b260" stroke="#000" stroke-width="1"/><rect x="541.5" y="888.7" width="1" height="1" fill="#dfd"/>
<rect x="541.9" y="904.6" width="9" height="9" fill="#57b260" stroke="#000" stroke-width="1"/><rect x="545.9" y="908.6" width="1" height="1" fill="#dfd"/>
<rect x="693.7" y="868.3" width="9" height="9" fill="#57b260" stroke="#000" stroke-width="1"/><rect x="697.7" y="872.3" width="1" height="1" fill="#dfd"/>
<rect x="799.9" y="913.4" width="9" height="9" fill="#57b260" stroke="#000" stroke-width="1"/><rect x="803.9" y="917.4" width="1" height="1" fill="#dfd"/>
<path d="M516.6,792.9L522.0,803.0H511.2Z" fill="#ee82ee" stroke="#000" stroke-width="1"/>
<path d="M523.7,870.8L529.1,880.9H518.3Z" fill="#ee82ee" stroke="#000" stroke-width="1"/>
<g clip-path="url(#clip2)">
<text x="232.4" y="953.4" font-size="15.2" fill="#ff6347" stroke="#ff6347">5</text>
<text x="176.1 186.6" y="1004.4" font-size="15.2" fill="#ff6347" stroke="#ff6347">10</text>
<text x="142.4 152.9" y="1046.5" font-size="15.2" fill="#ff6347" stroke="#ff6347">15</text>
<text x="115.0 125.5" y="1082.9" font-size="15.2" fill="#ff6347" stroke="#ff6347">20</text>
<text x="84.7 95.2" y="1165.0" font-size="15.2" fill="#ff6347" stroke="#ff6347">25</text>
<text x="61.5 72.0" y="1196.0" font-size="15.2" fill="#ff6347" stroke="#ff6347">30</text>
<text x="28.3 38.8" y="1238.7" font-size="15.2" fill="#ff6347" stroke="#ff6347">35</text>
<text x="892.5 903.0" y="1292.1" font-size="15.2" fill="#ff6347" stroke="#ff6347">40</text>
<text x="528.2 538.7" y="1144.1" font-size="15.2" fill="#ff6347" stroke="#ff6347">65</text>
<text x="550.3 560.8" y="1198.9" font-size="15.2" fill="#ff6347" stroke="#ff6347">60</text>
<text x="605.0 615.5" y="1270.4" font-size="15.2" fill="#ff6347" stroke="#ff6347">55</text>
<text x="525.4 535.9" y="1062.9" font-size="15.2" fill="#ff6347" stroke="#ff6347">70</text>
<text x="515.5 526.0" y="1025.0" font-size="15.2" fill="#ff6347" stroke="#ff6347">75</text>
<text x="485.0 495.5" y="979.7" font-size="15.2" fill="#ff6347" stroke="#ff6347">80</text>
<text x="432.8 443.3" y="939.9" font-size="15.2" fill="#ff6347" stroke="#ff6347">85</text>
<text x="236.4" y="970.2" font-size="15.2" fill="#0000ff" stroke="#0000ff" font-weight="bold">5</text>
<text x="196.9 207.4" y="1018.2" font-size="15.2" fill="#0000ff" stroke="#0000ff" font-weight="bold">10</text>
<text x="164.9 175.4" y="1059.2" font-size="15.2" fill="#0000ff" stroke="#0000ff" font-weight="bold">15</text>
<text x="139.5 150.0" y="1092.1" font-size="15.2" fill="#0000ff" stroke="#0000ff" font-weight="bold">20</text>
<text x="110.5 121.0" y="1170.8" font-size="15.2" fill="#0000ff" stroke="#0000ff" font-weight="bold">25</text>
<text x="83.9 94.4" y="1207.5" font-size="15.2" fill="#0000ff" stroke="#0000ff" font-weight="bold">30</text>
<text x="47.4 57.9" y="1253.5" font-size="15.2" fill="#0000ff" stroke="#0000ff" font-weight="bold">35</text>
<text x="903.1 913.6" y="1311.2" font-size="15.2" fill="#0000ff" stroke="#0000ff" font-weight="bold">40</text>
<text x="558.0 568.5" y="1133.6" font-size="15.2" fill="#0000ff" stroke="#0000ff" font-weight="bold">65</text>
<text x="572.8 583.3" y="1179.7" font-size="15.2" fill="#0000ff" stroke="#0000ff" font-weight="bold">60</text>
<text x="618.4 628.9" y="1248.1" font-size="15.2" fill="#0000ff" stroke="#0000ff" font-weight="bold">55</text>
<text x="555.9 566.4" y="1054.0" font-size="15.2" fill="#0000ff" stroke="#0000ff" font-weight="bold">70</text>
<text x="540.8 551.3" y="1010.2" font-size="15.2" fill="#0000ff" stroke="#0000ff" font-weight="bold">75</text>
<text x="503.9 514.4" y="967.3" font-size="15.2" fill="#0000ff" stroke="#0000ff" font-weight="bold">80</text>
<text x="446.0 456.5" y="929.8" font-size="15.2" fill="#0000ff" stroke="#0000ff" font-weight="bold">85</text>
</g>
<rect x="9.5" y="764.5" width="932" height="720.0" fill="none" stroke="#000" stroke-width="1"/>
</g>
</svg></body></html>
